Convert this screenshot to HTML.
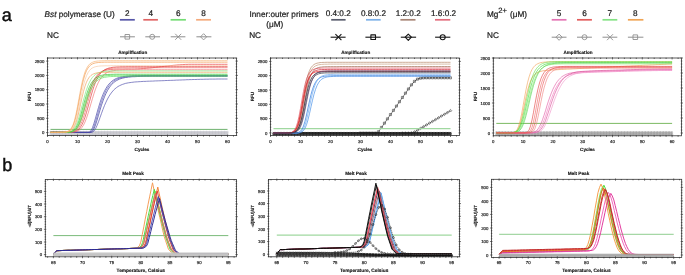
<!DOCTYPE html>
<html><head><meta charset="utf-8"><title>Figure</title>
<style>html,body{margin:0;padding:0;background:#fff;}svg{display:block;font-family:"Liberation Sans",sans-serif;text-rendering:geometricPrecision}polyline,path{fill:none;stroke-linejoin:round}.lg{stroke:#1e1e1e;stroke-width:0.22px}</style>
</head><body>
<svg width="685" height="275" viewBox="0 0 685 275" style="will-change:transform">
<rect width="685" height="275" fill="#fff"/>
<text x="1.8" y="20.6" font-size="18" fill="#111" stroke="#111" stroke-width="0.45">a</text>
<text x="2.2" y="171.0" font-size="18" fill="#111" stroke="#111" stroke-width="0.45">b</text>
<text x="44.6" y="16.6" font-size="8.2" fill="#1e1e1e" class="lg"><tspan font-style="italic">Bst</tspan> polymerase (U)</text>
<text x="127.4" y="16.3" font-size="8.2" text-anchor="middle" fill="#1e1e1e" class="lg">2</text>
<line x1="119.9" y1="19.8" x2="134.8" y2="19.8" stroke="#5656a8" stroke-width="1.7"/>
<text x="150.7" y="16.3" font-size="8.2" text-anchor="middle" fill="#1e1e1e" class="lg">4</text>
<line x1="143.3" y1="19.8" x2="157.9" y2="19.8" stroke="#e06464" stroke-width="1.7"/>
<text x="178.2" y="16.3" font-size="8.2" text-anchor="middle" fill="#1e1e1e" class="lg">6</text>
<line x1="170.6" y1="19.8" x2="185.9" y2="19.8" stroke="#74dc74" stroke-width="1.7"/>
<text x="203.5" y="16.3" font-size="8.2" text-anchor="middle" fill="#1e1e1e" class="lg">8</text>
<line x1="196.1" y1="19.8" x2="211.0" y2="19.8" stroke="#f4aa7c" stroke-width="1.7"/>
<text x="47.0" y="38.4" font-size="8.2" fill="#1e1e1e" class="lg">NC</text>
<line x1="120.0" y1="36.8" x2="134.9" y2="36.8" stroke="#8e8e8e" stroke-width="1.0"/>
<path d="M125,34.5h4.6v4.6h-4.6z" stroke="#8e8e8e" stroke-width="0.9"/>
<line x1="145.3" y1="36.8" x2="160.0" y2="36.8" stroke="#8e8e8e" stroke-width="1.0"/>
<path d="M149.7,36.8a2.5,2.5 0 1 0 5,0a2.5,2.5 0 1 0 -5,0z" stroke="#8e8e8e" stroke-width="0.9"/>
<line x1="170.7" y1="36.8" x2="185.4" y2="36.8" stroke="#8e8e8e" stroke-width="1.0"/>
<path d="M175.2,33.8l6,6M175.2,39.8l6,-6" stroke="#8e8e8e" stroke-width="0.9"/>
<line x1="196.4" y1="36.8" x2="211.4" y2="36.8" stroke="#8e8e8e" stroke-width="1.0"/>
<path d="M203.6,33.7l3.1,3.1l-3.1,3.1l-3.1,-3.1z" stroke="#8e8e8e" stroke-width="0.9"/>
<text x="249.5" y="16.6" font-size="8.2" fill="#1e1e1e" class="lg">Inner:outer primers</text>
<text x="266.3" y="26.9" font-size="8.2" fill="#1e1e1e" class="lg">(μM)</text>
<text x="325.7" y="16.4" font-size="8.2" fill="#1e1e1e" class="lg">0.4:0.2</text>
<line x1="331.2" y1="19.8" x2="345.6" y2="19.8" stroke="#585c6c" stroke-width="1.7"/>
<text x="360.9" y="16.4" font-size="8.2" fill="#1e1e1e" class="lg">0.8:0.2</text>
<line x1="366.0" y1="19.8" x2="380.7" y2="19.8" stroke="#7cb0e8" stroke-width="1.7"/>
<text x="395.7" y="16.4" font-size="8.2" fill="#1e1e1e" class="lg">1.2:0.2</text>
<line x1="400.4" y1="19.8" x2="415.5" y2="19.8" stroke="#a88474" stroke-width="1.7"/>
<text x="431.0" y="16.4" font-size="8.2" fill="#1e1e1e" class="lg">1.6:0.2</text>
<line x1="435.0" y1="19.8" x2="450.3" y2="19.8" stroke="#e26c7c" stroke-width="1.7"/>
<text x="249.2" y="38.3" font-size="8.2" fill="#1e1e1e" class="lg">NC</text>
<line x1="330.6" y1="37.2" x2="345.6" y2="37.2" stroke="#151515" stroke-width="1.1"/>
<path d="M335.4,34.2l6,6M335.4,40.2l6,-6" stroke="#151515" stroke-width="1.1"/>
<line x1="365.4" y1="37.2" x2="380.7" y2="37.2" stroke="#151515" stroke-width="1.1"/>
<path d="M370.9,34.9h4.6v4.6h-4.6z" stroke="#151515" stroke-width="1.1"/>
<line x1="400.8" y1="37.2" x2="416.1" y2="37.2" stroke="#151515" stroke-width="1.1"/>
<path d="M408.3,34.1l3.1,3.1l-3.1,3.1l-3.1,-3.1z" stroke="#151515" stroke-width="1.1"/>
<line x1="435.1" y1="37.2" x2="450.3" y2="37.2" stroke="#151515" stroke-width="1.1"/>
<path d="M440.2,37.2a2.5,2.5 0 1 0 5,0a2.5,2.5 0 1 0 -5,0z" stroke="#151515" stroke-width="1.1"/>
<text x="487.0" y="16.7" font-size="8.2" fill="#1e1e1e" class="lg">Mg</text>
<text x="498.2" y="12.6" font-size="7.6" fill="#1e1e1e" class="lg">2+</text>
<text x="510.0" y="16.7" font-size="8.2" fill="#1e1e1e" class="lg">(μM)</text>
<text x="559.1" y="16.3" font-size="8.2" text-anchor="middle" fill="#1e1e1e" class="lg">5</text>
<line x1="551.7" y1="19.8" x2="566.5" y2="19.8" stroke="#e474b4" stroke-width="1.7"/>
<text x="584.5" y="16.3" font-size="8.2" text-anchor="middle" fill="#1e1e1e" class="lg">6</text>
<line x1="577.0" y1="19.8" x2="591.9" y2="19.8" stroke="#e25c5c" stroke-width="1.7"/>
<text x="609.9" y="16.3" font-size="8.2" text-anchor="middle" fill="#1e1e1e" class="lg">7</text>
<line x1="602.5" y1="19.8" x2="617.3" y2="19.8" stroke="#84e284" stroke-width="1.7"/>
<text x="635.3" y="16.3" font-size="8.2" text-anchor="middle" fill="#1e1e1e" class="lg">8</text>
<line x1="627.9" y1="19.8" x2="643.4" y2="19.8" stroke="#f0a454" stroke-width="1.7"/>
<text x="487.0" y="38.4" font-size="8.2" fill="#1e1e1e" class="lg">NC</text>
<line x1="551.7" y1="37.2" x2="566.5" y2="37.2" stroke="#8e8e8e" stroke-width="1.0"/>
<path d="M559.1,34.1l3.1,3.1l-3.1,3.1l-3.1,-3.1z" stroke="#8e8e8e" stroke-width="0.9"/>
<line x1="577.0" y1="37.2" x2="591.9" y2="37.2" stroke="#8e8e8e" stroke-width="1.0"/>
<path d="M582,37.2a2.5,2.5 0 1 0 5,0a2.5,2.5 0 1 0 -5,0z" stroke="#8e8e8e" stroke-width="0.9"/>
<line x1="602.5" y1="37.2" x2="617.3" y2="37.2" stroke="#8e8e8e" stroke-width="1.0"/>
<path d="M607,34.2l6,6M607,40.2l6,-6" stroke="#8e8e8e" stroke-width="0.9"/>
<line x1="627.9" y1="37.2" x2="643.4" y2="37.2" stroke="#8e8e8e" stroke-width="1.0"/>
<path d="M633,34.9h4.6v4.6h-4.6z" stroke="#8e8e8e" stroke-width="0.9"/>
<line x1="50.5" y1="131.9" x2="227.5" y2="131.9" stroke="#c0c0c8" stroke-width="1.0"/>
<line x1="50.5" y1="132.9" x2="227.5" y2="132.9" stroke="#c0c0c8" stroke-width="1.0"/>
<line x1="50.5" y1="133.9" x2="227.5" y2="133.9" stroke="#c0c0c8" stroke-width="1.0"/>
<line x1="50.5" y1="134.9" x2="227.5" y2="134.9" stroke="#c0c0c8" stroke-width="1.0"/>
<path d="M49.8,131.2h1.4v1.4h-1.4zM52.8,131.2h1.4v1.4h-1.4zM55.8,131.2h1.4v1.4h-1.4zM58.8,131.2h1.4v1.4h-1.4zM61.8,131.2h1.4v1.4h-1.4zM64.8,131.2h1.4v1.4h-1.4zM67.8,131.2h1.4v1.4h-1.4zM70.8,131.2h1.4v1.4h-1.4zM73.8,131.2h1.4v1.4h-1.4zM76.8,131.2h1.4v1.4h-1.4zM79.8,131.2h1.4v1.4h-1.4zM82.8,131.2h1.4v1.4h-1.4zM85.8,131.2h1.4v1.4h-1.4zM88.8,131.2h1.4v1.4h-1.4zM91.8,131.2h1.4v1.4h-1.4zM94.8,131.2h1.4v1.4h-1.4zM97.8,131.2h1.4v1.4h-1.4zM100.8,131.2h1.4v1.4h-1.4zM103.8,131.2h1.4v1.4h-1.4zM106.8,131.2h1.4v1.4h-1.4zM109.8,131.2h1.4v1.4h-1.4zM112.8,131.2h1.4v1.4h-1.4zM115.8,131.2h1.4v1.4h-1.4zM118.8,131.2h1.4v1.4h-1.4zM121.8,131.2h1.4v1.4h-1.4zM124.8,131.2h1.4v1.4h-1.4zM127.8,131.2h1.4v1.4h-1.4zM130.8,131.2h1.4v1.4h-1.4zM133.8,131.2h1.4v1.4h-1.4zM136.8,131.2h1.4v1.4h-1.4zM139.8,131.2h1.4v1.4h-1.4zM142.8,131.2h1.4v1.4h-1.4zM145.8,131.2h1.4v1.4h-1.4zM148.8,131.2h1.4v1.4h-1.4zM151.8,131.2h1.4v1.4h-1.4zM154.8,131.2h1.4v1.4h-1.4zM157.8,131.2h1.4v1.4h-1.4zM160.8,131.2h1.4v1.4h-1.4zM163.8,131.2h1.4v1.4h-1.4zM166.8,131.2h1.4v1.4h-1.4zM169.8,131.2h1.4v1.4h-1.4zM172.8,131.2h1.4v1.4h-1.4zM175.8,131.2h1.4v1.4h-1.4zM178.8,131.2h1.4v1.4h-1.4zM181.8,131.2h1.4v1.4h-1.4zM184.8,131.2h1.4v1.4h-1.4zM187.8,131.2h1.4v1.4h-1.4zM190.8,131.2h1.4v1.4h-1.4zM193.8,131.2h1.4v1.4h-1.4zM196.8,131.2h1.4v1.4h-1.4zM199.8,131.2h1.4v1.4h-1.4zM202.8,131.2h1.4v1.4h-1.4zM205.8,131.2h1.4v1.4h-1.4zM208.8,131.2h1.4v1.4h-1.4zM211.8,131.2h1.4v1.4h-1.4zM214.8,131.2h1.4v1.4h-1.4zM217.8,131.2h1.4v1.4h-1.4zM220.8,131.2h1.4v1.4h-1.4zM223.8,131.2h1.4v1.4h-1.4zM226.8,131.2h1.4v1.4h-1.4zM49.8,132.9a0.7,0.7 0 1 0 1.4,0a0.7,0.7 0 1 0 -1.4,0zM52.8,132.9a0.7,0.7 0 1 0 1.4,0a0.7,0.7 0 1 0 -1.4,0zM55.8,132.9a0.7,0.7 0 1 0 1.4,0a0.7,0.7 0 1 0 -1.4,0zM58.8,132.9a0.7,0.7 0 1 0 1.4,0a0.7,0.7 0 1 0 -1.4,0zM61.8,132.9a0.7,0.7 0 1 0 1.4,0a0.7,0.7 0 1 0 -1.4,0zM64.8,132.9a0.7,0.7 0 1 0 1.4,0a0.7,0.7 0 1 0 -1.4,0zM67.8,132.9a0.7,0.7 0 1 0 1.4,0a0.7,0.7 0 1 0 -1.4,0zM70.8,132.9a0.7,0.7 0 1 0 1.4,0a0.7,0.7 0 1 0 -1.4,0zM73.8,132.9a0.7,0.7 0 1 0 1.4,0a0.7,0.7 0 1 0 -1.4,0zM76.8,132.9a0.7,0.7 0 1 0 1.4,0a0.7,0.7 0 1 0 -1.4,0zM79.8,132.9a0.7,0.7 0 1 0 1.4,0a0.7,0.7 0 1 0 -1.4,0zM82.8,132.9a0.7,0.7 0 1 0 1.4,0a0.7,0.7 0 1 0 -1.4,0zM85.8,132.9a0.7,0.7 0 1 0 1.4,0a0.7,0.7 0 1 0 -1.4,0zM88.8,132.9a0.7,0.7 0 1 0 1.4,0a0.7,0.7 0 1 0 -1.4,0zM91.8,132.9a0.7,0.7 0 1 0 1.4,0a0.7,0.7 0 1 0 -1.4,0zM94.8,132.9a0.7,0.7 0 1 0 1.4,0a0.7,0.7 0 1 0 -1.4,0zM97.8,132.9a0.7,0.7 0 1 0 1.4,0a0.7,0.7 0 1 0 -1.4,0zM100.8,132.9a0.7,0.7 0 1 0 1.4,0a0.7,0.7 0 1 0 -1.4,0zM103.8,132.9a0.7,0.7 0 1 0 1.4,0a0.7,0.7 0 1 0 -1.4,0zM106.8,132.9a0.7,0.7 0 1 0 1.4,0a0.7,0.7 0 1 0 -1.4,0zM109.8,132.9a0.7,0.7 0 1 0 1.4,0a0.7,0.7 0 1 0 -1.4,0zM112.8,132.9a0.7,0.7 0 1 0 1.4,0a0.7,0.7 0 1 0 -1.4,0zM115.8,132.9a0.7,0.7 0 1 0 1.4,0a0.7,0.7 0 1 0 -1.4,0zM118.8,132.9a0.7,0.7 0 1 0 1.4,0a0.7,0.7 0 1 0 -1.4,0zM121.8,132.9a0.7,0.7 0 1 0 1.4,0a0.7,0.7 0 1 0 -1.4,0zM124.8,132.9a0.7,0.7 0 1 0 1.4,0a0.7,0.7 0 1 0 -1.4,0zM127.8,132.9a0.7,0.7 0 1 0 1.4,0a0.7,0.7 0 1 0 -1.4,0zM130.8,132.9a0.7,0.7 0 1 0 1.4,0a0.7,0.7 0 1 0 -1.4,0zM133.8,132.9a0.7,0.7 0 1 0 1.4,0a0.7,0.7 0 1 0 -1.4,0zM136.8,132.9a0.7,0.7 0 1 0 1.4,0a0.7,0.7 0 1 0 -1.4,0zM139.8,132.9a0.7,0.7 0 1 0 1.4,0a0.7,0.7 0 1 0 -1.4,0zM142.8,132.9a0.7,0.7 0 1 0 1.4,0a0.7,0.7 0 1 0 -1.4,0zM145.8,132.9a0.7,0.7 0 1 0 1.4,0a0.7,0.7 0 1 0 -1.4,0zM148.8,132.9a0.7,0.7 0 1 0 1.4,0a0.7,0.7 0 1 0 -1.4,0zM151.8,132.9a0.7,0.7 0 1 0 1.4,0a0.7,0.7 0 1 0 -1.4,0zM154.8,132.9a0.7,0.7 0 1 0 1.4,0a0.7,0.7 0 1 0 -1.4,0zM157.8,132.9a0.7,0.7 0 1 0 1.4,0a0.7,0.7 0 1 0 -1.4,0zM160.8,132.9a0.7,0.7 0 1 0 1.4,0a0.7,0.7 0 1 0 -1.4,0zM163.8,132.9a0.7,0.7 0 1 0 1.4,0a0.7,0.7 0 1 0 -1.4,0zM166.8,132.9a0.7,0.7 0 1 0 1.4,0a0.7,0.7 0 1 0 -1.4,0zM169.8,132.9a0.7,0.7 0 1 0 1.4,0a0.7,0.7 0 1 0 -1.4,0zM172.8,132.9a0.7,0.7 0 1 0 1.4,0a0.7,0.7 0 1 0 -1.4,0zM175.8,132.9a0.7,0.7 0 1 0 1.4,0a0.7,0.7 0 1 0 -1.4,0zM178.8,132.9a0.7,0.7 0 1 0 1.4,0a0.7,0.7 0 1 0 -1.4,0zM181.8,132.9a0.7,0.7 0 1 0 1.4,0a0.7,0.7 0 1 0 -1.4,0zM184.8,132.9a0.7,0.7 0 1 0 1.4,0a0.7,0.7 0 1 0 -1.4,0zM187.8,132.9a0.7,0.7 0 1 0 1.4,0a0.7,0.7 0 1 0 -1.4,0zM190.8,132.9a0.7,0.7 0 1 0 1.4,0a0.7,0.7 0 1 0 -1.4,0zM193.8,132.9a0.7,0.7 0 1 0 1.4,0a0.7,0.7 0 1 0 -1.4,0zM196.8,132.9a0.7,0.7 0 1 0 1.4,0a0.7,0.7 0 1 0 -1.4,0zM199.8,132.9a0.7,0.7 0 1 0 1.4,0a0.7,0.7 0 1 0 -1.4,0zM202.8,132.9a0.7,0.7 0 1 0 1.4,0a0.7,0.7 0 1 0 -1.4,0zM205.8,132.9a0.7,0.7 0 1 0 1.4,0a0.7,0.7 0 1 0 -1.4,0zM208.8,132.9a0.7,0.7 0 1 0 1.4,0a0.7,0.7 0 1 0 -1.4,0zM211.8,132.9a0.7,0.7 0 1 0 1.4,0a0.7,0.7 0 1 0 -1.4,0zM214.8,132.9a0.7,0.7 0 1 0 1.4,0a0.7,0.7 0 1 0 -1.4,0zM217.8,132.9a0.7,0.7 0 1 0 1.4,0a0.7,0.7 0 1 0 -1.4,0zM220.8,132.9a0.7,0.7 0 1 0 1.4,0a0.7,0.7 0 1 0 -1.4,0zM223.8,132.9a0.7,0.7 0 1 0 1.4,0a0.7,0.7 0 1 0 -1.4,0zM226.8,132.9a0.7,0.7 0 1 0 1.4,0a0.7,0.7 0 1 0 -1.4,0zM49.8,133.2l1.4,1.4M49.8,134.6l1.4,-1.4M52.8,133.2l1.4,1.4M52.8,134.6l1.4,-1.4M55.8,133.2l1.4,1.4M55.8,134.6l1.4,-1.4M58.8,133.2l1.4,1.4M58.8,134.6l1.4,-1.4M61.8,133.2l1.4,1.4M61.8,134.6l1.4,-1.4M64.8,133.2l1.4,1.4M64.8,134.6l1.4,-1.4M67.8,133.2l1.4,1.4M67.8,134.6l1.4,-1.4M70.8,133.2l1.4,1.4M70.8,134.6l1.4,-1.4M73.8,133.2l1.4,1.4M73.8,134.6l1.4,-1.4M76.8,133.2l1.4,1.4M76.8,134.6l1.4,-1.4M79.8,133.2l1.4,1.4M79.8,134.6l1.4,-1.4M82.8,133.2l1.4,1.4M82.8,134.6l1.4,-1.4M85.8,133.2l1.4,1.4M85.8,134.6l1.4,-1.4M88.8,133.2l1.4,1.4M88.8,134.6l1.4,-1.4M91.8,133.2l1.4,1.4M91.8,134.6l1.4,-1.4M94.8,133.2l1.4,1.4M94.8,134.6l1.4,-1.4M97.8,133.2l1.4,1.4M97.8,134.6l1.4,-1.4M100.8,133.2l1.4,1.4M100.8,134.6l1.4,-1.4M103.8,133.2l1.4,1.4M103.8,134.6l1.4,-1.4M106.8,133.2l1.4,1.4M106.8,134.6l1.4,-1.4M109.8,133.2l1.4,1.4M109.8,134.6l1.4,-1.4M112.8,133.2l1.4,1.4M112.8,134.6l1.4,-1.4M115.8,133.2l1.4,1.4M115.8,134.6l1.4,-1.4M118.8,133.2l1.4,1.4M118.8,134.6l1.4,-1.4M121.8,133.2l1.4,1.4M121.8,134.6l1.4,-1.4M124.8,133.2l1.4,1.4M124.8,134.6l1.4,-1.4M127.8,133.2l1.4,1.4M127.8,134.6l1.4,-1.4M130.8,133.2l1.4,1.4M130.8,134.6l1.4,-1.4M133.8,133.2l1.4,1.4M133.8,134.6l1.4,-1.4M136.8,133.2l1.4,1.4M136.8,134.6l1.4,-1.4M139.8,133.2l1.4,1.4M139.8,134.6l1.4,-1.4M142.8,133.2l1.4,1.4M142.8,134.6l1.4,-1.4M145.8,133.2l1.4,1.4M145.8,134.6l1.4,-1.4M148.8,133.2l1.4,1.4M148.8,134.6l1.4,-1.4M151.8,133.2l1.4,1.4M151.8,134.6l1.4,-1.4M154.8,133.2l1.4,1.4M154.8,134.6l1.4,-1.4M157.8,133.2l1.4,1.4M157.8,134.6l1.4,-1.4M160.8,133.2l1.4,1.4M160.8,134.6l1.4,-1.4M163.8,133.2l1.4,1.4M163.8,134.6l1.4,-1.4M166.8,133.2l1.4,1.4M166.8,134.6l1.4,-1.4M169.8,133.2l1.4,1.4M169.8,134.6l1.4,-1.4M172.8,133.2l1.4,1.4M172.8,134.6l1.4,-1.4M175.8,133.2l1.4,1.4M175.8,134.6l1.4,-1.4M178.8,133.2l1.4,1.4M178.8,134.6l1.4,-1.4M181.8,133.2l1.4,1.4M181.8,134.6l1.4,-1.4M184.8,133.2l1.4,1.4M184.8,134.6l1.4,-1.4M187.8,133.2l1.4,1.4M187.8,134.6l1.4,-1.4M190.8,133.2l1.4,1.4M190.8,134.6l1.4,-1.4M193.8,133.2l1.4,1.4M193.8,134.6l1.4,-1.4M196.8,133.2l1.4,1.4M196.8,134.6l1.4,-1.4M199.8,133.2l1.4,1.4M199.8,134.6l1.4,-1.4M202.8,133.2l1.4,1.4M202.8,134.6l1.4,-1.4M205.8,133.2l1.4,1.4M205.8,134.6l1.4,-1.4M208.8,133.2l1.4,1.4M208.8,134.6l1.4,-1.4M211.8,133.2l1.4,1.4M211.8,134.6l1.4,-1.4M214.8,133.2l1.4,1.4M214.8,134.6l1.4,-1.4M217.8,133.2l1.4,1.4M217.8,134.6l1.4,-1.4M220.8,133.2l1.4,1.4M220.8,134.6l1.4,-1.4M223.8,133.2l1.4,1.4M223.8,134.6l1.4,-1.4M226.8,133.2l1.4,1.4M226.8,134.6l1.4,-1.4M50.5,133.9l0.9,0.9l-0.9,0.9l-0.9,-0.9zM53.5,133.9l0.9,0.9l-0.9,0.9l-0.9,-0.9zM56.5,133.9l0.9,0.9l-0.9,0.9l-0.9,-0.9zM59.5,133.9l0.9,0.9l-0.9,0.9l-0.9,-0.9zM62.5,133.9l0.9,0.9l-0.9,0.9l-0.9,-0.9zM65.5,133.9l0.9,0.9l-0.9,0.9l-0.9,-0.9zM68.5,133.9l0.9,0.9l-0.9,0.9l-0.9,-0.9zM71.5,133.9l0.9,0.9l-0.9,0.9l-0.9,-0.9zM74.5,133.9l0.9,0.9l-0.9,0.9l-0.9,-0.9zM77.5,133.9l0.9,0.9l-0.9,0.9l-0.9,-0.9zM80.5,133.9l0.9,0.9l-0.9,0.9l-0.9,-0.9zM83.5,133.9l0.9,0.9l-0.9,0.9l-0.9,-0.9zM86.5,133.9l0.9,0.9l-0.9,0.9l-0.9,-0.9zM89.5,133.9l0.9,0.9l-0.9,0.9l-0.9,-0.9zM92.5,133.9l0.9,0.9l-0.9,0.9l-0.9,-0.9zM95.5,133.9l0.9,0.9l-0.9,0.9l-0.9,-0.9zM98.5,133.9l0.9,0.9l-0.9,0.9l-0.9,-0.9zM101.5,133.9l0.9,0.9l-0.9,0.9l-0.9,-0.9zM104.5,133.9l0.9,0.9l-0.9,0.9l-0.9,-0.9zM107.5,133.9l0.9,0.9l-0.9,0.9l-0.9,-0.9zM110.5,133.9l0.9,0.9l-0.9,0.9l-0.9,-0.9zM113.5,133.9l0.9,0.9l-0.9,0.9l-0.9,-0.9zM116.5,133.9l0.9,0.9l-0.9,0.9l-0.9,-0.9zM119.5,133.9l0.9,0.9l-0.9,0.9l-0.9,-0.9zM122.5,133.9l0.9,0.9l-0.9,0.9l-0.9,-0.9zM125.5,133.9l0.9,0.9l-0.9,0.9l-0.9,-0.9zM128.5,133.9l0.9,0.9l-0.9,0.9l-0.9,-0.9zM131.5,133.9l0.9,0.9l-0.9,0.9l-0.9,-0.9zM134.5,133.9l0.9,0.9l-0.9,0.9l-0.9,-0.9zM137.5,133.9l0.9,0.9l-0.9,0.9l-0.9,-0.9zM140.5,133.9l0.9,0.9l-0.9,0.9l-0.9,-0.9zM143.5,133.9l0.9,0.9l-0.9,0.9l-0.9,-0.9zM146.5,133.9l0.9,0.9l-0.9,0.9l-0.9,-0.9zM149.5,133.9l0.9,0.9l-0.9,0.9l-0.9,-0.9zM152.5,133.9l0.9,0.9l-0.9,0.9l-0.9,-0.9zM155.5,133.9l0.9,0.9l-0.9,0.9l-0.9,-0.9zM158.5,133.9l0.9,0.9l-0.9,0.9l-0.9,-0.9zM161.5,133.9l0.9,0.9l-0.9,0.9l-0.9,-0.9zM164.5,133.9l0.9,0.9l-0.9,0.9l-0.9,-0.9zM167.5,133.9l0.9,0.9l-0.9,0.9l-0.9,-0.9zM170.5,133.9l0.9,0.9l-0.9,0.9l-0.9,-0.9zM173.5,133.9l0.9,0.9l-0.9,0.9l-0.9,-0.9zM176.5,133.9l0.9,0.9l-0.9,0.9l-0.9,-0.9zM179.5,133.9l0.9,0.9l-0.9,0.9l-0.9,-0.9zM182.5,133.9l0.9,0.9l-0.9,0.9l-0.9,-0.9zM185.5,133.9l0.9,0.9l-0.9,0.9l-0.9,-0.9zM188.5,133.9l0.9,0.9l-0.9,0.9l-0.9,-0.9zM191.5,133.9l0.9,0.9l-0.9,0.9l-0.9,-0.9zM194.5,133.9l0.9,0.9l-0.9,0.9l-0.9,-0.9zM197.5,133.9l0.9,0.9l-0.9,0.9l-0.9,-0.9zM200.5,133.9l0.9,0.9l-0.9,0.9l-0.9,-0.9zM203.5,133.9l0.9,0.9l-0.9,0.9l-0.9,-0.9zM206.5,133.9l0.9,0.9l-0.9,0.9l-0.9,-0.9zM209.5,133.9l0.9,0.9l-0.9,0.9l-0.9,-0.9zM212.5,133.9l0.9,0.9l-0.9,0.9l-0.9,-0.9zM215.5,133.9l0.9,0.9l-0.9,0.9l-0.9,-0.9zM218.5,133.9l0.9,0.9l-0.9,0.9l-0.9,-0.9zM221.5,133.9l0.9,0.9l-0.9,0.9l-0.9,-0.9zM224.5,133.9l0.9,0.9l-0.9,0.9l-0.9,-0.9zM227.5,133.9l0.9,0.9l-0.9,0.9l-0.9,-0.9z" stroke="#c0c0c8" stroke-width="0.4"/>
<line x1="50.5" y1="129.4" x2="227.5" y2="129.4" stroke="#4a9e4a" stroke-width="0.8"/>
<polyline points="50.5,132.4 52,132.4 53.5,132.4 55,132.4 56.5,132.4 58,132.4 59.5,132.4 61,132.4 62.5,132.4 64,132.4 65.5,132.4 67,132.4 68.5,132.4 70,132.4 71.5,132.4 73,132.4 74.5,132.4 76,132.4 77.5,132.4 79,132.4 80.5,132.4 82,132.4 83.5,132.4 85,132.4 86.5,132.4 88,132.4 89.5,132.1 91,130.7 92.5,127.6 94,123.2 95.5,118.1 97,112.7 98.5,107.5 100,102.6 101.5,98.2 103,94.4 104.5,91.1 106,88.3 107.5,85.9 109,84 110.5,82.4 112,81.1 113.5,80 115,79.1 116.5,78.4 118,77.8 119.5,77.4 121,77 122.5,76.7 124,76.5 125.5,76.3 127,76.1 128.5,76 130,75.9 131.5,75.8 133,75.7 134.5,75.7 136,75.6 137.5,75.6 139,75.6 140.5,75.5 142,75.5 143.5,75.5 145,75.5 146.5,75.5 148,75.5 149.5,75.5 151,75.5 152.5,75.5 154,75.5 155.5,75.5 157,75.5 158.5,75.5 160,75.5 161.5,75.5 163,75.5 164.5,75.5 166,75.5 167.5,75.5 169,75.5 170.5,75.5 172,75.5 173.5,75.5 175,75.5 176.5,75.5 178,75.5 179.5,75.5 181,75.5 182.5,75.5 184,75.5 185.5,75.5 187,75.5 188.5,75.5 190,75.5 191.5,75.5 193,75.5 194.5,75.5 196,75.5 197.5,75.5 199,75.5 200.5,75.5 202,75.5 203.5,75.5 205,75.5 206.5,75.5 208,75.5 209.5,75.5 211,75.5 212.5,75.5 214,75.5 215.5,75.5 217,75.5 218.5,75.5 220,75.5 221.5,75.5 223,75.5 224.5,75.5 226,75.5 227.5,75.5" stroke="#3c3ca4" stroke-width="0.65" />
<polyline points="50.5,132.4 52,132.4 53.5,132.4 55,132.4 56.5,132.4 58,132.4 59.5,132.4 61,132.4 62.5,132.4 64,132.4 65.5,132.4 67,132.4 68.5,132.4 70,132.4 71.5,132.4 73,132.4 74.5,132.4 76,132.4 77.5,132.4 79,132.4 80.5,132.4 82,132.4 83.5,132.4 85,132.4 86.5,132.4 88,132.4 89.5,132.4 91,131.8 92.5,129.9 94,126.4 95.5,121.8 97,116.6 98.5,111.3 100,106.2 101.5,101.6 103,97.4 104.5,93.8 106,90.6 107.5,88 109,85.8 110.5,84 112,82.5 113.5,81.2 115,80.2 116.5,79.4 118,78.7 119.5,78.2 121,77.7 122.5,77.4 124,77.1 125.5,76.8 127,76.7 128.5,76.5 130,76.4 131.5,76.3 133,76.2 134.5,76.1 136,76.1 137.5,76.1 139,76 140.5,76 142,76 143.5,76 145,75.9 146.5,75.9 148,75.9 149.5,75.9 151,75.9 152.5,75.9 154,75.9 155.5,75.9 157,75.9 158.5,75.9 160,75.9 161.5,75.9 163,75.9 164.5,75.9 166,75.9 167.5,75.9 169,75.9 170.5,75.9 172,75.9 173.5,75.9 175,75.9 176.5,75.9 178,75.9 179.5,75.9 181,75.9 182.5,75.9 184,75.9 185.5,75.9 187,75.9 188.5,75.9 190,75.9 191.5,75.9 193,75.9 194.5,75.9 196,75.9 197.5,75.9 199,75.9 200.5,75.9 202,75.9 203.5,75.9 205,75.9 206.5,75.9 208,75.9 209.5,75.9 211,75.9 212.5,75.9 214,75.9 215.5,75.9 217,75.9 218.5,75.9 220,75.9 221.5,75.9 223,75.9 224.5,75.9 226,75.9 227.5,75.9" stroke="#5050b0" stroke-width="0.65" />
<polyline points="50.5,132.4 52,132.4 53.5,132.4 55,132.4 56.5,132.4 58,132.4 59.5,132.4 61,132.4 62.5,132.4 64,132.4 65.5,132.4 67,132.4 68.5,132.4 70,132.4 71.5,132.4 73,132.4 74.5,132.4 76,132.4 77.5,132.4 79,132.4 80.5,132.4 82,132.4 83.5,132.4 85,132.4 86.5,132.4 88,132.4 89.5,132.4 91,132.3 92.5,131.3 94,128.8 95.5,125 97,120.3 98.5,115.2 100,110.1 101.5,105.2 103,100.8 104.5,96.8 106,93.4 107.5,90.5 109,88 110.5,85.9 112,84.2 113.5,82.7 115,81.5 116.5,80.6 118,79.8 119.5,79.1 121,78.6 122.5,78.2 124,77.8 125.5,77.5 127,77.3 128.5,77.1 130,77 131.5,76.8 133,76.7 134.5,76.7 136,76.6 137.5,76.5 139,76.5 140.5,76.5 142,76.4 143.5,76.4 145,76.4 146.5,76.4 148,76.4 149.5,76.4 151,76.3 152.5,76.3 154,76.3 155.5,76.3 157,76.3 158.5,76.3 160,76.3 161.5,76.3 163,76.3 164.5,76.3 166,76.3 167.5,76.3 169,76.3 170.5,76.3 172,76.3 173.5,76.3 175,76.3 176.5,76.3 178,76.3 179.5,76.3 181,76.3 182.5,76.3 184,76.3 185.5,76.3 187,76.3 188.5,76.3 190,76.3 191.5,76.3 193,76.3 194.5,76.3 196,76.3 197.5,76.3 199,76.3 200.5,76.3 202,76.3 203.5,76.3 205,76.3 206.5,76.3 208,76.3 209.5,76.3 211,76.3 212.5,76.3 214,76.3 215.5,76.3 217,76.3 218.5,76.3 220,76.3 221.5,76.3 223,76.3 224.5,76.3 226,76.3 227.5,76.3" stroke="#303098" stroke-width="0.65" />
<polyline points="50.5,132.4 52,132.4 53.5,132.4 55,132.4 56.5,132.4 58,132.4 59.5,132.4 61,132.4 62.5,132.4 64,132.4 65.5,132.4 67,132.4 68.5,132.4 70,132.4 71.5,132.4 73,132.4 74.5,132.4 76,132.4 77.5,132.4 79,132.4 80.5,132.4 82,132.4 83.5,132.4 85,132.4 86.5,132.4 88,132.4 89.5,132.4 91,132.4 92.5,132.1 94,131 95.5,128.8 97,125.6 98.5,121.8 100,117.6 101.5,113.4 103,109.3 104.5,105.5 106,102.1 107.5,99 109,96.3 110.5,94 112,92 113.5,90.2 115,88.8 116.5,87.6 118,86.5 119.5,85.7 121,85 122.5,84.4 124,83.9 125.5,83.4 127,83.1 128.5,82.8 130,82.6 131.5,82.4 133,82.2 134.5,82 136,81.9 137.5,81.8 139,81.7 140.5,81.6 142,81.5 143.5,81.4 145,81.4 146.5,81.3 148,81.2 149.5,81.2 151,81.1 152.5,81.1 154,81 155.5,80.9 157,80.9 158.5,80.8 160,80.8 161.5,80.7 163,80.7 164.5,80.6 166,80.5 167.5,80.5 169,80.4 170.5,80.4 172,80.3 173.5,80.3 175,80.2 176.5,80.1 178,80.1 179.5,80 181,80 182.5,79.9 184,79.9 185.5,79.8 187,79.7 188.5,79.7 190,79.6 191.5,79.6 193,79.5 194.5,79.5 196,79.5 197.5,79.4 199,79.4 200.5,79.3 202,79.3 203.5,79.3 205,79.2 206.5,79.2 208,79.2 209.5,79.1 211,79.1 212.5,79.1 214,79.1 215.5,79.1 217,79 218.5,79 220,79 221.5,79 223,79 224.5,79 226,79 227.5,79" stroke="#4848a8" stroke-width="0.65" />
<polyline points="50.5,132.4 52,132.4 53.5,132.4 55,132.4 56.5,132.4 58,132.4 59.5,132.4 61,132.4 62.5,132.3 64,132.3 65.5,132.3 67,132.2 68.5,132.1 70,131.9 71.5,131.6 73,131.1 74.5,130.3 76,129.1 77.5,127.3 79,124.7 80.5,121.4 82,117.2 83.5,112.3 85,107 86.5,101.5 88,96.1 89.5,91.2 91,86.8 92.5,83 94,79.9 95.5,77.4 97,75.5 98.5,73.9 100,72.7 101.5,71.8 103,71.1 104.5,70.6 106,70.2 107.5,69.9 109,69.7 110.5,69.5 112,69.4 113.5,69.3 115,69.2 116.5,69.2 118,69.1 119.5,69.1 121,69.1 122.5,69.1 124,69.1 125.5,69 127,69 128.5,69 130,69 131.5,69 133,69 134.5,69 136,68.9 137.5,68.9 139,68.8 140.5,68.7 142,68.6 143.5,68.5 145,68.4 146.5,68.3 148,68.1 149.5,68 151,67.9 152.5,67.7 154,67.5 155.5,67.4 157,67.2 158.5,67 160,66.8 161.5,66.7 163,66.5 164.5,66.3 166,66.1 167.5,66 169,65.8 170.5,65.6 172,65.5 173.5,65.3 175,65.2 176.5,65 178,64.9 179.5,64.8 181,64.7 182.5,64.6 184,64.5 185.5,64.4 187,64.4 188.5,64.3 190,64.3 191.5,64.3 193,64.3 194.5,64.3 196,64.3 197.5,64.3 199,64.3 200.5,64.3 202,64.3 203.5,64.3 205,64.3 206.5,64.3 208,64.3 209.5,64.3 211,64.3 212.5,64.3 214,64.3 215.5,64.3 217,64.3 218.5,64.3 220,64.3 221.5,64.3 223,64.3 224.5,64.3 226,64.3 227.5,64.3" stroke="#e83838" stroke-width="0.65" />
<polyline points="50.5,132.4 52,132.4 53.5,132.4 55,132.4 56.5,132.4 58,132.4 59.5,132.4 61,132.4 62.5,132.4 64,132.3 65.5,132.3 67,132.3 68.5,132.2 70,132.1 71.5,131.9 73,131.6 74.5,131.1 76,130.3 77.5,129 79,127.2 80.5,124.7 82,121.4 83.5,117.2 85,112.3 86.5,107 88,101.4 89.5,96 91,90.9 92.5,86.4 94,82.6 95.5,79.3 97,76.7 98.5,74.6 100,73 101.5,71.7 103,70.8 104.5,70 106,69.5 107.5,69 109,68.7 110.5,68.5 112,68.3 113.5,68.1 115,68 116.5,68 118,67.9 119.5,67.9 121,67.8 122.5,67.8 124,67.8 125.5,67.8 127,67.8 128.5,67.8 130,67.8 131.5,67.7 133,67.7 134.5,67.7 136,67.7 137.5,67.7 139,67.7 140.5,67.7 142,67.7 143.5,67.7 145,67.7 146.5,67.7 148,67.7 149.5,67.7 151,67.7 152.5,67.7 154,67.7 155.5,67.7 157,67.7 158.5,67.7 160,67.7 161.5,67.7 163,67.7 164.5,67.7 166,67.7 167.5,67.7 169,67.7 170.5,67.7 172,67.7 173.5,67.7 175,67.7 176.5,67.7 178,67.7 179.5,67.7 181,67.7 182.5,67.7 184,67.7 185.5,67.7 187,67.7 188.5,67.7 190,67.7 191.5,67.7 193,67.7 194.5,67.7 196,67.7 197.5,67.7 199,67.7 200.5,67.7 202,67.7 203.5,67.7 205,67.7 206.5,67.7 208,67.7 209.5,67.7 211,67.7 212.5,67.7 214,67.7 215.5,67.7 217,67.7 218.5,67.7 220,67.7 221.5,67.7 223,67.7 224.5,67.7 226,67.7 227.5,67.7" stroke="#f06060" stroke-width="0.65" />
<polyline points="50.5,132.4 52,132.4 53.5,132.4 55,132.4 56.5,132.4 58,132.4 59.5,132.4 61,132.4 62.5,132.4 64,132.4 65.5,132.3 67,132.3 68.5,132.3 70,132.2 71.5,132.1 73,131.9 74.5,131.6 76,131 77.5,130.2 79,129 80.5,127.1 82,124.6 83.5,121.3 85,117.2 86.5,112.4 88,107 89.5,101.5 91,96 92.5,90.9 94,86.3 95.5,82.3 97,79 98.5,76.3 100,74.1 101.5,72.3 103,71 104.5,69.9 106,69.1 107.5,68.5 109,68 110.5,67.7 112,67.4 113.5,67.2 115,67.1 116.5,66.9 118,66.9 119.5,66.8 121,66.7 122.5,66.7 124,66.7 125.5,66.7 127,66.6 128.5,66.6 130,66.6 131.5,66.6 133,66.6 134.5,66.6 136,66.6 137.5,66.6 139,66.6 140.5,66.6 142,66.6 143.5,66.6 145,66.6 146.5,66.6 148,66.6 149.5,66.6 151,66.6 152.5,66.6 154,66.6 155.5,66.6 157,66.6 158.5,66.6 160,66.6 161.5,66.6 163,66.6 164.5,66.6 166,66.6 167.5,66.6 169,66.6 170.5,66.6 172,66.6 173.5,66.6 175,66.6 176.5,66.6 178,66.6 179.5,66.6 181,66.6 182.5,66.6 184,66.6 185.5,66.6 187,66.6 188.5,66.6 190,66.6 191.5,66.6 193,66.6 194.5,66.6 196,66.6 197.5,66.6 199,66.6 200.5,66.6 202,66.6 203.5,66.6 205,66.6 206.5,66.6 208,66.6 209.5,66.6 211,66.6 212.5,66.6 214,66.6 215.5,66.6 217,66.6 218.5,66.6 220,66.6 221.5,66.6 223,66.6 224.5,66.6 226,66.6 227.5,66.6" stroke="#e03030" stroke-width="0.65" />
<polyline points="50.5,132.4 52,132.4 53.5,132.4 55,132.4 56.5,132.4 58,132.4 59.5,132.4 61,132.4 62.5,132.4 64,132.4 65.5,132.4 67,132.3 68.5,132.3 70,132.3 71.5,132.2 73,132.1 74.5,131.9 76,131.6 77.5,131.1 79,130.3 80.5,129.1 82,127.4 83.5,125.1 85,122 86.5,118.1 88,113.6 89.5,108.7 91,103.5 92.5,98.4 94,93.5 95.5,89.1 97,85.3 98.5,82.1 100,79.4 101.5,77.3 103,75.6 104.5,74.2 106,73.2 107.5,72.3 109,71.7 110.5,71.2 112,70.9 113.5,70.6 115,70.4 116.5,70.2 118,70.1 119.5,70 121,70 122.5,69.9 124,69.9 125.5,69.8 127,69.8 128.5,69.8 130,69.8 131.5,69.8 133,69.8 134.5,69.8 136,69.8 137.5,69.7 139,69.7 140.5,69.7 142,69.7 143.5,69.7 145,69.7 146.5,69.7 148,69.7 149.5,69.7 151,69.7 152.5,69.7 154,69.7 155.5,69.7 157,69.7 158.5,69.7 160,69.7 161.5,69.7 163,69.7 164.5,69.7 166,69.7 167.5,69.7 169,69.7 170.5,69.7 172,69.7 173.5,69.7 175,69.7 176.5,69.7 178,69.7 179.5,69.7 181,69.7 182.5,69.7 184,69.7 185.5,69.7 187,69.7 188.5,69.7 190,69.7 191.5,69.7 193,69.7 194.5,69.7 196,69.7 197.5,69.7 199,69.7 200.5,69.7 202,69.7 203.5,69.7 205,69.7 206.5,69.7 208,69.7 209.5,69.7 211,69.7 212.5,69.7 214,69.7 215.5,69.7 217,69.7 218.5,69.7 220,69.7 221.5,69.7 223,69.7 224.5,69.7 226,69.7 227.5,69.7" stroke="#f07070" stroke-width="0.65" />
<polyline points="50.5,132.4 52,132.4 53.5,132.4 55,132.4 56.5,132.4 58,132.4 59.5,132.4 61,132.4 62.5,132.3 64,132.3 65.5,132.3 67,132.2 68.5,132 70,131.6 71.5,131 73,129.9 74.5,128.1 76,125.5 77.5,121.8 79,117.1 80.5,111.7 82,105.9 83.5,100 85,94.5 86.5,89.6 88,85.5 89.5,82.1 91,79.4 92.5,77.3 94,75.7 95.5,74.4 97,73.5 98.5,72.8 100,72.3 101.5,71.9 103,71.6 104.5,71.4 106,71.3 107.5,71.2 109,71.1 110.5,71 112,71 113.5,71 115,70.9 116.5,70.9 118,70.9 119.5,70.9 121,70.9 122.5,70.9 124,70.9 125.5,70.9 127,70.9 128.5,70.9 130,70.9 131.5,70.9 133,70.9 134.5,70.9 136,70.9 137.5,70.9 139,70.9 140.5,70.9 142,70.9 143.5,70.9 145,70.9 146.5,70.9 148,70.9 149.5,70.9 151,70.9 152.5,70.9 154,70.9 155.5,70.9 157,70.9 158.5,70.9 160,70.9 161.5,70.9 163,70.9 164.5,70.9 166,70.9 167.5,70.9 169,70.9 170.5,70.9 172,70.9 173.5,70.9 175,70.9 176.5,70.9 178,70.9 179.5,70.9 181,70.9 182.5,70.9 184,70.9 185.5,70.9 187,70.9 188.5,70.9 190,70.9 191.5,70.9 193,70.9 194.5,70.9 196,70.9 197.5,70.9 199,70.9 200.5,70.9 202,70.9 203.5,70.9 205,70.9 206.5,70.9 208,70.9 209.5,70.9 211,70.9 212.5,70.9 214,70.9 215.5,70.9 217,70.9 218.5,70.9 220,70.9 221.5,70.9 223,70.9 224.5,70.9 226,70.9 227.5,70.9" stroke="#78e878" stroke-width="0.65" />
<polyline points="50.5,132.4 52,132.4 53.5,132.4 55,132.4 56.5,132.4 58,132.4 59.5,132.4 61,132.4 62.5,132.4 64,132.3 65.5,132.3 67,132.3 68.5,132.1 70,131.9 71.5,131.5 73,130.7 74.5,129.4 76,127.4 77.5,124.6 79,120.7 80.5,116 82,110.6 83.5,105 85,99.6 86.5,94.6 88,90.3 89.5,86.6 91,83.7 92.5,81.4 94,79.6 95.5,78.2 97,77.1 98.5,76.4 100,75.8 101.5,75.4 103,75 104.5,74.8 106,74.6 107.5,74.5 109,74.4 110.5,74.4 112,74.3 113.5,74.3 115,74.2 116.5,74.2 118,74.2 119.5,74.2 121,74.2 122.5,74.2 124,74.2 125.5,74.2 127,74.2 128.5,74.2 130,74.2 131.5,74.2 133,74.2 134.5,74.2 136,74.2 137.5,74.2 139,74.2 140.5,74.2 142,74.2 143.5,74.2 145,74.2 146.5,74.2 148,74.2 149.5,74.2 151,74.2 152.5,74.2 154,74.2 155.5,74.2 157,74.2 158.5,74.2 160,74.2 161.5,74.2 163,74.2 164.5,74.2 166,74.2 167.5,74.2 169,74.2 170.5,74.2 172,74.2 173.5,74.2 175,74.2 176.5,74.2 178,74.2 179.5,74.2 181,74.2 182.5,74.2 184,74.2 185.5,74.2 187,74.2 188.5,74.2 190,74.2 191.5,74.2 193,74.2 194.5,74.2 196,74.2 197.5,74.2 199,74.2 200.5,74.2 202,74.2 203.5,74.2 205,74.2 206.5,74.2 208,74.2 209.5,74.2 211,74.2 212.5,74.2 214,74.2 215.5,74.2 217,74.2 218.5,74.2 220,74.2 221.5,74.2 223,74.2 224.5,74.2 226,74.2 227.5,74.2" stroke="#28c028" stroke-width="0.65" />
<polyline points="50.5,132.4 52,132.4 53.5,132.4 55,132.4 56.5,132.4 58,132.4 59.5,132.4 61,132.4 62.5,132.4 64,132.4 65.5,132.3 67,132.3 68.5,132.2 70,132 71.5,131.7 73,131.2 74.5,130.2 76,128.7 77.5,126.4 79,123.1 80.5,119 82,114.1 83.5,108.8 85,103.4 86.5,98.2 88,93.6 89.5,89.6 91,86.4 92.5,83.7 94,81.6 95.5,80 97,78.8 98.5,77.9 100,77.2 101.5,76.6 103,76.3 104.5,76 106,75.8 107.5,75.6 109,75.5 110.5,75.4 112,75.3 113.5,75.3 115,75.3 116.5,75.2 118,75.2 119.5,75.2 121,75.2 122.5,75.2 124,75.2 125.5,75.2 127,75.2 128.5,75.2 130,75.2 131.5,75.2 133,75.2 134.5,75.2 136,75.2 137.5,75.2 139,75.2 140.5,75.2 142,75.2 143.5,75.2 145,75.2 146.5,75.2 148,75.2 149.5,75.2 151,75.2 152.5,75.2 154,75.2 155.5,75.2 157,75.2 158.5,75.2 160,75.2 161.5,75.2 163,75.2 164.5,75.2 166,75.2 167.5,75.2 169,75.2 170.5,75.2 172,75.2 173.5,75.2 175,75.2 176.5,75.2 178,75.2 179.5,75.2 181,75.2 182.5,75.2 184,75.2 185.5,75.2 187,75.2 188.5,75.2 190,75.2 191.5,75.2 193,75.2 194.5,75.2 196,75.2 197.5,75.2 199,75.2 200.5,75.2 202,75.2 203.5,75.2 205,75.2 206.5,75.2 208,75.2 209.5,75.2 211,75.2 212.5,75.2 214,75.2 215.5,75.2 217,75.2 218.5,75.2 220,75.2 221.5,75.2 223,75.2 224.5,75.2 226,75.2 227.5,75.2" stroke="#40e040" stroke-width="0.65" />
<polyline points="50.5,132.4 52,132.4 53.5,132.4 55,132.4 56.5,132.4 58,132.4 59.5,132.4 61,132.4 62.5,132.4 64,132.4 65.5,132.3 67,132.3 68.5,132.2 70,132.1 71.5,131.9 73,131.5 74.5,130.8 76,129.6 77.5,127.7 79,125.1 80.5,121.6 82,117.3 83.5,112.4 85,107.2 86.5,102 88,97.2 89.5,93 91,89.4 92.5,86.4 94,84 95.5,82.2 97,80.7 98.5,79.6 100,78.8 101.5,78.2 103,77.7 104.5,77.3 106,77.1 107.5,76.9 109,76.7 110.5,76.6 112,76.5 113.5,76.5 115,76.4 116.5,76.4 118,76.4 119.5,76.4 121,76.4 122.5,76.3 124,76.3 125.5,76.3 127,76.3 128.5,76.3 130,76.3 131.5,76.3 133,76.3 134.5,76.3 136,76.3 137.5,76.3 139,76.3 140.5,76.3 142,76.3 143.5,76.3 145,76.3 146.5,76.3 148,76.3 149.5,76.3 151,76.3 152.5,76.3 154,76.3 155.5,76.3 157,76.3 158.5,76.3 160,76.3 161.5,76.3 163,76.3 164.5,76.3 166,76.3 167.5,76.3 169,76.3 170.5,76.3 172,76.3 173.5,76.3 175,76.3 176.5,76.3 178,76.3 179.5,76.3 181,76.3 182.5,76.3 184,76.3 185.5,76.3 187,76.3 188.5,76.3 190,76.3 191.5,76.3 193,76.3 194.5,76.3 196,76.3 197.5,76.3 199,76.3 200.5,76.3 202,76.3 203.5,76.3 205,76.3 206.5,76.3 208,76.3 209.5,76.3 211,76.3 212.5,76.3 214,76.3 215.5,76.3 217,76.3 218.5,76.3 220,76.3 221.5,76.3 223,76.3 224.5,76.3 226,76.3 227.5,76.3" stroke="#58e058" stroke-width="0.65" />
<polyline points="50.5,132.4 52,132.4 53.5,132.4 55,132.4 56.5,132.4 58,132.4 59.5,132.3 61,132.3 62.5,132.2 64,132.1 65.5,131.9 67,131.6 68.5,130.9 70,129.8 71.5,127.8 73,124.8 74.5,120.3 76,114.1 77.5,106.6 79,98.3 80.5,90.2 82,82.8 83.5,76.7 85,72 86.5,68.5 88,66 89.5,64.2 91,63.1 92.5,62.3 94,61.7 95.5,61.4 97,61.1 98.5,61 100,60.9 101.5,60.8 103,60.8 104.5,60.7 106,60.7 107.5,60.7 109,60.7 110.5,60.7 112,60.7 113.5,60.7 115,60.7 116.5,60.7 118,60.7 119.5,60.7 121,60.7 122.5,60.7 124,60.7 125.5,60.7 127,60.7 128.5,60.7 130,60.7 131.5,60.7 133,60.7 134.5,60.7 136,60.7 137.5,60.7 139,60.7 140.5,60.7 142,60.7 143.5,60.7 145,60.7 146.5,60.7 148,60.7 149.5,60.7 151,60.7 152.5,60.7 154,60.7 155.5,60.7 157,60.7 158.5,60.7 160,60.7 161.5,60.7 163,60.7 164.5,60.7 166,60.7 167.5,60.7 169,60.7 170.5,60.7 172,60.7 173.5,60.7 175,60.7 176.5,60.7 178,60.7 179.5,60.7 181,60.7 182.5,60.7 184,60.7 185.5,60.7 187,60.7 188.5,60.7 190,60.7 191.5,60.7 193,60.7 194.5,60.7 196,60.7 197.5,60.7 199,60.7 200.5,60.7 202,60.7 203.5,60.7 205,60.7 206.5,60.7 208,60.7 209.5,60.7 211,60.7 212.5,60.7 214,60.7 215.5,60.7 217,60.7 218.5,60.7 220,60.7 221.5,60.7 223,60.7 224.5,60.7 226,60.7 227.5,60.7" stroke="#f6b070" stroke-width="0.65" />
<polyline points="50.5,132.4 52,132.4 53.5,132.4 55,132.4 56.5,132.4 58,132.4 59.5,132.3 61,132.3 62.5,132.3 64,132.2 65.5,132 67,131.7 68.5,131.2 70,130.2 71.5,128.6 73,126 74.5,122 76,116.5 77.5,109.5 79,101.5 80.5,93.4 82,85.9 83.5,79.5 85,74.5 86.5,70.7 88,68 89.5,66.1 91,64.8 92.5,63.9 94,63.3 95.5,62.9 97,62.7 98.5,62.5 100,62.4 101.5,62.3 103,62.3 104.5,62.2 106,62.2 107.5,62.2 109,62.2 110.5,62.2 112,62.2 113.5,62.2 115,62.2 116.5,62.2 118,62.2 119.5,62.2 121,62.2 122.5,62.2 124,62.2 125.5,62.2 127,62.2 128.5,62.2 130,62.2 131.5,62.2 133,62.2 134.5,62.2 136,62.2 137.5,62.2 139,62.2 140.5,62.2 142,62.2 143.5,62.2 145,62.2 146.5,62.2 148,62.2 149.5,62.2 151,62.2 152.5,62.2 154,62.2 155.5,62.2 157,62.2 158.5,62.2 160,62.2 161.5,62.2 163,62.2 164.5,62.2 166,62.2 167.5,62.2 169,62.2 170.5,62.2 172,62.2 173.5,62.2 175,62.2 176.5,62.2 178,62.2 179.5,62.2 181,62.2 182.5,62.2 184,62.2 185.5,62.2 187,62.2 188.5,62.2 190,62.2 191.5,62.2 193,62.2 194.5,62.2 196,62.2 197.5,62.2 199,62.2 200.5,62.2 202,62.2 203.5,62.2 205,62.2 206.5,62.2 208,62.2 209.5,62.2 211,62.2 212.5,62.2 214,62.2 215.5,62.2 217,62.2 218.5,62.2 220,62.2 221.5,62.2 223,62.2 224.5,62.2 226,62.2 227.5,62.2" stroke="#f29848" stroke-width="0.65" />
<polyline points="50.5,132.4 52,132.4 53.5,132.4 55,132.4 56.5,132.4 58,132.4 59.5,132.3 61,132.3 62.5,132.3 64,132.2 65.5,132.1 67,131.9 68.5,131.5 70,130.7 71.5,129.5 73,127.5 74.5,124.4 76,119.9 77.5,113.9 79,106.8 80.5,99.2 82,91.8 83.5,85.3 85,79.9 86.5,75.7 88,72.7 89.5,70.5 91,68.9 92.5,67.9 94,67.2 95.5,66.7 97,66.4 98.5,66.2 100,66 101.5,65.9 103,65.9 104.5,65.8 106,65.8 107.5,65.8 109,65.8 110.5,65.7 112,65.7 113.5,65.7 115,65.7 116.5,65.7 118,65.7 119.5,65.7 121,65.7 122.5,65.7 124,65.7 125.5,65.7 127,65.7 128.5,65.7 130,65.7 131.5,65.7 133,65.7 134.5,65.7 136,65.7 137.5,65.7 139,65.7 140.5,65.7 142,65.7 143.5,65.7 145,65.7 146.5,65.7 148,65.7 149.5,65.7 151,65.7 152.5,65.7 154,65.7 155.5,65.7 157,65.7 158.5,65.7 160,65.7 161.5,65.7 163,65.7 164.5,65.7 166,65.7 167.5,65.7 169,65.7 170.5,65.7 172,65.7 173.5,65.7 175,65.7 176.5,65.7 178,65.7 179.5,65.7 181,65.7 182.5,65.7 184,65.7 185.5,65.7 187,65.7 188.5,65.7 190,65.7 191.5,65.7 193,65.7 194.5,65.7 196,65.7 197.5,65.7 199,65.7 200.5,65.7 202,65.7 203.5,65.7 205,65.7 206.5,65.7 208,65.7 209.5,65.7 211,65.7 212.5,65.7 214,65.7 215.5,65.7 217,65.7 218.5,65.7 220,65.7 221.5,65.7 223,65.7 224.5,65.7 226,65.7 227.5,65.7" stroke="#f8c8a0" stroke-width="0.65" />
<polyline points="50.5,132.4 52,132.4 53.5,132.4 55,132.4 56.5,132.4 58,132.4 59.5,132.4 61,132.3 62.5,132.3 64,132.3 65.5,132.2 67,132 68.5,131.7 70,131.2 71.5,130.3 73,128.8 74.5,126.3 76,122.7 77.5,117.7 79,111.5 80.5,104.6 82,97.7 83.5,91.4 85,86.2 86.5,82.1 88,79.1 89.5,76.9 91,75.4 92.5,74.4 94,73.7 95.5,73.2 97,72.9 98.5,72.7 100,72.6 101.5,72.5 103,72.4 104.5,72.4 106,72.4 107.5,72.3 109,72.3 110.5,72.3 112,72.3 113.5,72.3 115,72.3 116.5,72.3 118,72.3 119.5,72.3 121,72.3 122.5,72.3 124,72.3 125.5,72.3 127,72.3 128.5,72.3 130,72.3 131.5,72.3 133,72.3 134.5,72.3 136,72.3 137.5,72.3 139,72.3 140.5,72.3 142,72.3 143.5,72.3 145,72.3 146.5,72.3 148,72.3 149.5,72.3 151,72.3 152.5,72.3 154,72.3 155.5,72.3 157,72.3 158.5,72.3 160,72.3 161.5,72.3 163,72.3 164.5,72.3 166,72.3 167.5,72.3 169,72.3 170.5,72.3 172,72.3 173.5,72.3 175,72.3 176.5,72.3 178,72.3 179.5,72.3 181,72.3 182.5,72.3 184,72.3 185.5,72.3 187,72.3 188.5,72.3 190,72.3 191.5,72.3 193,72.3 194.5,72.3 196,72.3 197.5,72.3 199,72.3 200.5,72.3 202,72.3 203.5,72.3 205,72.3 206.5,72.3 208,72.3 209.5,72.3 211,72.3 212.5,72.3 214,72.3 215.5,72.3 217,72.3 218.5,72.3 220,72.3 221.5,72.3 223,72.3 224.5,72.3 226,72.3 227.5,72.3" stroke="#f0a058" stroke-width="0.65" />
<rect x="47.5" y="58.0" width="189.0" height="77.6" fill="none" stroke="#333" stroke-width="0.8"/>
<path d="M53.5,135.1v1.5M53.5,57.7v1.3M59.5,135.1v1.5M59.5,57.7v1.3M65.5,135.1v1.5M65.5,57.7v1.3M71.5,135.1v1.5M71.5,57.7v1.3M83.5,135.1v1.5M83.5,57.7v1.3M89.5,135.1v1.5M89.5,57.7v1.3M95.5,135.1v1.5M95.5,57.7v1.3M101.5,135.1v1.5M101.5,57.7v1.3M113.5,135.1v1.5M113.5,57.7v1.3M119.5,135.1v1.5M119.5,57.7v1.3M125.5,135.1v1.5M125.5,57.7v1.3M131.5,135.1v1.5M131.5,57.7v1.3M143.5,135.1v1.5M143.5,57.7v1.3M149.5,135.1v1.5M149.5,57.7v1.3M155.5,135.1v1.5M155.5,57.7v1.3M161.5,135.1v1.5M161.5,57.7v1.3M173.5,135.1v1.5M173.5,57.7v1.3M179.5,135.1v1.5M179.5,57.7v1.3M185.5,135.1v1.5M185.5,57.7v1.3M191.5,135.1v1.5M191.5,57.7v1.3M203.5,135.1v1.5M203.5,57.7v1.3M209.5,135.1v1.5M209.5,57.7v1.3M215.5,135.1v1.5M215.5,57.7v1.3M221.5,135.1v1.5M221.5,57.7v1.3M233.5,135.1v1.5M233.5,57.7v1.3M47.5,134.6v2.4M47.5,57.2v2.2M77.5,134.6v2.4M77.5,57.2v2.2M107.5,134.6v2.4M107.5,57.2v2.2M137.5,134.6v2.4M137.5,57.2v2.2M167.5,134.6v2.4M167.5,57.2v2.2M197.5,134.6v2.4M197.5,57.2v2.2M227.5,134.6v2.4M227.5,57.2v2.2M46.9,135.5h1.4M235.7,135.5h1.5M46.9,129.7h1.4M235.7,129.7h1.5M46.9,126.9h1.4M235.7,126.9h1.5M46.9,124h1.4M235.7,124h1.5M46.9,121.2h1.4M235.7,121.2h1.5M46.9,115.4h1.4M235.7,115.4h1.5M46.9,112.6h1.4M235.7,112.6h1.5M46.9,109.7h1.4M235.7,109.7h1.5M46.9,106.9h1.4M235.7,106.9h1.5M46.9,101.1h1.4M235.7,101.1h1.5M46.9,98.3h1.4M235.7,98.3h1.5M46.9,95.4h1.4M235.7,95.4h1.5M46.9,92.6h1.4M235.7,92.6h1.5M46.9,86.8h1.4M235.7,86.8h1.5M46.9,84h1.4M235.7,84h1.5M46.9,81.1h1.4M235.7,81.1h1.5M46.9,78.3h1.4M235.7,78.3h1.5M46.9,72.5h1.4M235.7,72.5h1.5M46.9,69.7h1.4M235.7,69.7h1.5M46.9,66.8h1.4M235.7,66.8h1.5M46.9,64h1.4M235.7,64h1.5M46.9,58.2h1.4M235.7,58.2h1.5M46.1,132.6h2.4M235.5,132.6h2.4M46.1,118.3h2.4M235.5,118.3h2.4M46.1,104h2.4M235.5,104h2.4M46.1,89.7h2.4M235.5,89.7h2.4M46.1,75.4h2.4M235.5,75.4h2.4M46.1,61.1h2.4M235.5,61.1h2.4" stroke="#333" stroke-width="0.7"/>
<text x="47.5" y="142.6" font-size="4.3" text-anchor="middle" fill="#222" stroke="#222" stroke-width="0.18">0</text>
<text x="77.5" y="142.6" font-size="4.3" text-anchor="middle" fill="#222" stroke="#222" stroke-width="0.18">10</text>
<text x="107.5" y="142.6" font-size="4.3" text-anchor="middle" fill="#222" stroke="#222" stroke-width="0.18">20</text>
<text x="137.5" y="142.6" font-size="4.3" text-anchor="middle" fill="#222" stroke="#222" stroke-width="0.18">30</text>
<text x="167.5" y="142.6" font-size="4.3" text-anchor="middle" fill="#222" stroke="#222" stroke-width="0.18">40</text>
<text x="197.5" y="142.6" font-size="4.3" text-anchor="middle" fill="#222" stroke="#222" stroke-width="0.18">50</text>
<text x="227.5" y="142.6" font-size="4.3" text-anchor="middle" fill="#222" stroke="#222" stroke-width="0.18">60</text>
<text x="44.3" y="134.2" font-size="4.3" text-anchor="end" fill="#222" stroke="#222" stroke-width="0.18">0</text>
<text x="44.3" y="119.9" font-size="4.3" text-anchor="end" fill="#222" stroke="#222" stroke-width="0.18">500</text>
<text x="44.3" y="105.6" font-size="4.3" text-anchor="end" fill="#222" stroke="#222" stroke-width="0.18">1000</text>
<text x="44.3" y="91.3" font-size="4.3" text-anchor="end" fill="#222" stroke="#222" stroke-width="0.18">1500</text>
<text x="44.3" y="77" font-size="4.3" text-anchor="end" fill="#222" stroke="#222" stroke-width="0.18">2000</text>
<text x="44.3" y="62.7" font-size="4.3" text-anchor="end" fill="#222" stroke="#222" stroke-width="0.18">2500</text>
<text x="132.7" y="54.0" font-size="4.6" text-anchor="middle" font-weight="bold" fill="#111" stroke="#111" stroke-width="0.12">Amplification</text>
<text x="142" y="150.5" font-size="4.6" text-anchor="middle" font-weight="bold" fill="#111" stroke="#111" stroke-width="0.12">Cycles</text>
<text transform="translate(30.9,96.6) rotate(-90)" font-size="4.6" font-weight="bold" text-anchor="middle" fill="#111" stroke="#111" stroke-width="0.12">RFU</text>
<line x1="273.5" y1="132.6" x2="450.5" y2="132.6" stroke="#1a1a1a" stroke-width="0.8"/>
<line x1="273.5" y1="133.3" x2="450.5" y2="133.3" stroke="#1a1a1a" stroke-width="0.8"/>
<line x1="273.5" y1="134" x2="450.5" y2="134" stroke="#1a1a1a" stroke-width="0.8"/>
<line x1="273.5" y1="134.8" x2="450.5" y2="134.8" stroke="#1a1a1a" stroke-width="0.8"/>
<path d="M272.8,131.9l1.5,1.5M272.8,133.4l1.5,-1.5M275.8,131.9l1.5,1.5M275.8,133.4l1.5,-1.5M278.8,131.9l1.5,1.5M278.8,133.4l1.5,-1.5M281.8,131.9l1.5,1.5M281.8,133.4l1.5,-1.5M284.8,131.9l1.5,1.5M284.8,133.4l1.5,-1.5M287.8,131.9l1.5,1.5M287.8,133.4l1.5,-1.5M290.8,131.9l1.5,1.5M290.8,133.4l1.5,-1.5M293.8,131.9l1.5,1.5M293.8,133.4l1.5,-1.5M296.8,131.9l1.5,1.5M296.8,133.4l1.5,-1.5M299.8,131.9l1.5,1.5M299.8,133.4l1.5,-1.5M302.8,131.9l1.5,1.5M302.8,133.4l1.5,-1.5M305.8,131.9l1.5,1.5M305.8,133.4l1.5,-1.5M308.8,131.9l1.5,1.5M308.8,133.4l1.5,-1.5M311.8,131.9l1.5,1.5M311.8,133.4l1.5,-1.5M314.8,131.9l1.5,1.5M314.8,133.4l1.5,-1.5M317.8,131.9l1.5,1.5M317.8,133.4l1.5,-1.5M320.8,131.9l1.5,1.5M320.8,133.4l1.5,-1.5M323.8,131.9l1.5,1.5M323.8,133.4l1.5,-1.5M326.8,131.9l1.5,1.5M326.8,133.4l1.5,-1.5M329.8,131.9l1.5,1.5M329.8,133.4l1.5,-1.5M332.8,131.9l1.5,1.5M332.8,133.4l1.5,-1.5M335.8,131.9l1.5,1.5M335.8,133.4l1.5,-1.5M338.8,131.9l1.5,1.5M338.8,133.4l1.5,-1.5M341.8,131.9l1.5,1.5M341.8,133.4l1.5,-1.5M344.8,131.9l1.5,1.5M344.8,133.4l1.5,-1.5M347.8,131.9l1.5,1.5M347.8,133.4l1.5,-1.5M350.8,131.9l1.5,1.5M350.8,133.4l1.5,-1.5M353.8,131.9l1.5,1.5M353.8,133.4l1.5,-1.5M356.8,131.9l1.5,1.5M356.8,133.4l1.5,-1.5M359.8,131.9l1.5,1.5M359.8,133.4l1.5,-1.5M362.8,131.9l1.5,1.5M362.8,133.4l1.5,-1.5M365.8,131.9l1.5,1.5M365.8,133.4l1.5,-1.5M368.8,131.9l1.5,1.5M368.8,133.4l1.5,-1.5M371.8,131.9l1.5,1.5M371.8,133.4l1.5,-1.5M374.8,131.9l1.5,1.5M374.8,133.4l1.5,-1.5M377.8,131.9l1.5,1.5M377.8,133.4l1.5,-1.5M380.8,131.9l1.5,1.5M380.8,133.4l1.5,-1.5M383.8,131.9l1.5,1.5M383.8,133.4l1.5,-1.5M386.8,131.9l1.5,1.5M386.8,133.4l1.5,-1.5M389.8,131.9l1.5,1.5M389.8,133.4l1.5,-1.5M392.8,131.9l1.5,1.5M392.8,133.4l1.5,-1.5M395.8,131.9l1.5,1.5M395.8,133.4l1.5,-1.5M398.8,131.9l1.5,1.5M398.8,133.4l1.5,-1.5M401.8,131.9l1.5,1.5M401.8,133.4l1.5,-1.5M404.8,131.9l1.5,1.5M404.8,133.4l1.5,-1.5M407.8,131.9l1.5,1.5M407.8,133.4l1.5,-1.5M410.8,131.9l1.5,1.5M410.8,133.4l1.5,-1.5M413.8,131.9l1.5,1.5M413.8,133.4l1.5,-1.5M416.8,131.9l1.5,1.5M416.8,133.4l1.5,-1.5M419.8,131.9l1.5,1.5M419.8,133.4l1.5,-1.5M422.8,131.9l1.5,1.5M422.8,133.4l1.5,-1.5M425.8,131.9l1.5,1.5M425.8,133.4l1.5,-1.5M428.8,131.9l1.5,1.5M428.8,133.4l1.5,-1.5M431.8,131.9l1.5,1.5M431.8,133.4l1.5,-1.5M434.8,131.9l1.5,1.5M434.8,133.4l1.5,-1.5M437.8,131.9l1.5,1.5M437.8,133.4l1.5,-1.5M440.8,131.9l1.5,1.5M440.8,133.4l1.5,-1.5M443.8,131.9l1.5,1.5M443.8,133.4l1.5,-1.5M446.8,131.9l1.5,1.5M446.8,133.4l1.5,-1.5M449.8,131.9l1.5,1.5M449.8,133.4l1.5,-1.5M272.8,132.6h1.5v1.5h-1.5zM275.8,132.6h1.5v1.5h-1.5zM278.8,132.6h1.5v1.5h-1.5zM281.8,132.6h1.5v1.5h-1.5zM284.8,132.6h1.5v1.5h-1.5zM287.8,132.6h1.5v1.5h-1.5zM290.8,132.6h1.5v1.5h-1.5zM293.8,132.6h1.5v1.5h-1.5zM296.8,132.6h1.5v1.5h-1.5zM299.8,132.6h1.5v1.5h-1.5zM302.8,132.6h1.5v1.5h-1.5zM305.8,132.6h1.5v1.5h-1.5zM308.8,132.6h1.5v1.5h-1.5zM311.8,132.6h1.5v1.5h-1.5zM314.8,132.6h1.5v1.5h-1.5zM317.8,132.6h1.5v1.5h-1.5zM320.8,132.6h1.5v1.5h-1.5zM323.8,132.6h1.5v1.5h-1.5zM326.8,132.6h1.5v1.5h-1.5zM329.8,132.6h1.5v1.5h-1.5zM332.8,132.6h1.5v1.5h-1.5zM335.8,132.6h1.5v1.5h-1.5zM338.8,132.6h1.5v1.5h-1.5zM341.8,132.6h1.5v1.5h-1.5zM344.8,132.6h1.5v1.5h-1.5zM347.8,132.6h1.5v1.5h-1.5zM350.8,132.6h1.5v1.5h-1.5zM353.8,132.6h1.5v1.5h-1.5zM356.8,132.6h1.5v1.5h-1.5zM359.8,132.6h1.5v1.5h-1.5zM362.8,132.6h1.5v1.5h-1.5zM365.8,132.6h1.5v1.5h-1.5zM368.8,132.6h1.5v1.5h-1.5zM371.8,132.6h1.5v1.5h-1.5zM374.8,132.6h1.5v1.5h-1.5zM377.8,132.6h1.5v1.5h-1.5zM380.8,132.6h1.5v1.5h-1.5zM383.8,132.6h1.5v1.5h-1.5zM386.8,132.6h1.5v1.5h-1.5zM389.8,132.6h1.5v1.5h-1.5zM392.8,132.6h1.5v1.5h-1.5zM395.8,132.6h1.5v1.5h-1.5zM398.8,132.6h1.5v1.5h-1.5zM401.8,132.6h1.5v1.5h-1.5zM404.8,132.6h1.5v1.5h-1.5zM407.8,132.6h1.5v1.5h-1.5zM410.8,132.6h1.5v1.5h-1.5zM413.8,132.6h1.5v1.5h-1.5zM416.8,132.6h1.5v1.5h-1.5zM419.8,132.6h1.5v1.5h-1.5zM422.8,132.6h1.5v1.5h-1.5zM425.8,132.6h1.5v1.5h-1.5zM428.8,132.6h1.5v1.5h-1.5zM431.8,132.6h1.5v1.5h-1.5zM434.8,132.6h1.5v1.5h-1.5zM437.8,132.6h1.5v1.5h-1.5zM440.8,132.6h1.5v1.5h-1.5zM443.8,132.6h1.5v1.5h-1.5zM446.8,132.6h1.5v1.5h-1.5zM449.8,132.6h1.5v1.5h-1.5zM273.5,133l1,1l-1,1l-1,-1zM276.5,133l1,1l-1,1l-1,-1zM279.5,133l1,1l-1,1l-1,-1zM282.5,133l1,1l-1,1l-1,-1zM285.5,133l1,1l-1,1l-1,-1zM288.5,133l1,1l-1,1l-1,-1zM291.5,133l1,1l-1,1l-1,-1zM294.5,133l1,1l-1,1l-1,-1zM297.5,133l1,1l-1,1l-1,-1zM300.5,133l1,1l-1,1l-1,-1zM303.5,133l1,1l-1,1l-1,-1zM306.5,133l1,1l-1,1l-1,-1zM309.5,133l1,1l-1,1l-1,-1zM312.5,133l1,1l-1,1l-1,-1zM315.5,133l1,1l-1,1l-1,-1zM318.5,133l1,1l-1,1l-1,-1zM321.5,133l1,1l-1,1l-1,-1zM324.5,133l1,1l-1,1l-1,-1zM327.5,133l1,1l-1,1l-1,-1zM330.5,133l1,1l-1,1l-1,-1zM333.5,133l1,1l-1,1l-1,-1zM336.5,133l1,1l-1,1l-1,-1zM339.5,133l1,1l-1,1l-1,-1zM342.5,133l1,1l-1,1l-1,-1zM345.5,133l1,1l-1,1l-1,-1zM348.5,133l1,1l-1,1l-1,-1zM351.5,133l1,1l-1,1l-1,-1zM354.5,133l1,1l-1,1l-1,-1zM357.5,133l1,1l-1,1l-1,-1zM360.5,133l1,1l-1,1l-1,-1zM363.5,133l1,1l-1,1l-1,-1zM366.5,133l1,1l-1,1l-1,-1zM369.5,133l1,1l-1,1l-1,-1zM372.5,133l1,1l-1,1l-1,-1zM375.5,133l1,1l-1,1l-1,-1zM378.5,133l1,1l-1,1l-1,-1zM381.5,133l1,1l-1,1l-1,-1zM384.5,133l1,1l-1,1l-1,-1zM387.5,133l1,1l-1,1l-1,-1zM390.5,133l1,1l-1,1l-1,-1zM393.5,133l1,1l-1,1l-1,-1zM396.5,133l1,1l-1,1l-1,-1zM399.5,133l1,1l-1,1l-1,-1zM402.5,133l1,1l-1,1l-1,-1zM405.5,133l1,1l-1,1l-1,-1zM408.5,133l1,1l-1,1l-1,-1zM411.5,133l1,1l-1,1l-1,-1zM414.5,133l1,1l-1,1l-1,-1zM417.5,133l1,1l-1,1l-1,-1zM420.5,133l1,1l-1,1l-1,-1zM423.5,133l1,1l-1,1l-1,-1zM426.5,133l1,1l-1,1l-1,-1zM429.5,133l1,1l-1,1l-1,-1zM432.5,133l1,1l-1,1l-1,-1zM435.5,133l1,1l-1,1l-1,-1zM438.5,133l1,1l-1,1l-1,-1zM441.5,133l1,1l-1,1l-1,-1zM444.5,133l1,1l-1,1l-1,-1zM447.5,133l1,1l-1,1l-1,-1zM450.5,133l1,1l-1,1l-1,-1zM272.8,134.8a0.75,0.75 0 1 0 1.5,0a0.75,0.75 0 1 0 -1.5,0zM275.8,134.8a0.75,0.75 0 1 0 1.5,0a0.75,0.75 0 1 0 -1.5,0zM278.8,134.8a0.75,0.75 0 1 0 1.5,0a0.75,0.75 0 1 0 -1.5,0zM281.8,134.8a0.75,0.75 0 1 0 1.5,0a0.75,0.75 0 1 0 -1.5,0zM284.8,134.8a0.75,0.75 0 1 0 1.5,0a0.75,0.75 0 1 0 -1.5,0zM287.8,134.8a0.75,0.75 0 1 0 1.5,0a0.75,0.75 0 1 0 -1.5,0zM290.8,134.8a0.75,0.75 0 1 0 1.5,0a0.75,0.75 0 1 0 -1.5,0zM293.8,134.8a0.75,0.75 0 1 0 1.5,0a0.75,0.75 0 1 0 -1.5,0zM296.8,134.8a0.75,0.75 0 1 0 1.5,0a0.75,0.75 0 1 0 -1.5,0zM299.8,134.8a0.75,0.75 0 1 0 1.5,0a0.75,0.75 0 1 0 -1.5,0zM302.8,134.8a0.75,0.75 0 1 0 1.5,0a0.75,0.75 0 1 0 -1.5,0zM305.8,134.8a0.75,0.75 0 1 0 1.5,0a0.75,0.75 0 1 0 -1.5,0zM308.8,134.8a0.75,0.75 0 1 0 1.5,0a0.75,0.75 0 1 0 -1.5,0zM311.8,134.8a0.75,0.75 0 1 0 1.5,0a0.75,0.75 0 1 0 -1.5,0zM314.8,134.8a0.75,0.75 0 1 0 1.5,0a0.75,0.75 0 1 0 -1.5,0zM317.8,134.8a0.75,0.75 0 1 0 1.5,0a0.75,0.75 0 1 0 -1.5,0zM320.8,134.8a0.75,0.75 0 1 0 1.5,0a0.75,0.75 0 1 0 -1.5,0zM323.8,134.8a0.75,0.75 0 1 0 1.5,0a0.75,0.75 0 1 0 -1.5,0zM326.8,134.8a0.75,0.75 0 1 0 1.5,0a0.75,0.75 0 1 0 -1.5,0zM329.8,134.8a0.75,0.75 0 1 0 1.5,0a0.75,0.75 0 1 0 -1.5,0zM332.8,134.8a0.75,0.75 0 1 0 1.5,0a0.75,0.75 0 1 0 -1.5,0zM335.8,134.8a0.75,0.75 0 1 0 1.5,0a0.75,0.75 0 1 0 -1.5,0zM338.8,134.8a0.75,0.75 0 1 0 1.5,0a0.75,0.75 0 1 0 -1.5,0zM341.8,134.8a0.75,0.75 0 1 0 1.5,0a0.75,0.75 0 1 0 -1.5,0zM344.8,134.8a0.75,0.75 0 1 0 1.5,0a0.75,0.75 0 1 0 -1.5,0zM347.8,134.8a0.75,0.75 0 1 0 1.5,0a0.75,0.75 0 1 0 -1.5,0zM350.8,134.8a0.75,0.75 0 1 0 1.5,0a0.75,0.75 0 1 0 -1.5,0zM353.8,134.8a0.75,0.75 0 1 0 1.5,0a0.75,0.75 0 1 0 -1.5,0zM356.8,134.8a0.75,0.75 0 1 0 1.5,0a0.75,0.75 0 1 0 -1.5,0zM359.8,134.8a0.75,0.75 0 1 0 1.5,0a0.75,0.75 0 1 0 -1.5,0zM362.8,134.8a0.75,0.75 0 1 0 1.5,0a0.75,0.75 0 1 0 -1.5,0zM365.8,134.8a0.75,0.75 0 1 0 1.5,0a0.75,0.75 0 1 0 -1.5,0zM368.8,134.8a0.75,0.75 0 1 0 1.5,0a0.75,0.75 0 1 0 -1.5,0zM371.8,134.8a0.75,0.75 0 1 0 1.5,0a0.75,0.75 0 1 0 -1.5,0zM374.8,134.8a0.75,0.75 0 1 0 1.5,0a0.75,0.75 0 1 0 -1.5,0zM377.8,134.8a0.75,0.75 0 1 0 1.5,0a0.75,0.75 0 1 0 -1.5,0zM380.8,134.8a0.75,0.75 0 1 0 1.5,0a0.75,0.75 0 1 0 -1.5,0zM383.8,134.8a0.75,0.75 0 1 0 1.5,0a0.75,0.75 0 1 0 -1.5,0zM386.8,134.8a0.75,0.75 0 1 0 1.5,0a0.75,0.75 0 1 0 -1.5,0zM389.8,134.8a0.75,0.75 0 1 0 1.5,0a0.75,0.75 0 1 0 -1.5,0zM392.8,134.8a0.75,0.75 0 1 0 1.5,0a0.75,0.75 0 1 0 -1.5,0zM395.8,134.8a0.75,0.75 0 1 0 1.5,0a0.75,0.75 0 1 0 -1.5,0zM398.8,134.8a0.75,0.75 0 1 0 1.5,0a0.75,0.75 0 1 0 -1.5,0zM401.8,134.8a0.75,0.75 0 1 0 1.5,0a0.75,0.75 0 1 0 -1.5,0zM404.8,134.8a0.75,0.75 0 1 0 1.5,0a0.75,0.75 0 1 0 -1.5,0zM407.8,134.8a0.75,0.75 0 1 0 1.5,0a0.75,0.75 0 1 0 -1.5,0zM410.8,134.8a0.75,0.75 0 1 0 1.5,0a0.75,0.75 0 1 0 -1.5,0zM413.8,134.8a0.75,0.75 0 1 0 1.5,0a0.75,0.75 0 1 0 -1.5,0zM416.8,134.8a0.75,0.75 0 1 0 1.5,0a0.75,0.75 0 1 0 -1.5,0zM419.8,134.8a0.75,0.75 0 1 0 1.5,0a0.75,0.75 0 1 0 -1.5,0zM422.8,134.8a0.75,0.75 0 1 0 1.5,0a0.75,0.75 0 1 0 -1.5,0zM425.8,134.8a0.75,0.75 0 1 0 1.5,0a0.75,0.75 0 1 0 -1.5,0zM428.8,134.8a0.75,0.75 0 1 0 1.5,0a0.75,0.75 0 1 0 -1.5,0zM431.8,134.8a0.75,0.75 0 1 0 1.5,0a0.75,0.75 0 1 0 -1.5,0zM434.8,134.8a0.75,0.75 0 1 0 1.5,0a0.75,0.75 0 1 0 -1.5,0zM437.8,134.8a0.75,0.75 0 1 0 1.5,0a0.75,0.75 0 1 0 -1.5,0zM440.8,134.8a0.75,0.75 0 1 0 1.5,0a0.75,0.75 0 1 0 -1.5,0zM443.8,134.8a0.75,0.75 0 1 0 1.5,0a0.75,0.75 0 1 0 -1.5,0zM446.8,134.8a0.75,0.75 0 1 0 1.5,0a0.75,0.75 0 1 0 -1.5,0zM449.8,134.8a0.75,0.75 0 1 0 1.5,0a0.75,0.75 0 1 0 -1.5,0z" stroke="#1a1a1a" stroke-width="0.4"/>
<polyline points="273.5,133 275,133 276.5,133 278,133 279.5,133 281,133 282.5,133 284,133 285.5,133 287,133 288.5,133 290,133 291.5,133 293,133 294.5,133 296,133 297.5,133 299,133 300.5,133 302,133 303.5,133 305,133 306.5,133 308,133 309.5,133 311,133 312.5,133 314,133 315.5,133 317,133 318.5,133 320,133 321.5,133 323,133 324.5,133 326,133 327.5,133 329,133 330.5,133 332,133 333.5,133 335,133 336.5,133 338,133 339.5,133 341,133 342.5,133 344,133 345.5,133 347,133 348.5,133 350,133 351.5,133 353,133 354.5,133 356,133 357.5,133 359,133 360.5,133 362,133 363.5,133 365,133 366.5,133 368,133 369.5,133 371,133 372.5,133 374,133 375.5,133 377,133 378.5,131.7 380,129.6 381.5,127.5 383,125.3 384.5,123.2 386,121 387.5,118.9 389,116.7 390.5,114.6 392,112.5 393.5,110.3 395,108.2 396.5,106 398,103.9 399.5,101.7 401,99.6 402.5,97.4 404,95.3 405.5,93.2 407,91 408.5,88.9 410,86.9 411.5,84.9 413,83 414.5,81.4 416,80.1 417.5,79.1 419,78.5 420.5,78.2 422,78 423.5,77.9 425,77.9 426.5,77.9 428,77.9 429.5,77.9 431,77.8 432.5,77.8 434,77.8 435.5,77.8 437,77.8 438.5,77.8 440,77.8 441.5,77.8 443,77.8 444.5,77.8 446,77.8 447.5,77.8 449,77.8 450.5,77.8" stroke="#2a2a2a" stroke-width="0.6" />
<polyline points="273.5,133 275,133 276.5,133 278,133 279.5,133 281,133 282.5,133 284,133 285.5,133 287,133 288.5,133 290,133 291.5,133 293,133 294.5,133 296,133 297.5,133 299,133 300.5,133 302,133 303.5,133 305,133 306.5,133 308,133 309.5,133 311,133 312.5,133 314,133 315.5,133 317,133 318.5,133 320,133 321.5,133 323,133 324.5,133 326,133 327.5,133 329,133 330.5,133 332,133 333.5,133 335,133 336.5,133 338,133 339.5,133 341,133 342.5,133 344,133 345.5,133 347,133 348.5,133 350,133 351.5,133 353,133 354.5,133 356,133 357.5,133 359,133 360.5,133 362,133 363.5,133 365,133 366.5,133 368,133 369.5,133 371,133 372.5,133 374,133 375.5,133 377,133 378.5,133 380,133 381.5,133 383,133 384.5,133 386,133 387.5,133 389,133 390.5,133 392,133 393.5,133 395,133 396.5,133 398,133 399.5,133 401,133 402.5,133 404,133 405.5,133 407,133 408.5,133 410,133 411.5,132.9 413,132.6 414.5,131.9 416,131.1 417.5,130.2 419,129.3 420.5,128.4 422,127.5 423.5,126.7 425,125.8 426.5,124.9 428,124 429.5,123.1 431,122.2 432.5,121.3 434,120.5 435.5,119.6 437,118.7 438.5,117.8 440,116.9 441.5,116 443,115.1 444.5,114.2 446,113.4 447.5,112.5 449,111.6 450.5,110.7" stroke="#2a2a2a" stroke-width="0.6" />
<path d="M359.4,132h2.1v2.1h-2.1zM362.4,132h2.1v2.1h-2.1zM365.4,132h2.1v2.1h-2.1zM368.4,132h2.1v2.1h-2.1zM371.4,132h2.1v2.1h-2.1zM374.4,132h2.1v2.1h-2.1zM377.4,130.7h2.1v2.1h-2.1zM380.4,126.4h2.1v2.1h-2.1zM383.4,122.1h2.1v2.1h-2.1zM386.4,117.8h2.1v2.1h-2.1zM389.4,113.5h2.1v2.1h-2.1zM392.4,109.3h2.1v2.1h-2.1zM395.4,105h2.1v2.1h-2.1zM398.4,100.7h2.1v2.1h-2.1zM401.4,96.4h2.1v2.1h-2.1zM404.4,92.1h2.1v2.1h-2.1zM407.4,87.9h2.1v2.1h-2.1zM410.4,83.8h2.1v2.1h-2.1zM413.4,80.3h2.1v2.1h-2.1zM416.4,78.1h2.1v2.1h-2.1zM419.4,77.2h2.1v2.1h-2.1zM422.4,76.9h2.1v2.1h-2.1zM425.4,76.8h2.1v2.1h-2.1zM428.4,76.8h2.1v2.1h-2.1zM431.4,76.8h2.1v2.1h-2.1zM434.4,76.8h2.1v2.1h-2.1zM437.4,76.8h2.1v2.1h-2.1zM440.4,76.8h2.1v2.1h-2.1zM443.4,76.8h2.1v2.1h-2.1zM446.4,76.8h2.1v2.1h-2.1zM449.4,76.8h2.1v2.1h-2.1z" stroke="#222" stroke-width="0.5"/>
<path d="M402.5,131.8l1.3,1.3l-1.3,1.3l-1.3,-1.3zM405.5,131.8l1.3,1.3l-1.3,1.3l-1.3,-1.3zM408.5,131.8l1.3,1.3l-1.3,1.3l-1.3,-1.3zM411.5,131.6l1.3,1.3l-1.3,1.3l-1.3,-1.3zM414.5,130.6l1.3,1.3l-1.3,1.3l-1.3,-1.3zM417.5,128.9l1.3,1.3l-1.3,1.3l-1.3,-1.3zM420.5,127.1l1.3,1.3l-1.3,1.3l-1.3,-1.3zM423.5,125.4l1.3,1.3l-1.3,1.3l-1.3,-1.3zM426.5,123.6l1.3,1.3l-1.3,1.3l-1.3,-1.3zM429.5,121.8l1.3,1.3l-1.3,1.3l-1.3,-1.3zM432.5,120.1l1.3,1.3l-1.3,1.3l-1.3,-1.3zM435.5,118.3l1.3,1.3l-1.3,1.3l-1.3,-1.3zM438.5,116.5l1.3,1.3l-1.3,1.3l-1.3,-1.3zM441.5,114.7l1.3,1.3l-1.3,1.3l-1.3,-1.3zM444.5,113l1.3,1.3l-1.3,1.3l-1.3,-1.3zM447.5,111.2l1.3,1.3l-1.3,1.3l-1.3,-1.3zM450.5,109.4l1.3,1.3l-1.3,1.3l-1.3,-1.3z" stroke="#222" stroke-width="0.5"/>
<line x1="273.5" y1="128.6" x2="450.5" y2="128.6" stroke="#a0d8a0" stroke-width="1.3"/>
<polyline points="273.5,133.2 275,133.2 276.5,133.2 278,133.2 279.5,133.2 281,133.2 282.5,133.2 284,133.2 285.5,133.2 287,133.1 288.5,133.1 290,132.9 291.5,132.7 293,132.1 294.5,131.1 296,129.2 297.5,126 299,120.9 300.5,113.9 302,105.4 303.5,96.2 305,87.6 306.5,80.3 308,74.7 309.5,70.6 311,67.7 312.5,65.8 314,64.5 315.5,63.7 317,63.2 318.5,62.9 320,62.6 321.5,62.5 323,62.4 324.5,62.4 326,62.3 327.5,62.3 329,62.3 330.5,62.3 332,62.3 333.5,62.3 335,62.3 336.5,62.3 338,62.3 339.5,62.3 341,62.3 342.5,62.3 344,62.3 345.5,62.3 347,62.3 348.5,62.3 350,62.3 351.5,62.3 353,62.3 354.5,62.3 356,62.3 357.5,62.3 359,62.3 360.5,62.3 362,62.3 363.5,62.3 365,62.3 366.5,62.3 368,62.3 369.5,62.3 371,62.3 372.5,62.3 374,62.3 375.5,62.3 377,62.3 378.5,62.3 380,62.3 381.5,62.3 383,62.3 384.5,62.3 386,62.3 387.5,62.3 389,62.3 390.5,62.3 392,62.3 393.5,62.3 395,62.3 396.5,62.3 398,62.3 399.5,62.3 401,62.3 402.5,62.3 404,62.3 405.5,62.3 407,62.3 408.5,62.3 410,62.3 411.5,62.3 413,62.3 414.5,62.3 416,62.3 417.5,62.3 419,62.3 420.5,62.3 422,62.3 423.5,62.3 425,62.3 426.5,62.3 428,62.3 429.5,62.3 431,62.3 432.5,62.3 434,62.3 435.5,62.3 437,62.3 438.5,62.3 440,62.3 441.5,62.3 443,62.3 444.5,62.3 446,62.3 447.5,62.3 449,62.3 450.5,62.3" stroke="#b88a6a" stroke-width="0.7" />
<polyline points="273.5,133.2 275,133.2 276.5,133.2 278,133.2 279.5,133.2 281,133.2 282.5,133.2 284,133.2 285.5,133.2 287,133.1 288.5,133.1 290,133 291.5,132.8 293,132.5 294.5,131.7 296,130.4 297.5,127.9 299,124 300.5,118.1 302,110.4 303.5,101.6 305,92.8 306.5,85 308,78.7 309.5,74 311,70.7 312.5,68.4 314,66.9 315.5,65.9 317,65.3 318.5,64.8 320,64.6 321.5,64.4 323,64.3 324.5,64.2 326,64.2 327.5,64.2 329,64.1 330.5,64.1 332,64.1 333.5,64.1 335,64.1 336.5,64.1 338,64.1 339.5,64.1 341,64.1 342.5,64.1 344,64.1 345.5,64.1 347,64.1 348.5,64.1 350,64.1 351.5,64.1 353,64.1 354.5,64.1 356,64.1 357.5,64.1 359,64.1 360.5,64.1 362,64.1 363.5,64.1 365,64.1 366.5,64.1 368,64.1 369.5,64.1 371,64.1 372.5,64.1 374,64.1 375.5,64.1 377,64.1 378.5,64.1 380,64.1 381.5,64.1 383,64.1 384.5,64.1 386,64.1 387.5,64.1 389,64.1 390.5,64.1 392,64.1 393.5,64.1 395,64.1 396.5,64.1 398,64.1 399.5,64.1 401,64.1 402.5,64.1 404,64.1 405.5,64.1 407,64.1 408.5,64.1 410,64.1 411.5,64.1 413,64.1 414.5,64.1 416,64.1 417.5,64.1 419,64.1 420.5,64.1 422,64.1 423.5,64.1 425,64.1 426.5,64.1 428,64.1 429.5,64.1 431,64.1 432.5,64.1 434,64.1 435.5,64.1 437,64.1 438.5,64.1 440,64.1 441.5,64.1 443,64.1 444.5,64.1 446,64.1 447.5,64.1 449,64.1 450.5,64.1" stroke="#c8a080" stroke-width="0.7" />
<polyline points="273.5,133.2 275,133.2 276.5,133.2 278,133.2 279.5,133.2 281,133.2 282.5,133.2 284,133.2 285.5,133.2 287,133.2 288.5,133.1 290,133.1 291.5,132.9 293,132.7 294.5,132.2 296,131.2 297.5,129.5 299,126.6 300.5,122 302,115.6 303.5,107.8 305,99.4 306.5,91.3 308,84.4 309.5,78.9 311,74.9 312.5,72.1 314,70.2 315.5,68.9 317,68.1 318.5,67.5 320,67.2 321.5,67 323,66.8 324.5,66.7 326,66.7 327.5,66.6 329,66.6 330.5,66.6 332,66.6 333.5,66.6 335,66.6 336.5,66.6 338,66.6 339.5,66.5 341,66.5 342.5,66.5 344,66.5 345.5,66.5 347,66.5 348.5,66.5 350,66.5 351.5,66.5 353,66.5 354.5,66.5 356,66.5 357.5,66.5 359,66.5 360.5,66.5 362,66.5 363.5,66.5 365,66.5 366.5,66.5 368,66.5 369.5,66.5 371,66.5 372.5,66.5 374,66.5 375.5,66.5 377,66.5 378.5,66.5 380,66.5 381.5,66.5 383,66.5 384.5,66.5 386,66.5 387.5,66.5 389,66.5 390.5,66.5 392,66.5 393.5,66.5 395,66.5 396.5,66.5 398,66.5 399.5,66.5 401,66.5 402.5,66.5 404,66.5 405.5,66.5 407,66.5 408.5,66.5 410,66.5 411.5,66.5 413,66.5 414.5,66.5 416,66.5 417.5,66.5 419,66.5 420.5,66.5 422,66.5 423.5,66.5 425,66.5 426.5,66.5 428,66.5 429.5,66.5 431,66.5 432.5,66.5 434,66.5 435.5,66.5 437,66.5 438.5,66.5 440,66.5 441.5,66.5 443,66.5 444.5,66.5 446,66.5 447.5,66.5 449,66.5 450.5,66.5" stroke="#a07058" stroke-width="0.7" />
<polyline points="273.5,133.2 275,133.2 276.5,133.2 278,133.2 279.5,133.2 281,133.2 282.5,133.2 284,133.2 285.5,133.2 287,133.2 288.5,133.2 290,133.2 291.5,133.2 293,133.2 294.5,133.1 296,133 297.5,132.8 299,132.2 300.5,131.2 302,129.3 303.5,126 305,121.2 306.5,115 308,107.9 309.5,100.9 311,94.5 312.5,89.3 314,85.2 315.5,82.3 317,80.2 318.5,78.7 320,77.7 321.5,77 323,76.6 324.5,76.3 326,76.1 327.5,76 329,75.9 330.5,75.8 332,75.8 333.5,75.7 335,75.7 336.5,75.7 338,75.7 339.5,75.7 341,75.7 342.5,75.7 344,75.7 345.5,75.7 347,75.7 348.5,75.7 350,75.7 351.5,75.7 353,75.7 354.5,75.7 356,75.7 357.5,75.7 359,75.7 360.5,75.7 362,75.7 363.5,75.7 365,75.7 366.5,75.7 368,75.7 369.5,75.7 371,75.7 372.5,75.7 374,75.7 375.5,75.7 377,75.7 378.5,75.7 380,75.7 381.5,75.7 383,75.7 384.5,75.7 386,75.7 387.5,75.7 389,75.7 390.5,75.7 392,75.7 393.5,75.7 395,75.7 396.5,75.7 398,75.7 399.5,75.7 401,75.7 402.5,75.7 404,75.7 405.5,75.7 407,75.7 408.5,75.7 410,75.7 411.5,75.7 413,75.7 414.5,75.7 416,75.7 417.5,75.7 419,75.7 420.5,75.7 422,75.7 423.5,75.7 425,75.7 426.5,75.7 428,75.7 429.5,75.7 431,75.7 432.5,75.7 434,75.7 435.5,75.7 437,75.7 438.5,75.7 440,75.7 441.5,75.7 443,75.7 444.5,75.7 446,75.7 447.5,75.7 449,75.7 450.5,75.7" stroke="#2c78e0" stroke-width="0.7" />
<polyline points="273.5,133.2 275,133.2 276.5,133.2 278,133.2 279.5,133.2 281,133.2 282.5,133.2 284,133.2 285.5,133.2 287,133.2 288.5,133.2 290,133.2 291.5,133.2 293,133.2 294.5,133.1 296,133.1 297.5,133 299,132.7 300.5,132.1 302,130.9 303.5,128.7 305,125.2 306.5,120.2 308,113.7 309.5,106.6 311,99.5 312.5,93.2 314,87.9 315.5,83.9 317,80.9 318.5,78.8 320,77.4 321.5,76.3 323,75.7 324.5,75.2 326,74.9 327.5,74.7 329,74.5 330.5,74.5 332,74.4 333.5,74.4 335,74.3 336.5,74.3 338,74.3 339.5,74.3 341,74.3 342.5,74.3 344,74.3 345.5,74.3 347,74.3 348.5,74.3 350,74.3 351.5,74.3 353,74.3 354.5,74.3 356,74.3 357.5,74.3 359,74.3 360.5,74.3 362,74.3 363.5,74.3 365,74.3 366.5,74.3 368,74.3 369.5,74.3 371,74.3 372.5,74.3 374,74.3 375.5,74.3 377,74.3 378.5,74.3 380,74.3 381.5,74.3 383,74.3 384.5,74.3 386,74.3 387.5,74.3 389,74.3 390.5,74.3 392,74.3 393.5,74.3 395,74.3 396.5,74.3 398,74.3 399.5,74.3 401,74.3 402.5,74.3 404,74.3 405.5,74.3 407,74.3 408.5,74.3 410,74.3 411.5,74.3 413,74.3 414.5,74.3 416,74.3 417.5,74.3 419,74.3 420.5,74.3 422,74.3 423.5,74.3 425,74.3 426.5,74.3 428,74.3 429.5,74.3 431,74.3 432.5,74.3 434,74.3 435.5,74.3 437,74.3 438.5,74.3 440,74.3 441.5,74.3 443,74.3 444.5,74.3 446,74.3 447.5,74.3 449,74.3 450.5,74.3" stroke="#70acf0" stroke-width="0.7" />
<polyline points="273.5,133.2 275,133.2 276.5,133.2 278,133.2 279.5,133.2 281,133.2 282.5,133.2 284,133.2 285.5,133.2 287,133.2 288.5,133.2 290,133.2 291.5,133.2 293,133.2 294.5,133.2 296,133.1 297.5,133.1 299,132.9 300.5,132.6 302,131.9 303.5,130.6 305,128.3 306.5,124.8 308,119.8 309.5,113.6 311,106.8 312.5,100.2 314,94.2 315.5,89.4 317,85.6 318.5,82.8 320,80.8 321.5,79.3 323,78.4 324.5,77.7 326,77.2 327.5,76.9 329,76.7 330.5,76.6 332,76.5 333.5,76.4 335,76.4 336.5,76.3 338,76.3 339.5,76.3 341,76.3 342.5,76.3 344,76.3 345.5,76.3 347,76.3 348.5,76.3 350,76.3 351.5,76.3 353,76.3 354.5,76.3 356,76.3 357.5,76.3 359,76.3 360.5,76.3 362,76.3 363.5,76.3 365,76.3 366.5,76.3 368,76.3 369.5,76.3 371,76.3 372.5,76.3 374,76.3 375.5,76.3 377,76.3 378.5,76.3 380,76.3 381.5,76.3 383,76.3 384.5,76.3 386,76.3 387.5,76.3 389,76.3 390.5,76.3 392,76.3 393.5,76.3 395,76.3 396.5,76.3 398,76.3 399.5,76.3 401,76.3 402.5,76.3 404,76.3 405.5,76.3 407,76.3 408.5,76.3 410,76.3 411.5,76.3 413,76.3 414.5,76.3 416,76.3 417.5,76.3 419,76.3 420.5,76.3 422,76.3 423.5,76.3 425,76.3 426.5,76.3 428,76.3 429.5,76.3 431,76.3 432.5,76.3 434,76.3 435.5,76.3 437,76.3 438.5,76.3 440,76.3 441.5,76.3 443,76.3 444.5,76.3 446,76.3 447.5,76.3 449,76.3 450.5,76.3" stroke="#4890e8" stroke-width="0.7" />
<polyline points="273.5,133.2 275,133.2 276.5,133.2 278,133.2 279.5,133.2 281,133.2 282.5,133.2 284,133.2 285.5,133.1 287,133.1 288.5,133 290,132.8 291.5,132.4 293,131.5 294.5,129.9 296,127.2 297.5,122.8 299,116.4 300.5,108.4 302,99.7 303.5,91.4 305,84.4 306.5,79.1 308,75.3 309.5,72.7 311,71 312.5,69.9 314,69.2 315.5,68.7 317,68.4 318.5,68.3 320,68.2 321.5,68.1 323,68 324.5,68 326,68 327.5,68 329,68 330.5,68 332,68 333.5,68 335,68 336.5,68 338,68 339.5,68 341,68 342.5,68 344,68 345.5,68 347,68 348.5,68 350,68 351.5,68 353,68 354.5,68 356,68 357.5,68 359,68 360.5,68 362,68 363.5,68 365,68 366.5,68 368,68 369.5,68 371,68 372.5,68 374,68 375.5,68 377,68 378.5,68 380,68 381.5,68 383,68 384.5,68 386,68 387.5,68 389,68 390.5,68 392,68 393.5,68 395,68 396.5,68 398,68 399.5,68 401,68 402.5,68 404,68 405.5,68 407,68 408.5,68 410,68 411.5,68 413,68 414.5,68 416,68 417.5,68 419,68 420.5,68 422,68 423.5,68 425,68 426.5,68 428,68 429.5,68 431,68 432.5,68 434,68 435.5,68 437,68 438.5,68 440,68 441.5,68 443,68 444.5,68 446,68 447.5,68 449,68 450.5,68" stroke="#e05060" stroke-width="0.7" />
<polyline points="273.5,133.2 275,133.2 276.5,133.2 278,133.2 279.5,133.2 281,133.2 282.5,133.2 284,133.2 285.5,133.2 287,133.1 288.5,133.1 290,132.9 291.5,132.6 293,132.1 294.5,131 296,129 297.5,125.6 299,120.5 300.5,113.5 302,105.4 303.5,97.2 305,89.9 306.5,84 308,79.7 309.5,76.7 311,74.7 312.5,73.4 314,72.5 315.5,72 317,71.7 318.5,71.5 320,71.3 321.5,71.3 323,71.2 324.5,71.2 326,71.2 327.5,71.1 329,71.1 330.5,71.1 332,71.1 333.5,71.1 335,71.1 336.5,71.1 338,71.1 339.5,71.1 341,71.1 342.5,71.1 344,71.1 345.5,71.1 347,71.1 348.5,71.1 350,71.1 351.5,71.1 353,71.1 354.5,71.1 356,71.1 357.5,71.1 359,71.1 360.5,71.1 362,71.1 363.5,71.1 365,71.1 366.5,71.1 368,71.1 369.5,71.1 371,71.1 372.5,71.1 374,71.1 375.5,71.1 377,71.1 378.5,71.1 380,71.1 381.5,71.1 383,71.1 384.5,71.1 386,71.1 387.5,71.1 389,71.1 390.5,71.1 392,71.1 393.5,71.1 395,71.1 396.5,71.1 398,71.1 399.5,71.1 401,71.1 402.5,71.1 404,71.1 405.5,71.1 407,71.1 408.5,71.1 410,71.1 411.5,71.1 413,71.1 414.5,71.1 416,71.1 417.5,71.1 419,71.1 420.5,71.1 422,71.1 423.5,71.1 425,71.1 426.5,71.1 428,71.1 429.5,71.1 431,71.1 432.5,71.1 434,71.1 435.5,71.1 437,71.1 438.5,71.1 440,71.1 441.5,71.1 443,71.1 444.5,71.1 446,71.1 447.5,71.1 449,71.1 450.5,71.1" stroke="#e81818" stroke-width="0.7" />
<polyline points="273.5,133.2 275,133.2 276.5,133.2 278,133.2 279.5,133.2 281,133.2 282.5,133.2 284,133.2 285.5,133.2 287,133.1 288.5,133.1 290,133 291.5,132.8 293,132.4 294.5,131.5 296,130 297.5,127.4 299,123.2 300.5,117.2 302,109.6 303.5,101.3 305,93.3 306.5,86.4 308,81 309.5,77.1 311,74.4 312.5,72.6 314,71.5 315.5,70.7 317,70.2 318.5,69.9 320,69.7 321.5,69.6 323,69.5 324.5,69.5 326,69.5 327.5,69.4 329,69.4 330.5,69.4 332,69.4 333.5,69.4 335,69.4 336.5,69.4 338,69.4 339.5,69.4 341,69.4 342.5,69.4 344,69.4 345.5,69.4 347,69.4 348.5,69.4 350,69.4 351.5,69.4 353,69.4 354.5,69.4 356,69.4 357.5,69.4 359,69.4 360.5,69.4 362,69.4 363.5,69.4 365,69.4 366.5,69.4 368,69.4 369.5,69.4 371,69.4 372.5,69.4 374,69.4 375.5,69.4 377,69.4 378.5,69.4 380,69.4 381.5,69.4 383,69.4 384.5,69.4 386,69.4 387.5,69.4 389,69.4 390.5,69.4 392,69.4 393.5,69.4 395,69.4 396.5,69.4 398,69.4 399.5,69.4 401,69.4 402.5,69.4 404,69.4 405.5,69.4 407,69.4 408.5,69.4 410,69.4 411.5,69.4 413,69.4 414.5,69.4 416,69.4 417.5,69.4 419,69.4 420.5,69.4 422,69.4 423.5,69.4 425,69.4 426.5,69.4 428,69.4 429.5,69.4 431,69.4 432.5,69.4 434,69.4 435.5,69.4 437,69.4 438.5,69.4 440,69.4 441.5,69.4 443,69.4 444.5,69.4 446,69.4 447.5,69.4 449,69.4 450.5,69.4" stroke="#d02030" stroke-width="0.7" />
<polyline points="273.5,133.2 275,133.2 276.5,133.2 278,133.2 279.5,133.2 281,133.2 282.5,133.2 284,133.2 285.5,133.2 287,133.1 288.5,133.1 290,133 291.5,132.9 293,132.6 294.5,132.1 296,131.2 297.5,129.6 299,126.9 300.5,122.8 302,117 303.5,109.9 305,102 306.5,94.4 308,87.9 309.5,82.8 311,79.1 312.5,76.5 314,74.8 315.5,73.7 317,72.9 318.5,72.5 320,72.2 321.5,72 323,71.9 324.5,71.8 326,71.8 327.5,71.7 329,71.7 330.5,71.7 332,71.7 333.5,71.7 335,71.7 336.5,71.7 338,71.7 339.5,71.7 341,71.7 342.5,71.7 344,71.7 345.5,71.7 347,71.7 348.5,71.7 350,71.7 351.5,71.7 353,71.7 354.5,71.7 356,71.7 357.5,71.7 359,71.7 360.5,71.7 362,71.7 363.5,71.7 365,71.7 366.5,71.7 368,71.7 369.5,71.7 371,71.7 372.5,71.7 374,71.7 375.5,71.7 377,71.7 378.5,71.7 380,71.7 381.5,71.7 383,71.7 384.5,71.7 386,71.7 387.5,71.7 389,71.7 390.5,71.7 392,71.7 393.5,71.7 395,71.7 396.5,71.7 398,71.7 399.5,71.7 401,71.7 402.5,71.7 404,71.7 405.5,71.7 407,71.7 408.5,71.7 410,71.7 411.5,71.7 413,71.7 414.5,71.7 416,71.7 417.5,71.7 419,71.7 420.5,71.7 422,71.7 423.5,71.7 425,71.7 426.5,71.7 428,71.7 429.5,71.7 431,71.7 432.5,71.7 434,71.7 435.5,71.7 437,71.7 438.5,71.7 440,71.7 441.5,71.7 443,71.7 444.5,71.7 446,71.7 447.5,71.7 449,71.7 450.5,71.7" stroke="#181828" stroke-width="0.7" />
<polyline points="273.5,133.2 275,133.2 276.5,133.2 278,133.2 279.5,133.2 281,133.2 282.5,133.2 284,133.2 285.5,133.2 287,133.2 288.5,133.1 290,133.1 291.5,133 293,132.8 294.5,132.4 296,131.8 297.5,130.6 299,128.7 300.5,125.5 302,120.8 303.5,114.6 305,107.2 306.5,99.6 308,92.5 309.5,86.7 311,82.3 312.5,79.1 314,76.9 315.5,75.5 317,74.5 318.5,73.9 320,73.5 321.5,73.3 323,73.1 324.5,73 326,72.9 327.5,72.9 329,72.9 330.5,72.9 332,72.9 333.5,72.9 335,72.8 336.5,72.8 338,72.8 339.5,72.8 341,72.8 342.5,72.8 344,72.8 345.5,72.8 347,72.8 348.5,72.8 350,72.8 351.5,72.8 353,72.8 354.5,72.8 356,72.8 357.5,72.8 359,72.8 360.5,72.8 362,72.8 363.5,72.8 365,72.8 366.5,72.8 368,72.8 369.5,72.8 371,72.8 372.5,72.8 374,72.8 375.5,72.8 377,72.8 378.5,72.8 380,72.8 381.5,72.8 383,72.8 384.5,72.8 386,72.8 387.5,72.8 389,72.8 390.5,72.8 392,72.8 393.5,72.8 395,72.8 396.5,72.8 398,72.8 399.5,72.8 401,72.8 402.5,72.8 404,72.8 405.5,72.8 407,72.8 408.5,72.8 410,72.8 411.5,72.8 413,72.8 414.5,72.8 416,72.8 417.5,72.8 419,72.8 420.5,72.8 422,72.8 423.5,72.8 425,72.8 426.5,72.8 428,72.8 429.5,72.8 431,72.8 432.5,72.8 434,72.8 435.5,72.8 437,72.8 438.5,72.8 440,72.8 441.5,72.8 443,72.8 444.5,72.8 446,72.8 447.5,72.8 449,72.8 450.5,72.8" stroke="#383848" stroke-width="0.7" />
<polyline points="273.5,133.2 275,133.2 276.5,133.2 278,133.2 279.5,133.2 281,133.2 282.5,133.2 284,133.2 285.5,133.2 287,133.2 288.5,133.1 290,133.1 291.5,133 293,132.9 294.5,132.6 296,132 297.5,131.1 299,129.5 300.5,126.8 302,122.8 303.5,117.1 305,110.1 306.5,102.4 308,94.9 309.5,88.2 311,83 312.5,79 314,76.3 315.5,74.4 317,73.1 318.5,72.3 320,71.8 321.5,71.4 323,71.2 324.5,71.1 326,71 327.5,70.9 329,70.9 330.5,70.9 332,70.9 333.5,70.9 335,70.8 336.5,70.8 338,70.8 339.5,70.8 341,70.8 342.5,70.8 344,70.8 345.5,70.8 347,70.8 348.5,70.8 350,70.8 351.5,70.8 353,70.8 354.5,70.8 356,70.8 357.5,70.8 359,70.8 360.5,70.8 362,70.8 363.5,70.8 365,70.8 366.5,70.8 368,70.8 369.5,70.8 371,70.8 372.5,70.8 374,70.8 375.5,70.8 377,70.8 378.5,70.8 380,70.8 381.5,70.8 383,70.8 384.5,70.8 386,70.8 387.5,70.8 389,70.8 390.5,70.8 392,70.8 393.5,70.8 395,70.8 396.5,70.8 398,70.8 399.5,70.8 401,70.8 402.5,70.8 404,70.8 405.5,70.8 407,70.8 408.5,70.8 410,70.8 411.5,70.8 413,70.8 414.5,70.8 416,70.8 417.5,70.8 419,70.8 420.5,70.8 422,70.8 423.5,70.8 425,70.8 426.5,70.8 428,70.8 429.5,70.8 431,70.8 432.5,70.8 434,70.8 435.5,70.8 437,70.8 438.5,70.8 440,70.8 441.5,70.8 443,70.8 444.5,70.8 446,70.8 447.5,70.8 449,70.8 450.5,70.8" stroke="#604870" stroke-width="0.7" />
<rect x="270.5" y="58.0" width="189.0" height="77.6" fill="none" stroke="#333" stroke-width="0.8"/>
<path d="M276.5,135.1v1.5M276.5,57.7v1.3M282.5,135.1v1.5M282.5,57.7v1.3M288.5,135.1v1.5M288.5,57.7v1.3M294.5,135.1v1.5M294.5,57.7v1.3M306.5,135.1v1.5M306.5,57.7v1.3M312.5,135.1v1.5M312.5,57.7v1.3M318.5,135.1v1.5M318.5,57.7v1.3M324.5,135.1v1.5M324.5,57.7v1.3M336.5,135.1v1.5M336.5,57.7v1.3M342.5,135.1v1.5M342.5,57.7v1.3M348.5,135.1v1.5M348.5,57.7v1.3M354.5,135.1v1.5M354.5,57.7v1.3M366.5,135.1v1.5M366.5,57.7v1.3M372.5,135.1v1.5M372.5,57.7v1.3M378.5,135.1v1.5M378.5,57.7v1.3M384.5,135.1v1.5M384.5,57.7v1.3M396.5,135.1v1.5M396.5,57.7v1.3M402.5,135.1v1.5M402.5,57.7v1.3M408.5,135.1v1.5M408.5,57.7v1.3M414.5,135.1v1.5M414.5,57.7v1.3M426.5,135.1v1.5M426.5,57.7v1.3M432.5,135.1v1.5M432.5,57.7v1.3M438.5,135.1v1.5M438.5,57.7v1.3M444.5,135.1v1.5M444.5,57.7v1.3M456.5,135.1v1.5M456.5,57.7v1.3M270.5,134.6v2.4M270.5,57.2v2.2M300.5,134.6v2.4M300.5,57.2v2.2M330.5,134.6v2.4M330.5,57.2v2.2M360.5,134.6v2.4M360.5,57.2v2.2M390.5,134.6v2.4M390.5,57.2v2.2M420.5,134.6v2.4M420.5,57.2v2.2M450.5,134.6v2.4M450.5,57.2v2.2M269.9,130h1.4M458.7,130h1.5M269.9,127.2h1.4M458.7,127.2h1.5M269.9,124.3h1.4M458.7,124.3h1.5M269.9,121.5h1.4M458.7,121.5h1.5M269.9,115.7h1.4M458.7,115.7h1.5M269.9,112.9h1.4M458.7,112.9h1.5M269.9,110h1.4M458.7,110h1.5M269.9,107.2h1.4M458.7,107.2h1.5M269.9,101.4h1.4M458.7,101.4h1.5M269.9,98.6h1.4M458.7,98.6h1.5M269.9,95.7h1.4M458.7,95.7h1.5M269.9,92.9h1.4M458.7,92.9h1.5M269.9,87.1h1.4M458.7,87.1h1.5M269.9,84.3h1.4M458.7,84.3h1.5M269.9,81.4h1.4M458.7,81.4h1.5M269.9,78.6h1.4M458.7,78.6h1.5M269.9,72.8h1.4M458.7,72.8h1.5M269.9,70h1.4M458.7,70h1.5M269.9,67.1h1.4M458.7,67.1h1.5M269.9,64.3h1.4M458.7,64.3h1.5M269.9,58.5h1.4M458.7,58.5h1.5M269.1,132.9h2.4M458.5,132.9h2.4M269.1,118.6h2.4M458.5,118.6h2.4M269.1,104.3h2.4M458.5,104.3h2.4M269.1,90h2.4M458.5,90h2.4M269.1,75.7h2.4M458.5,75.7h2.4M269.1,61.4h2.4M458.5,61.4h2.4" stroke="#333" stroke-width="0.7"/>
<text x="270.5" y="142.6" font-size="4.3" text-anchor="middle" fill="#222" stroke="#222" stroke-width="0.18">0</text>
<text x="300.5" y="142.6" font-size="4.3" text-anchor="middle" fill="#222" stroke="#222" stroke-width="0.18">10</text>
<text x="330.5" y="142.6" font-size="4.3" text-anchor="middle" fill="#222" stroke="#222" stroke-width="0.18">20</text>
<text x="360.5" y="142.6" font-size="4.3" text-anchor="middle" fill="#222" stroke="#222" stroke-width="0.18">30</text>
<text x="390.5" y="142.6" font-size="4.3" text-anchor="middle" fill="#222" stroke="#222" stroke-width="0.18">40</text>
<text x="420.5" y="142.6" font-size="4.3" text-anchor="middle" fill="#222" stroke="#222" stroke-width="0.18">50</text>
<text x="450.5" y="142.6" font-size="4.3" text-anchor="middle" fill="#222" stroke="#222" stroke-width="0.18">60</text>
<text x="267.3" y="134.5" font-size="4.3" text-anchor="end" fill="#222" stroke="#222" stroke-width="0.18">0</text>
<text x="267.3" y="120.2" font-size="4.3" text-anchor="end" fill="#222" stroke="#222" stroke-width="0.18">500</text>
<text x="267.3" y="105.9" font-size="4.3" text-anchor="end" fill="#222" stroke="#222" stroke-width="0.18">1000</text>
<text x="267.3" y="91.6" font-size="4.3" text-anchor="end" fill="#222" stroke="#222" stroke-width="0.18">1500</text>
<text x="267.3" y="77.3" font-size="4.3" text-anchor="end" fill="#222" stroke="#222" stroke-width="0.18">2000</text>
<text x="267.3" y="63" font-size="4.3" text-anchor="end" fill="#222" stroke="#222" stroke-width="0.18">2500</text>
<text x="355.7" y="54.0" font-size="4.6" text-anchor="middle" font-weight="bold" fill="#111" stroke="#111" stroke-width="0.12">Amplification</text>
<text x="365" y="150.5" font-size="4.6" text-anchor="middle" font-weight="bold" fill="#111" stroke="#111" stroke-width="0.12">Cycles</text>
<text transform="translate(253.9,96.6) rotate(-90)" font-size="4.6" font-weight="bold" text-anchor="middle" fill="#111" stroke="#111" stroke-width="0.12">RFU</text>
<line x1="496.3" y1="132.1" x2="672.1" y2="132.1" stroke="#a0a0a0" stroke-width="1.0"/>
<line x1="496.3" y1="133" x2="672.1" y2="133" stroke="#a0a0a0" stroke-width="1.0"/>
<line x1="496.3" y1="133.9" x2="672.1" y2="133.9" stroke="#a0a0a0" stroke-width="1.0"/>
<line x1="496.3" y1="134.8" x2="672.1" y2="134.8" stroke="#a0a0a0" stroke-width="1.0"/>
<path d="M496.3,131.2l0.9,0.9l-0.9,0.9l-0.9,-0.9zM499.3,131.2l0.9,0.9l-0.9,0.9l-0.9,-0.9zM502.2,131.2l0.9,0.9l-0.9,0.9l-0.9,-0.9zM505.2,131.2l0.9,0.9l-0.9,0.9l-0.9,-0.9zM508.2,131.2l0.9,0.9l-0.9,0.9l-0.9,-0.9zM511.2,131.2l0.9,0.9l-0.9,0.9l-0.9,-0.9zM514.2,131.2l0.9,0.9l-0.9,0.9l-0.9,-0.9zM517.1,131.2l0.9,0.9l-0.9,0.9l-0.9,-0.9zM520.1,131.2l0.9,0.9l-0.9,0.9l-0.9,-0.9zM523.1,131.2l0.9,0.9l-0.9,0.9l-0.9,-0.9zM526.1,131.2l0.9,0.9l-0.9,0.9l-0.9,-0.9zM529.1,131.2l0.9,0.9l-0.9,0.9l-0.9,-0.9zM532,131.2l0.9,0.9l-0.9,0.9l-0.9,-0.9zM535,131.2l0.9,0.9l-0.9,0.9l-0.9,-0.9zM538,131.2l0.9,0.9l-0.9,0.9l-0.9,-0.9zM541,131.2l0.9,0.9l-0.9,0.9l-0.9,-0.9zM544,131.2l0.9,0.9l-0.9,0.9l-0.9,-0.9zM546.9,131.2l0.9,0.9l-0.9,0.9l-0.9,-0.9zM549.9,131.2l0.9,0.9l-0.9,0.9l-0.9,-0.9zM552.9,131.2l0.9,0.9l-0.9,0.9l-0.9,-0.9zM555.9,131.2l0.9,0.9l-0.9,0.9l-0.9,-0.9zM558.9,131.2l0.9,0.9l-0.9,0.9l-0.9,-0.9zM561.8,131.2l0.9,0.9l-0.9,0.9l-0.9,-0.9zM564.8,131.2l0.9,0.9l-0.9,0.9l-0.9,-0.9zM567.8,131.2l0.9,0.9l-0.9,0.9l-0.9,-0.9zM570.8,131.2l0.9,0.9l-0.9,0.9l-0.9,-0.9zM573.8,131.2l0.9,0.9l-0.9,0.9l-0.9,-0.9zM576.7,131.2l0.9,0.9l-0.9,0.9l-0.9,-0.9zM579.7,131.2l0.9,0.9l-0.9,0.9l-0.9,-0.9zM582.7,131.2l0.9,0.9l-0.9,0.9l-0.9,-0.9zM585.7,131.2l0.9,0.9l-0.9,0.9l-0.9,-0.9zM588.7,131.2l0.9,0.9l-0.9,0.9l-0.9,-0.9zM591.6,131.2l0.9,0.9l-0.9,0.9l-0.9,-0.9zM594.6,131.2l0.9,0.9l-0.9,0.9l-0.9,-0.9zM597.6,131.2l0.9,0.9l-0.9,0.9l-0.9,-0.9zM600.6,131.2l0.9,0.9l-0.9,0.9l-0.9,-0.9zM603.6,131.2l0.9,0.9l-0.9,0.9l-0.9,-0.9zM606.5,131.2l0.9,0.9l-0.9,0.9l-0.9,-0.9zM609.5,131.2l0.9,0.9l-0.9,0.9l-0.9,-0.9zM612.5,131.2l0.9,0.9l-0.9,0.9l-0.9,-0.9zM615.5,131.2l0.9,0.9l-0.9,0.9l-0.9,-0.9zM618.5,131.2l0.9,0.9l-0.9,0.9l-0.9,-0.9zM621.4,131.2l0.9,0.9l-0.9,0.9l-0.9,-0.9zM624.4,131.2l0.9,0.9l-0.9,0.9l-0.9,-0.9zM627.4,131.2l0.9,0.9l-0.9,0.9l-0.9,-0.9zM630.4,131.2l0.9,0.9l-0.9,0.9l-0.9,-0.9zM633.4,131.2l0.9,0.9l-0.9,0.9l-0.9,-0.9zM636.3,131.2l0.9,0.9l-0.9,0.9l-0.9,-0.9zM639.3,131.2l0.9,0.9l-0.9,0.9l-0.9,-0.9zM642.3,131.2l0.9,0.9l-0.9,0.9l-0.9,-0.9zM645.3,131.2l0.9,0.9l-0.9,0.9l-0.9,-0.9zM648.3,131.2l0.9,0.9l-0.9,0.9l-0.9,-0.9zM651.2,131.2l0.9,0.9l-0.9,0.9l-0.9,-0.9zM654.2,131.2l0.9,0.9l-0.9,0.9l-0.9,-0.9zM657.2,131.2l0.9,0.9l-0.9,0.9l-0.9,-0.9zM660.2,131.2l0.9,0.9l-0.9,0.9l-0.9,-0.9zM663.2,131.2l0.9,0.9l-0.9,0.9l-0.9,-0.9zM666.1,131.2l0.9,0.9l-0.9,0.9l-0.9,-0.9zM669.1,131.2l0.9,0.9l-0.9,0.9l-0.9,-0.9zM672.1,131.2l0.9,0.9l-0.9,0.9l-0.9,-0.9zM495.6,133a0.7,0.7 0 1 0 1.4,0a0.7,0.7 0 1 0 -1.4,0zM498.6,133a0.7,0.7 0 1 0 1.4,0a0.7,0.7 0 1 0 -1.4,0zM501.5,133a0.7,0.7 0 1 0 1.4,0a0.7,0.7 0 1 0 -1.4,0zM504.5,133a0.7,0.7 0 1 0 1.4,0a0.7,0.7 0 1 0 -1.4,0zM507.5,133a0.7,0.7 0 1 0 1.4,0a0.7,0.7 0 1 0 -1.4,0zM510.5,133a0.7,0.7 0 1 0 1.4,0a0.7,0.7 0 1 0 -1.4,0zM513.5,133a0.7,0.7 0 1 0 1.4,0a0.7,0.7 0 1 0 -1.4,0zM516.4,133a0.7,0.7 0 1 0 1.4,0a0.7,0.7 0 1 0 -1.4,0zM519.4,133a0.7,0.7 0 1 0 1.4,0a0.7,0.7 0 1 0 -1.4,0zM522.4,133a0.7,0.7 0 1 0 1.4,0a0.7,0.7 0 1 0 -1.4,0zM525.4,133a0.7,0.7 0 1 0 1.4,0a0.7,0.7 0 1 0 -1.4,0zM528.4,133a0.7,0.7 0 1 0 1.4,0a0.7,0.7 0 1 0 -1.4,0zM531.3,133a0.7,0.7 0 1 0 1.4,0a0.7,0.7 0 1 0 -1.4,0zM534.3,133a0.7,0.7 0 1 0 1.4,0a0.7,0.7 0 1 0 -1.4,0zM537.3,133a0.7,0.7 0 1 0 1.4,0a0.7,0.7 0 1 0 -1.4,0zM540.3,133a0.7,0.7 0 1 0 1.4,0a0.7,0.7 0 1 0 -1.4,0zM543.3,133a0.7,0.7 0 1 0 1.4,0a0.7,0.7 0 1 0 -1.4,0zM546.2,133a0.7,0.7 0 1 0 1.4,0a0.7,0.7 0 1 0 -1.4,0zM549.2,133a0.7,0.7 0 1 0 1.4,0a0.7,0.7 0 1 0 -1.4,0zM552.2,133a0.7,0.7 0 1 0 1.4,0a0.7,0.7 0 1 0 -1.4,0zM555.2,133a0.7,0.7 0 1 0 1.4,0a0.7,0.7 0 1 0 -1.4,0zM558.2,133a0.7,0.7 0 1 0 1.4,0a0.7,0.7 0 1 0 -1.4,0zM561.1,133a0.7,0.7 0 1 0 1.4,0a0.7,0.7 0 1 0 -1.4,0zM564.1,133a0.7,0.7 0 1 0 1.4,0a0.7,0.7 0 1 0 -1.4,0zM567.1,133a0.7,0.7 0 1 0 1.4,0a0.7,0.7 0 1 0 -1.4,0zM570.1,133a0.7,0.7 0 1 0 1.4,0a0.7,0.7 0 1 0 -1.4,0zM573.1,133a0.7,0.7 0 1 0 1.4,0a0.7,0.7 0 1 0 -1.4,0zM576,133a0.7,0.7 0 1 0 1.4,0a0.7,0.7 0 1 0 -1.4,0zM579,133a0.7,0.7 0 1 0 1.4,0a0.7,0.7 0 1 0 -1.4,0zM582,133a0.7,0.7 0 1 0 1.4,0a0.7,0.7 0 1 0 -1.4,0zM585,133a0.7,0.7 0 1 0 1.4,0a0.7,0.7 0 1 0 -1.4,0zM588,133a0.7,0.7 0 1 0 1.4,0a0.7,0.7 0 1 0 -1.4,0zM590.9,133a0.7,0.7 0 1 0 1.4,0a0.7,0.7 0 1 0 -1.4,0zM593.9,133a0.7,0.7 0 1 0 1.4,0a0.7,0.7 0 1 0 -1.4,0zM596.9,133a0.7,0.7 0 1 0 1.4,0a0.7,0.7 0 1 0 -1.4,0zM599.9,133a0.7,0.7 0 1 0 1.4,0a0.7,0.7 0 1 0 -1.4,0zM602.9,133a0.7,0.7 0 1 0 1.4,0a0.7,0.7 0 1 0 -1.4,0zM605.8,133a0.7,0.7 0 1 0 1.4,0a0.7,0.7 0 1 0 -1.4,0zM608.8,133a0.7,0.7 0 1 0 1.4,0a0.7,0.7 0 1 0 -1.4,0zM611.8,133a0.7,0.7 0 1 0 1.4,0a0.7,0.7 0 1 0 -1.4,0zM614.8,133a0.7,0.7 0 1 0 1.4,0a0.7,0.7 0 1 0 -1.4,0zM617.8,133a0.7,0.7 0 1 0 1.4,0a0.7,0.7 0 1 0 -1.4,0zM620.7,133a0.7,0.7 0 1 0 1.4,0a0.7,0.7 0 1 0 -1.4,0zM623.7,133a0.7,0.7 0 1 0 1.4,0a0.7,0.7 0 1 0 -1.4,0zM626.7,133a0.7,0.7 0 1 0 1.4,0a0.7,0.7 0 1 0 -1.4,0zM629.7,133a0.7,0.7 0 1 0 1.4,0a0.7,0.7 0 1 0 -1.4,0zM632.7,133a0.7,0.7 0 1 0 1.4,0a0.7,0.7 0 1 0 -1.4,0zM635.6,133a0.7,0.7 0 1 0 1.4,0a0.7,0.7 0 1 0 -1.4,0zM638.6,133a0.7,0.7 0 1 0 1.4,0a0.7,0.7 0 1 0 -1.4,0zM641.6,133a0.7,0.7 0 1 0 1.4,0a0.7,0.7 0 1 0 -1.4,0zM644.6,133a0.7,0.7 0 1 0 1.4,0a0.7,0.7 0 1 0 -1.4,0zM647.6,133a0.7,0.7 0 1 0 1.4,0a0.7,0.7 0 1 0 -1.4,0zM650.5,133a0.7,0.7 0 1 0 1.4,0a0.7,0.7 0 1 0 -1.4,0zM653.5,133a0.7,0.7 0 1 0 1.4,0a0.7,0.7 0 1 0 -1.4,0zM656.5,133a0.7,0.7 0 1 0 1.4,0a0.7,0.7 0 1 0 -1.4,0zM659.5,133a0.7,0.7 0 1 0 1.4,0a0.7,0.7 0 1 0 -1.4,0zM662.5,133a0.7,0.7 0 1 0 1.4,0a0.7,0.7 0 1 0 -1.4,0zM665.4,133a0.7,0.7 0 1 0 1.4,0a0.7,0.7 0 1 0 -1.4,0zM668.4,133a0.7,0.7 0 1 0 1.4,0a0.7,0.7 0 1 0 -1.4,0zM671.4,133a0.7,0.7 0 1 0 1.4,0a0.7,0.7 0 1 0 -1.4,0zM495.6,133.2l1.4,1.4M495.6,134.6l1.4,-1.4M498.6,133.2l1.4,1.4M498.6,134.6l1.4,-1.4M501.5,133.2l1.4,1.4M501.5,134.6l1.4,-1.4M504.5,133.2l1.4,1.4M504.5,134.6l1.4,-1.4M507.5,133.2l1.4,1.4M507.5,134.6l1.4,-1.4M510.5,133.2l1.4,1.4M510.5,134.6l1.4,-1.4M513.5,133.2l1.4,1.4M513.5,134.6l1.4,-1.4M516.4,133.2l1.4,1.4M516.4,134.6l1.4,-1.4M519.4,133.2l1.4,1.4M519.4,134.6l1.4,-1.4M522.4,133.2l1.4,1.4M522.4,134.6l1.4,-1.4M525.4,133.2l1.4,1.4M525.4,134.6l1.4,-1.4M528.4,133.2l1.4,1.4M528.4,134.6l1.4,-1.4M531.3,133.2l1.4,1.4M531.3,134.6l1.4,-1.4M534.3,133.2l1.4,1.4M534.3,134.6l1.4,-1.4M537.3,133.2l1.4,1.4M537.3,134.6l1.4,-1.4M540.3,133.2l1.4,1.4M540.3,134.6l1.4,-1.4M543.3,133.2l1.4,1.4M543.3,134.6l1.4,-1.4M546.2,133.2l1.4,1.4M546.2,134.6l1.4,-1.4M549.2,133.2l1.4,1.4M549.2,134.6l1.4,-1.4M552.2,133.2l1.4,1.4M552.2,134.6l1.4,-1.4M555.2,133.2l1.4,1.4M555.2,134.6l1.4,-1.4M558.2,133.2l1.4,1.4M558.2,134.6l1.4,-1.4M561.1,133.2l1.4,1.4M561.1,134.6l1.4,-1.4M564.1,133.2l1.4,1.4M564.1,134.6l1.4,-1.4M567.1,133.2l1.4,1.4M567.1,134.6l1.4,-1.4M570.1,133.2l1.4,1.4M570.1,134.6l1.4,-1.4M573.1,133.2l1.4,1.4M573.1,134.6l1.4,-1.4M576,133.2l1.4,1.4M576,134.6l1.4,-1.4M579,133.2l1.4,1.4M579,134.6l1.4,-1.4M582,133.2l1.4,1.4M582,134.6l1.4,-1.4M585,133.2l1.4,1.4M585,134.6l1.4,-1.4M588,133.2l1.4,1.4M588,134.6l1.4,-1.4M590.9,133.2l1.4,1.4M590.9,134.6l1.4,-1.4M593.9,133.2l1.4,1.4M593.9,134.6l1.4,-1.4M596.9,133.2l1.4,1.4M596.9,134.6l1.4,-1.4M599.9,133.2l1.4,1.4M599.9,134.6l1.4,-1.4M602.9,133.2l1.4,1.4M602.9,134.6l1.4,-1.4M605.8,133.2l1.4,1.4M605.8,134.6l1.4,-1.4M608.8,133.2l1.4,1.4M608.8,134.6l1.4,-1.4M611.8,133.2l1.4,1.4M611.8,134.6l1.4,-1.4M614.8,133.2l1.4,1.4M614.8,134.6l1.4,-1.4M617.8,133.2l1.4,1.4M617.8,134.6l1.4,-1.4M620.7,133.2l1.4,1.4M620.7,134.6l1.4,-1.4M623.7,133.2l1.4,1.4M623.7,134.6l1.4,-1.4M626.7,133.2l1.4,1.4M626.7,134.6l1.4,-1.4M629.7,133.2l1.4,1.4M629.7,134.6l1.4,-1.4M632.7,133.2l1.4,1.4M632.7,134.6l1.4,-1.4M635.6,133.2l1.4,1.4M635.6,134.6l1.4,-1.4M638.6,133.2l1.4,1.4M638.6,134.6l1.4,-1.4M641.6,133.2l1.4,1.4M641.6,134.6l1.4,-1.4M644.6,133.2l1.4,1.4M644.6,134.6l1.4,-1.4M647.6,133.2l1.4,1.4M647.6,134.6l1.4,-1.4M650.5,133.2l1.4,1.4M650.5,134.6l1.4,-1.4M653.5,133.2l1.4,1.4M653.5,134.6l1.4,-1.4M656.5,133.2l1.4,1.4M656.5,134.6l1.4,-1.4M659.5,133.2l1.4,1.4M659.5,134.6l1.4,-1.4M662.5,133.2l1.4,1.4M662.5,134.6l1.4,-1.4M665.4,133.2l1.4,1.4M665.4,134.6l1.4,-1.4M668.4,133.2l1.4,1.4M668.4,134.6l1.4,-1.4M671.4,133.2l1.4,1.4M671.4,134.6l1.4,-1.4M495.6,134.1h1.4v1.4h-1.4zM498.6,134.1h1.4v1.4h-1.4zM501.5,134.1h1.4v1.4h-1.4zM504.5,134.1h1.4v1.4h-1.4zM507.5,134.1h1.4v1.4h-1.4zM510.5,134.1h1.4v1.4h-1.4zM513.5,134.1h1.4v1.4h-1.4zM516.4,134.1h1.4v1.4h-1.4zM519.4,134.1h1.4v1.4h-1.4zM522.4,134.1h1.4v1.4h-1.4zM525.4,134.1h1.4v1.4h-1.4zM528.4,134.1h1.4v1.4h-1.4zM531.3,134.1h1.4v1.4h-1.4zM534.3,134.1h1.4v1.4h-1.4zM537.3,134.1h1.4v1.4h-1.4zM540.3,134.1h1.4v1.4h-1.4zM543.3,134.1h1.4v1.4h-1.4zM546.2,134.1h1.4v1.4h-1.4zM549.2,134.1h1.4v1.4h-1.4zM552.2,134.1h1.4v1.4h-1.4zM555.2,134.1h1.4v1.4h-1.4zM558.2,134.1h1.4v1.4h-1.4zM561.1,134.1h1.4v1.4h-1.4zM564.1,134.1h1.4v1.4h-1.4zM567.1,134.1h1.4v1.4h-1.4zM570.1,134.1h1.4v1.4h-1.4zM573.1,134.1h1.4v1.4h-1.4zM576,134.1h1.4v1.4h-1.4zM579,134.1h1.4v1.4h-1.4zM582,134.1h1.4v1.4h-1.4zM585,134.1h1.4v1.4h-1.4zM588,134.1h1.4v1.4h-1.4zM590.9,134.1h1.4v1.4h-1.4zM593.9,134.1h1.4v1.4h-1.4zM596.9,134.1h1.4v1.4h-1.4zM599.9,134.1h1.4v1.4h-1.4zM602.9,134.1h1.4v1.4h-1.4zM605.8,134.1h1.4v1.4h-1.4zM608.8,134.1h1.4v1.4h-1.4zM611.8,134.1h1.4v1.4h-1.4zM614.8,134.1h1.4v1.4h-1.4zM617.8,134.1h1.4v1.4h-1.4zM620.7,134.1h1.4v1.4h-1.4zM623.7,134.1h1.4v1.4h-1.4zM626.7,134.1h1.4v1.4h-1.4zM629.7,134.1h1.4v1.4h-1.4zM632.7,134.1h1.4v1.4h-1.4zM635.6,134.1h1.4v1.4h-1.4zM638.6,134.1h1.4v1.4h-1.4zM641.6,134.1h1.4v1.4h-1.4zM644.6,134.1h1.4v1.4h-1.4zM647.6,134.1h1.4v1.4h-1.4zM650.5,134.1h1.4v1.4h-1.4zM653.5,134.1h1.4v1.4h-1.4zM656.5,134.1h1.4v1.4h-1.4zM659.5,134.1h1.4v1.4h-1.4zM662.5,134.1h1.4v1.4h-1.4zM665.4,134.1h1.4v1.4h-1.4zM668.4,134.1h1.4v1.4h-1.4zM671.4,134.1h1.4v1.4h-1.4z" stroke="#a0a0a0" stroke-width="0.4"/>
<line x1="496.3" y1="123.4" x2="672.1" y2="123.4" stroke="#5aa83a" stroke-width="0.8"/>
<polyline points="496.3,132.8 497.8,132.8 499.3,132.8 500.8,132.8 502.2,132.8 503.7,132.8 505.2,132.8 506.7,132.8 508.2,132.8 509.7,132.8 511.2,132.8 512.7,132.8 514.2,132.8 515.6,132.8 517.1,132.8 518.6,132.8 520.1,132.8 521.6,132.8 523.1,132.8 524.6,132.8 526.1,132.8 527.6,132.8 529.1,132.8 530.5,132.7 532,132.6 533.5,132.3 535,131.7 536.5,130.6 538,129 539.5,126.6 541,123.5 542.5,119.7 544,115.3 545.5,110.7 546.9,105.9 548.4,101.2 549.9,96.9 551.4,92.9 552.9,89.3 554.4,86.3 555.9,83.6 557.4,81.4 558.9,79.6 560.4,78.1 561.8,76.8 563.3,75.8 564.8,75 566.3,74.3 567.8,73.8 569.3,73.3 570.8,73 572.3,72.7 573.8,72.5 575.2,72.3 576.7,72.1 578.2,72 579.7,71.9 581.2,71.8 582.7,71.7 584.2,71.6 585.7,71.6 587.2,71.5 588.7,71.5 590.1,71.4 591.6,71.4 593.1,71.3 594.6,71.3 596.1,71.2 597.6,71.2 599.1,71.2 600.6,71.1 602.1,71.1 603.6,71 605,71 606.5,71 608,70.9 609.5,70.9 611,70.8 612.5,70.8 614,70.7 615.5,70.7 617,70.6 618.5,70.6 620,70.6 621.4,70.5 622.9,70.5 624.4,70.4 625.9,70.4 627.4,70.3 628.9,70.3 630.4,70.3 631.9,70.2 633.4,70.2 634.9,70.1 636.3,70.1 637.8,70.1 639.3,70 640.8,70 642.3,69.9 643.8,69.9 645.3,69.9 646.8,69.8 648.3,69.8 649.8,69.8 651.2,69.8 652.7,69.7 654.2,69.7 655.7,69.7 657.2,69.7 658.7,69.6 660.2,69.6 661.7,69.6 663.2,69.6 664.6,69.6 666.1,69.6 667.6,69.6 669.1,69.6 670.6,69.6 672.1,69.6" stroke="#e050a0" stroke-width="0.6" />
<polyline points="496.3,132.8 497.8,132.8 499.3,132.8 500.8,132.8 502.2,132.8 503.7,132.8 505.2,132.8 506.7,132.8 508.2,132.8 509.7,132.8 511.2,132.8 512.7,132.8 514.2,132.8 515.6,132.8 517.1,132.8 518.6,132.8 520.1,132.8 521.6,132.8 523.1,132.8 524.6,132.8 526.1,132.8 527.6,132.8 529.1,132.8 530.5,132.8 532,132.7 533.5,132.6 535,132.3 536.5,131.7 538,130.7 539.5,129.2 541,126.9 542.5,124 544,120.4 545.5,116.3 546.9,111.8 548.4,107.3 549.9,102.8 551.4,98.5 552.9,94.6 554.4,91 555.9,87.9 557.4,85.3 558.9,83 560.4,81.1 561.8,79.5 563.3,78.2 564.8,77.1 566.3,76.2 567.8,75.5 569.3,74.9 570.8,74.5 572.3,74.1 573.8,73.8 575.2,73.5 576.7,73.3 578.2,73.1 579.7,73 581.2,72.8 582.7,72.7 584.2,72.6 585.7,72.6 587.2,72.5 588.7,72.4 590.1,72.4 591.6,72.3 593.1,72.3 594.6,72.2 596.1,72.2 597.6,72.1 599.1,72.1 600.6,72 602.1,72 603.6,71.9 605,71.9 606.5,71.9 608,71.8 609.5,71.8 611,71.7 612.5,71.7 614,71.6 615.5,71.6 617,71.5 618.5,71.5 620,71.5 621.4,71.4 622.9,71.4 624.4,71.3 625.9,71.3 627.4,71.2 628.9,71.2 630.4,71.2 631.9,71.1 633.4,71.1 634.9,71 636.3,71 637.8,71 639.3,70.9 640.8,70.9 642.3,70.8 643.8,70.8 645.3,70.8 646.8,70.7 648.3,70.7 649.8,70.7 651.2,70.7 652.7,70.6 654.2,70.6 655.7,70.6 657.2,70.6 658.7,70.5 660.2,70.5 661.7,70.5 663.2,70.5 664.6,70.5 666.1,70.5 667.6,70.5 669.1,70.5 670.6,70.5 672.1,70.5" stroke="#f070b8" stroke-width="0.6" />
<polyline points="496.3,132.8 497.8,132.8 499.3,132.8 500.8,132.8 502.2,132.8 503.7,132.8 505.2,132.8 506.7,132.8 508.2,132.8 509.7,132.8 511.2,132.8 512.7,132.8 514.2,132.8 515.6,132.8 517.1,132.8 518.6,132.8 520.1,132.8 521.6,132.8 523.1,132.8 524.6,132.8 526.1,132.8 527.6,132.8 529.1,132.8 530.5,132.8 532,132.8 533.5,132.7 535,132.6 536.5,132.3 538,131.7 539.5,130.7 541,129.2 542.5,127 544,124.2 545.5,120.7 546.9,116.6 548.4,112.2 549.9,107.6 551.4,103 552.9,98.7 554.4,94.6 555.9,91 557.4,87.8 558.9,85 560.4,82.5 561.8,80.5 563.3,78.8 564.8,77.4 566.3,76.2 567.8,75.2 569.3,74.4 570.8,73.8 572.3,73.2 573.8,72.8 575.2,72.4 576.7,72.1 578.2,71.9 579.7,71.7 581.2,71.5 582.7,71.4 584.2,71.3 585.7,71.2 587.2,71.1 588.7,71 590.1,70.9 591.6,70.9 593.1,70.8 594.6,70.7 596.1,70.7 597.6,70.6 599.1,70.6 600.6,70.5 602.1,70.5 603.6,70.4 605,70.4 606.5,70.4 608,70.3 609.5,70.3 611,70.2 612.5,70.2 614,70.1 615.5,70.1 617,70 618.5,70 620,70 621.4,69.9 622.9,69.9 624.4,69.8 625.9,69.8 627.4,69.7 628.9,69.7 630.4,69.7 631.9,69.6 633.4,69.6 634.9,69.5 636.3,69.5 637.8,69.5 639.3,69.4 640.8,69.4 642.3,69.3 643.8,69.3 645.3,69.3 646.8,69.2 648.3,69.2 649.8,69.2 651.2,69.2 652.7,69.1 654.2,69.1 655.7,69.1 657.2,69.1 658.7,69 660.2,69 661.7,69 663.2,69 664.6,69 666.1,69 667.6,69 669.1,69 670.6,69 672.1,69" stroke="#d84090" stroke-width="0.6" />
<polyline points="496.3,132.8 497.8,132.8 499.3,132.8 500.8,132.8 502.2,132.8 503.7,132.8 505.2,132.8 506.7,132.8 508.2,132.8 509.7,132.8 511.2,132.8 512.7,132.8 514.2,132.8 515.6,132.8 517.1,132.8 518.6,132.8 520.1,132.8 521.6,132.8 523.1,132.8 524.6,132.8 526.1,132.8 527.6,132.8 529.1,132.8 530.5,132.8 532,132.8 533.5,132.8 535,132.7 536.5,132.6 538,132.3 539.5,131.7 541,130.8 542.5,129.3 544,127.3 545.5,124.6 546.9,121.3 548.4,117.5 549.9,113.3 551.4,108.9 552.9,104.5 554.4,100.2 555.9,96.3 557.4,92.6 558.9,89.4 560.4,86.6 561.8,84.1 563.3,82 564.8,80.3 566.3,78.8 567.8,77.5 569.3,76.5 570.8,75.7 572.3,75 573.8,74.4 575.2,73.9 576.7,73.5 578.2,73.2 579.7,72.9 581.2,72.7 582.7,72.5 584.2,72.3 585.7,72.2 587.2,72.1 588.7,72 590.1,71.9 591.6,71.8 593.1,71.7 594.6,71.7 596.1,71.6 597.6,71.6 599.1,71.5 600.6,71.5 602.1,71.4 603.6,71.4 605,71.3 606.5,71.3 608,71.2 609.5,71.2 611,71.1 612.5,71.1 614,71 615.5,71 617,70.9 618.5,70.9 620,70.9 621.4,70.8 622.9,70.8 624.4,70.7 625.9,70.7 627.4,70.6 628.9,70.6 630.4,70.6 631.9,70.5 633.4,70.5 634.9,70.4 636.3,70.4 637.8,70.4 639.3,70.3 640.8,70.3 642.3,70.2 643.8,70.2 645.3,70.2 646.8,70.1 648.3,70.1 649.8,70.1 651.2,70.1 652.7,70 654.2,70 655.7,70 657.2,70 658.7,69.9 660.2,69.9 661.7,69.9 663.2,69.9 664.6,69.9 666.1,69.9 667.6,69.9 669.1,69.9 670.6,69.9 672.1,69.9" stroke="#f090c8" stroke-width="0.6" />
<polyline points="496.3,132.8 497.8,132.8 499.3,132.8 500.8,132.8 502.2,132.8 503.7,132.8 505.2,132.8 506.7,132.8 508.2,132.8 509.7,132.8 511.2,132.8 512.7,132.6 514.2,132.3 515.6,131.4 517.1,129.5 518.6,126.2 520.1,121 521.6,114 523.1,105.8 524.6,97.2 526.1,89.3 527.6,82.4 529.1,76.9 530.5,72.7 532,69.5 533.5,67.2 535,65.5 536.5,64.4 538,63.6 539.5,63 541,62.6 542.5,62.3 544,62.2 545.5,62 546.9,61.9 548.4,61.9 549.9,61.8 551.4,61.8 552.9,61.8 554.4,61.8 555.9,61.8 557.4,61.8 558.9,61.8 560.4,61.8 561.8,61.8 563.3,61.8 564.8,61.8 566.3,61.8 567.8,61.8 569.3,61.8 570.8,61.8 572.3,61.8 573.8,61.8 575.2,61.8 576.7,61.8 578.2,61.8 579.7,61.8 581.2,61.8 582.7,61.8 584.2,61.8 585.7,61.8 587.2,61.8 588.7,61.8 590.1,61.8 591.6,61.8 593.1,61.8 594.6,61.8 596.1,61.8 597.6,61.8 599.1,61.8 600.6,61.8 602.1,61.8 603.6,61.8 605,61.8 606.5,61.8 608,61.8 609.5,61.8 611,61.8 612.5,61.8 614,61.8 615.5,61.8 617,61.8 618.5,61.8 620,61.8 621.4,61.8 622.9,61.8 624.4,61.8 625.9,61.8 627.4,61.8 628.9,61.8 630.4,61.8 631.9,61.8 633.4,61.8 634.9,61.8 636.3,61.8 637.8,61.8 639.3,61.8 640.8,61.8 642.3,61.8 643.8,61.8 645.3,61.8 646.8,61.8 648.3,61.8 649.8,61.8 651.2,61.8 652.7,61.8 654.2,61.8 655.7,61.8 657.2,61.8 658.7,61.8 660.2,61.8 661.7,61.8 663.2,61.8 664.6,61.8 666.1,61.8 667.6,61.8 669.1,61.8 670.6,61.8 672.1,61.8" stroke="#f0a050" stroke-width="0.6" />
<polyline points="496.3,132.8 497.8,132.8 499.3,132.8 500.8,132.8 502.2,132.8 503.7,132.8 505.2,132.8 506.7,132.8 508.2,132.8 509.7,132.8 511.2,132.8 512.7,132.7 514.2,132.5 515.6,132 517.1,130.8 518.6,128.4 520.1,124.4 521.6,118.7 523.1,111.7 524.6,104.1 526.1,96.8 527.6,90.4 529.1,85.2 530.5,81.1 532,78.1 533.5,75.8 535,74.2 536.5,73.1 538,72.3 539.5,71.7 541,71.3 542.5,70.9 544,70.7 545.5,70.5 546.9,70.4 548.4,70.2 549.9,70.1 551.4,70 552.9,69.9 554.4,69.8 555.9,69.8 557.4,69.7 558.9,69.6 560.4,69.5 561.8,69.4 563.3,69.4 564.8,69.3 566.3,69.2 567.8,69.1 569.3,69.1 570.8,69 572.3,68.9 573.8,68.8 575.2,68.8 576.7,68.7 578.2,68.6 579.7,68.5 581.2,68.5 582.7,68.4 584.2,68.3 585.7,68.2 587.2,68.2 588.7,68.1 590.1,68 591.6,67.9 593.1,67.9 594.6,67.8 596.1,67.7 597.6,67.6 599.1,67.6 600.6,67.5 602.1,67.4 603.6,67.3 605,67.3 606.5,67.2 608,67.1 609.5,67 611,67 612.5,66.9 614,66.8 615.5,66.7 617,66.7 618.5,66.6 620,66.5 621.4,66.4 622.9,66.4 624.4,66.3 625.9,66.2 627.4,66.1 628.9,66.1 630.4,66 631.9,65.9 633.4,65.8 634.9,65.8 636.3,65.7 637.8,65.6 639.3,65.5 640.8,65.5 642.3,65.4 643.8,65.3 645.3,65.2 646.8,65.2 648.3,65.1 649.8,65 651.2,64.9 652.7,64.9 654.2,64.8 655.7,64.7 657.2,64.6 658.7,64.6 660.2,64.5 661.7,64.4 663.2,64.3 664.6,64.3 666.1,64.2 667.6,64.1 669.1,64 670.6,64 672.1,63.9" stroke="#f09040" stroke-width="0.6" />
<polyline points="496.3,132.8 497.8,132.8 499.3,132.8 500.8,132.8 502.2,132.8 503.7,132.8 505.2,132.8 506.7,132.8 508.2,132.8 509.7,132.8 511.2,132.8 512.7,132.6 514.2,132.4 515.6,131.8 517.1,130.6 518.6,128.7 520.1,125.6 521.6,121.1 523.1,115.4 524.6,108.8 526.1,101.6 527.6,94.6 529.1,88.2 530.5,82.5 532,77.7 533.5,73.9 535,70.8 536.5,68.5 538,66.7 539.5,65.3 541,64.3 542.5,63.6 544,63 545.5,62.6 546.9,62.3 548.4,62.1 549.9,61.9 551.4,61.8 552.9,61.7 554.4,61.6 555.9,61.6 557.4,61.5 558.9,61.5 560.4,61.5 561.8,61.5 563.3,61.5 564.8,61.5 566.3,61.5 567.8,61.5 569.3,61.5 570.8,61.5 572.3,61.5 573.8,61.5 575.2,61.5 576.7,61.5 578.2,61.5 579.7,61.5 581.2,61.5 582.7,61.5 584.2,61.5 585.7,61.5 587.2,61.5 588.7,61.5 590.1,61.5 591.6,61.5 593.1,61.5 594.6,61.5 596.1,61.5 597.6,61.5 599.1,61.5 600.6,61.5 602.1,61.5 603.6,61.5 605,61.5 606.5,61.5 608,61.5 609.5,61.5 611,61.5 612.5,61.5 614,61.5 615.5,61.5 617,61.5 618.5,61.5 620,61.5 621.4,61.5 622.9,61.5 624.4,61.5 625.9,61.5 627.4,61.5 628.9,61.5 630.4,61.5 631.9,61.5 633.4,61.5 634.9,61.5 636.3,61.5 637.8,61.5 639.3,61.5 640.8,61.5 642.3,61.5 643.8,61.5 645.3,61.5 646.8,61.5 648.3,61.5 649.8,61.5 651.2,61.5 652.7,61.5 654.2,61.5 655.7,61.5 657.2,61.5 658.7,61.5 660.2,61.5 661.7,61.5 663.2,61.5 664.6,61.5 666.1,61.5 667.6,61.5 669.1,61.5 670.6,61.5 672.1,61.5" stroke="#60e040" stroke-width="0.6" />
<polyline points="496.3,132.8 497.8,132.8 499.3,132.8 500.8,132.8 502.2,132.8 503.7,132.8 505.2,132.8 506.7,132.8 508.2,132.8 509.7,132.8 511.2,132.8 512.7,132.7 514.2,132.4 515.6,132 517.1,131.1 518.6,129.6 520.1,127.2 521.6,123.7 523.1,119 524.6,113.3 526.1,106.8 527.6,100.2 529.1,93.7 530.5,87.8 532,82.6 533.5,78.3 535,74.7 536.5,71.9 538,69.6 539.5,67.9 541,66.6 542.5,65.6 544,64.8 545.5,64.2 546.9,63.8 548.4,63.5 549.9,63.2 551.4,63 552.9,62.9 554.4,62.8 555.9,62.7 557.4,62.7 558.9,62.6 560.4,62.6 561.8,62.6 563.3,62.6 564.8,62.5 566.3,62.5 567.8,62.5 569.3,62.5 570.8,62.5 572.3,62.5 573.8,62.5 575.2,62.5 576.7,62.5 578.2,62.5 579.7,62.5 581.2,62.5 582.7,62.5 584.2,62.5 585.7,62.5 587.2,62.5 588.7,62.5 590.1,62.5 591.6,62.5 593.1,62.5 594.6,62.5 596.1,62.5 597.6,62.5 599.1,62.5 600.6,62.5 602.1,62.5 603.6,62.5 605,62.5 606.5,62.5 608,62.5 609.5,62.5 611,62.5 612.5,62.5 614,62.5 615.5,62.5 617,62.5 618.5,62.5 620,62.5 621.4,62.5 622.9,62.5 624.4,62.5 625.9,62.5 627.4,62.5 628.9,62.5 630.4,62.5 631.9,62.5 633.4,62.5 634.9,62.5 636.3,62.5 637.8,62.5 639.3,62.5 640.8,62.5 642.3,62.5 643.8,62.5 645.3,62.5 646.8,62.5 648.3,62.5 649.8,62.5 651.2,62.5 652.7,62.5 654.2,62.5 655.7,62.5 657.2,62.5 658.7,62.5 660.2,62.5 661.7,62.5 663.2,62.5 664.6,62.5 666.1,62.5 667.6,62.5 669.1,62.5 670.6,62.5 672.1,62.5" stroke="#30d830" stroke-width="0.6" />
<polyline points="496.3,132.8 497.8,132.8 499.3,132.8 500.8,132.8 502.2,132.8 503.7,132.8 505.2,132.8 506.7,132.8 508.2,132.8 509.7,132.8 511.2,132.8 512.7,132.7 514.2,132.6 515.6,132.3 517.1,131.7 518.6,130.7 520.1,128.9 521.6,126.2 523.1,122.4 524.6,117.5 526.1,111.7 527.6,105.4 529.1,99 530.5,92.9 532,87.3 533.5,82.5 535,78.5 536.5,75.2 538,72.6 539.5,70.5 541,68.9 542.5,67.7 544,66.8 545.5,66 546.9,65.5 548.4,65.1 549.9,64.8 551.4,64.5 552.9,64.4 554.4,64.2 555.9,64.1 557.4,64.1 558.9,64 560.4,64 561.8,63.9 563.3,63.9 564.8,63.9 566.3,63.9 567.8,63.9 569.3,63.9 570.8,63.9 572.3,63.9 573.8,63.9 575.2,63.9 576.7,63.9 578.2,63.9 579.7,63.9 581.2,63.9 582.7,63.9 584.2,63.9 585.7,63.9 587.2,63.9 588.7,63.9 590.1,63.9 591.6,63.9 593.1,63.9 594.6,63.9 596.1,63.9 597.6,63.9 599.1,63.9 600.6,63.9 602.1,63.9 603.6,63.9 605,63.9 606.5,63.9 608,63.9 609.5,63.9 611,63.9 612.5,63.9 614,63.9 615.5,63.9 617,63.9 618.5,63.9 620,63.9 621.4,63.9 622.9,63.9 624.4,63.9 625.9,63.9 627.4,63.9 628.9,63.9 630.4,63.9 631.9,63.9 633.4,63.9 634.9,63.9 636.3,63.9 637.8,63.9 639.3,63.9 640.8,63.9 642.3,63.9 643.8,63.9 645.3,63.9 646.8,63.9 648.3,63.9 649.8,63.9 651.2,63.9 652.7,63.9 654.2,63.9 655.7,63.9 657.2,63.9 658.7,63.9 660.2,63.9 661.7,63.9 663.2,63.9 664.6,63.9 666.1,63.9 667.6,63.9 669.1,63.9 670.6,63.9 672.1,63.9" stroke="#80e860" stroke-width="0.6" />
<polyline points="496.3,132.8 497.8,132.8 499.3,132.8 500.8,132.8 502.2,132.8 503.7,132.8 505.2,132.8 506.7,132.8 508.2,132.8 509.7,132.8 511.2,132.8 512.7,132.8 514.2,132.7 515.6,132.5 517.1,132.1 518.6,131.3 520.1,130 521.6,127.9 523.1,124.8 524.6,120.6 526.1,115.4 527.6,109.4 529.1,103.1 530.5,96.7 532,90.8 533.5,85.5 535,80.9 536.5,77 538,73.9 539.5,71.4 541,69.4 542.5,67.9 544,66.7 545.5,65.8 546.9,65.1 548.4,64.6 549.9,64.2 551.4,63.9 552.9,63.6 554.4,63.5 555.9,63.3 557.4,63.2 558.9,63.2 560.4,63.1 561.8,63.1 563.3,63 564.8,63 566.3,63 567.8,63 569.3,63 570.8,63 572.3,63 573.8,63 575.2,63 576.7,63 578.2,63 579.7,63 581.2,63 582.7,63 584.2,63 585.7,63 587.2,63 588.7,63 590.1,63 591.6,63 593.1,63 594.6,63 596.1,63 597.6,63 599.1,63 600.6,63 602.1,63 603.6,63 605,63 606.5,63 608,63 609.5,63 611,63 612.5,63 614,63 615.5,63 617,63 618.5,63 620,63 621.4,63 622.9,63 624.4,63 625.9,63 627.4,63 628.9,63 630.4,63 631.9,63 633.4,63 634.9,63 636.3,63 637.8,63 639.3,63 640.8,63 642.3,63 643.8,63 645.3,63 646.8,63 648.3,63 649.8,63 651.2,63 652.7,63 654.2,63 655.7,63 657.2,63 658.7,63 660.2,63 661.7,63 663.2,63 664.6,63 666.1,63 667.6,63 669.1,63 670.6,63 672.1,63" stroke="#48d048" stroke-width="0.6" />
<polyline points="496.3,132.8 497.8,132.8 499.3,132.8 500.8,132.8 502.2,132.8 503.7,132.8 505.2,132.8 506.7,132.8 508.2,132.8 509.7,132.8 511.2,132.8 512.7,132.8 514.2,132.8 515.6,132.8 517.1,132.8 518.6,132.8 520.1,132.8 521.6,132.8 523.1,132.8 524.6,132.8 526.1,132.6 527.6,131.9 529.1,130 530.5,126.1 532,120 533.5,112.3 535,103.9 536.5,95.8 538,88.8 539.5,83 541,78.5 542.5,75.1 544,72.6 545.5,70.8 546.9,69.5 548.4,68.6 549.9,67.9 551.4,67.5 552.9,67.1 554.4,66.9 555.9,66.8 557.4,66.7 558.9,66.6 560.4,66.5 561.8,66.5 563.3,66.5 564.8,66.4 566.3,66.4 567.8,66.4 569.3,66.4 570.8,66.4 572.3,66.4 573.8,66.4 575.2,66.4 576.7,66.4 578.2,66.4 579.7,66.4 581.2,66.4 582.7,66.4 584.2,66.4 585.7,66.4 587.2,66.4 588.7,66.4 590.1,66.4 591.6,66.4 593.1,66.4 594.6,66.4 596.1,66.4 597.6,66.4 599.1,66.4 600.6,66.4 602.1,66.4 603.6,66.4 605,66.4 606.5,66.4 608,66.4 609.5,66.4 611,66.4 612.5,66.4 614,66.4 615.5,66.4 617,66.4 618.5,66.4 620,66.4 621.4,66.4 622.9,66.4 624.4,66.4 625.9,66.4 627.4,66.4 628.9,66.4 630.4,66.4 631.9,66.4 633.4,66.4 634.9,66.4 636.3,66.4 637.8,66.4 639.3,66.4 640.8,66.4 642.3,66.4 643.8,66.4 645.3,66.4 646.8,66.4 648.3,66.4 649.8,66.4 651.2,66.4 652.7,66.4 654.2,66.4 655.7,66.4 657.2,66.4 658.7,66.4 660.2,66.4 661.7,66.4 663.2,66.4 664.6,66.4 666.1,66.4 667.6,66.4 669.1,66.4 670.6,66.4 672.1,66.4" stroke="#e03838" stroke-width="0.6" />
<polyline points="496.3,132.8 497.8,132.8 499.3,132.8 500.8,132.8 502.2,132.8 503.7,132.8 505.2,132.8 506.7,132.8 508.2,132.8 509.7,132.8 511.2,132.8 512.7,132.8 514.2,132.8 515.6,132.8 517.1,132.8 518.6,132.8 520.1,132.8 521.6,132.8 523.1,132.8 524.6,132.8 526.1,132.8 527.6,132.7 529.1,132.2 530.5,130.7 532,127.3 533.5,121.8 535,114.3 536.5,106 538,97.9 539.5,90.6 541,84.7 542.5,80 544,76.5 545.5,73.9 546.9,72 548.4,70.7 549.9,69.8 551.4,69.1 552.9,68.7 554.4,68.3 555.9,68.1 557.4,68 558.9,67.8 560.4,67.8 561.8,67.7 563.3,67.7 564.8,67.7 566.3,67.6 567.8,67.6 569.3,67.6 570.8,67.6 572.3,67.6 573.8,67.6 575.2,67.6 576.7,67.6 578.2,67.6 579.7,67.6 581.2,67.6 582.7,67.6 584.2,67.6 585.7,67.6 587.2,67.6 588.7,67.6 590.1,67.6 591.6,67.6 593.1,67.6 594.6,67.6 596.1,67.6 597.6,67.6 599.1,67.6 600.6,67.6 602.1,67.6 603.6,67.6 605,67.6 606.5,67.6 608,67.6 609.5,67.6 611,67.6 612.5,67.6 614,67.6 615.5,67.6 617,67.6 618.5,67.6 620,67.6 621.4,67.6 622.9,67.6 624.4,67.6 625.9,67.6 627.4,67.6 628.9,67.6 630.4,67.6 631.9,67.6 633.4,67.6 634.9,67.6 636.3,67.6 637.8,67.6 639.3,67.6 640.8,67.6 642.3,67.6 643.8,67.6 645.3,67.6 646.8,67.6 648.3,67.6 649.8,67.6 651.2,67.6 652.7,67.6 654.2,67.6 655.7,67.6 657.2,67.6 658.7,67.6 660.2,67.6 661.7,67.6 663.2,67.6 664.6,67.6 666.1,67.6 667.6,67.6 669.1,67.6 670.6,67.6 672.1,67.6" stroke="#f06060" stroke-width="0.6" />
<polyline points="496.3,132.8 497.8,132.8 499.3,132.8 500.8,132.8 502.2,132.8 503.7,132.8 505.2,132.8 506.7,132.8 508.2,132.8 509.7,132.8 511.2,132.8 512.7,132.8 514.2,132.8 515.6,132.8 517.1,132.8 518.6,132.8 520.1,132.8 521.6,132.8 523.1,132.8 524.6,132.8 526.1,132.8 527.6,132.8 529.1,132.7 530.5,132.2 532,130.8 533.5,127.8 535,122.6 536.5,115.5 538,107.4 539.5,99.3 541,91.9 542.5,85.7 544,80.8 545.5,77 546.9,74.1 548.4,72 549.9,70.5 551.4,69.4 552.9,68.7 554.4,68.1 555.9,67.8 557.4,67.5 558.9,67.3 560.4,67.2 561.8,67.1 563.3,67 564.8,67 566.3,66.9 567.8,66.9 569.3,66.9 570.8,66.9 572.3,66.9 573.8,66.9 575.2,66.9 576.7,66.9 578.2,66.9 579.7,66.9 581.2,66.9 582.7,66.9 584.2,66.9 585.7,66.9 587.2,66.9 588.7,66.9 590.1,66.9 591.6,66.9 593.1,66.9 594.6,66.9 596.1,66.9 597.6,66.9 599.1,66.9 600.6,66.9 602.1,66.9 603.6,66.9 605,66.9 606.5,66.9 608,66.9 609.5,66.9 611,66.9 612.5,66.9 614,66.9 615.5,66.9 617,66.9 618.5,66.9 620,66.9 621.4,66.9 622.9,66.9 624.4,66.9 625.9,66.9 627.4,66.9 628.9,66.9 630.4,66.9 631.9,66.9 633.4,66.9 634.9,66.9 636.3,66.9 637.8,66.9 639.3,66.9 640.8,66.9 642.3,66.9 643.8,66.9 645.3,66.9 646.8,66.9 648.3,66.9 649.8,66.9 651.2,66.9 652.7,66.9 654.2,66.9 655.7,66.9 657.2,66.9 658.7,66.9 660.2,66.9 661.7,66.9 663.2,66.9 664.6,66.9 666.1,66.9 667.6,66.9 669.1,66.9 670.6,66.9 672.1,66.9" stroke="#e84848" stroke-width="0.6" />
<polyline points="496.3,132.8 497.8,132.8 499.3,132.8 500.8,132.8 502.2,132.8 503.7,132.8 505.2,132.8 506.7,132.8 508.2,132.8 509.7,132.8 511.2,132.8 512.7,132.8 514.2,132.8 515.6,132.8 517.1,132.8 518.6,132.8 520.1,132.8 521.6,132.8 523.1,132.8 524.6,132.8 526.1,132.8 527.6,132.8 529.1,132.8 530.5,132.7 532,132.3 533.5,131.1 535,128.4 536.5,123.7 538,117.1 539.5,109.5 541,101.6 542.5,94.3 544,88 545.5,83 546.9,79 548.4,76 549.9,73.8 551.4,72.1 552.9,71 554.4,70.1 555.9,69.5 557.4,69.1 558.9,68.8 560.4,68.6 561.8,68.4 563.3,68.3 564.8,68.2 566.3,68.2 567.8,68.1 569.3,68.1 570.8,68.1 572.3,68.1 573.8,68.1 575.2,68.1 576.7,68.1 578.2,68.1 579.7,68.1 581.2,68.1 582.7,68.1 584.2,68.1 585.7,68.1 587.2,68.1 588.7,68.1 590.1,68.1 591.6,68.1 593.1,68.1 594.6,68.1 596.1,68.1 597.6,68.1 599.1,68.1 600.6,68.1 602.1,68.1 603.6,68.1 605,68.1 606.5,68.1 608,68.1 609.5,68.1 611,68.1 612.5,68.1 614,68.1 615.5,68.1 617,68.1 618.5,68.1 620,68.1 621.4,68.1 622.9,68.1 624.4,68.1 625.9,68.1 627.4,68.1 628.9,68.1 630.4,68.1 631.9,68.1 633.4,68.1 634.9,68.1 636.3,68.1 637.8,68.1 639.3,68.1 640.8,68.1 642.3,68.1 643.8,68.1 645.3,68.1 646.8,68.1 648.3,68.1 649.8,68.1 651.2,68.1 652.7,68.1 654.2,68.1 655.7,68.1 657.2,68.1 658.7,68.1 660.2,68.1 661.7,68.1 663.2,68.1 664.6,68.1 666.1,68.1 667.6,68.1 669.1,68.1 670.6,68.1 672.1,68.1" stroke="#f07878" stroke-width="0.6" />
<rect x="493.3" y="58.0" width="188.3" height="77.8" fill="none" stroke="#333" stroke-width="0.8"/>
<path d="M499.3,135.3v1.5M499.3,57.7v1.3M505.2,135.3v1.5M505.2,57.7v1.3M511.2,135.3v1.5M511.2,57.7v1.3M517.1,135.3v1.5M517.1,57.7v1.3M529.1,135.3v1.5M529.1,57.7v1.3M535,135.3v1.5M535,57.7v1.3M541,135.3v1.5M541,57.7v1.3M546.9,135.3v1.5M546.9,57.7v1.3M558.9,135.3v1.5M558.9,57.7v1.3M564.8,135.3v1.5M564.8,57.7v1.3M570.8,135.3v1.5M570.8,57.7v1.3M576.7,135.3v1.5M576.7,57.7v1.3M588.7,135.3v1.5M588.7,57.7v1.3M594.6,135.3v1.5M594.6,57.7v1.3M600.6,135.3v1.5M600.6,57.7v1.3M606.5,135.3v1.5M606.5,57.7v1.3M618.5,135.3v1.5M618.5,57.7v1.3M624.4,135.3v1.5M624.4,57.7v1.3M630.4,135.3v1.5M630.4,57.7v1.3M636.3,135.3v1.5M636.3,57.7v1.3M648.3,135.3v1.5M648.3,57.7v1.3M654.2,135.3v1.5M654.2,57.7v1.3M660.2,135.3v1.5M660.2,57.7v1.3M666.1,135.3v1.5M666.1,57.7v1.3M678.1,135.3v1.5M678.1,57.7v1.3M493.3,134.8v2.4M493.3,57.2v2.2M523.1,134.8v2.4M523.1,57.2v2.2M552.9,134.8v2.4M552.9,57.2v2.2M582.7,134.8v2.4M582.7,57.2v2.2M612.5,134.8v2.4M612.5,57.2v2.2M642.3,134.8v2.4M642.3,57.2v2.2M672.1,134.8v2.4M672.1,57.2v2.2M492.7,130h1.4M680.8000000000001,130h1.5M492.7,127h1.4M680.8000000000001,127h1.5M492.7,124h1.4M680.8000000000001,124h1.5M492.7,121h1.4M680.8000000000001,121h1.5M492.7,115h1.4M680.8000000000001,115h1.5M492.7,112h1.4M680.8000000000001,112h1.5M492.7,109h1.4M680.8000000000001,109h1.5M492.7,106h1.4M680.8000000000001,106h1.5M492.7,100h1.4M680.8000000000001,100h1.5M492.7,97h1.4M680.8000000000001,97h1.5M492.7,94h1.4M680.8000000000001,94h1.5M492.7,91h1.4M680.8000000000001,91h1.5M492.7,85h1.4M680.8000000000001,85h1.5M492.7,82h1.4M680.8000000000001,82h1.5M492.7,79h1.4M680.8000000000001,79h1.5M492.7,76h1.4M680.8000000000001,76h1.5M492.7,70h1.4M680.8000000000001,70h1.5M492.7,67h1.4M680.8000000000001,67h1.5M492.7,64h1.4M680.8000000000001,64h1.5M492.7,61h1.4M680.8000000000001,61h1.5M491.90000000000003,133h2.4M680.6,133h2.4M491.90000000000003,118h2.4M680.6,118h2.4M491.90000000000003,103h2.4M680.6,103h2.4M491.90000000000003,88h2.4M680.6,88h2.4M491.90000000000003,73h2.4M680.6,73h2.4M491.90000000000003,58h2.4M680.6,58h2.4" stroke="#333" stroke-width="0.7"/>
<text x="493.3" y="142.6" font-size="4.3" text-anchor="middle" fill="#222" stroke="#222" stroke-width="0.18">0</text>
<text x="523.1" y="142.6" font-size="4.3" text-anchor="middle" fill="#222" stroke="#222" stroke-width="0.18">10</text>
<text x="552.9" y="142.6" font-size="4.3" text-anchor="middle" fill="#222" stroke="#222" stroke-width="0.18">20</text>
<text x="582.7" y="142.6" font-size="4.3" text-anchor="middle" fill="#222" stroke="#222" stroke-width="0.18">30</text>
<text x="612.5" y="142.6" font-size="4.3" text-anchor="middle" fill="#222" stroke="#222" stroke-width="0.18">40</text>
<text x="642.3" y="142.6" font-size="4.3" text-anchor="middle" fill="#222" stroke="#222" stroke-width="0.18">50</text>
<text x="672.1" y="142.6" font-size="4.3" text-anchor="middle" fill="#222" stroke="#222" stroke-width="0.18">60</text>
<text x="490.1" y="134.6" font-size="4.3" text-anchor="end" fill="#222" stroke="#222" stroke-width="0.18">0</text>
<text x="490.1" y="119.6" font-size="4.3" text-anchor="end" fill="#222" stroke="#222" stroke-width="0.18">500</text>
<text x="490.1" y="104.6" font-size="4.3" text-anchor="end" fill="#222" stroke="#222" stroke-width="0.18">1000</text>
<text x="490.1" y="89.6" font-size="4.3" text-anchor="end" fill="#222" stroke="#222" stroke-width="0.18">1500</text>
<text x="490.1" y="74.6" font-size="4.3" text-anchor="end" fill="#222" stroke="#222" stroke-width="0.18">2000</text>
<text x="490.1" y="59.6" font-size="4.3" text-anchor="end" fill="#222" stroke="#222" stroke-width="0.18">2500</text>
<text x="578" y="54.0" font-size="4.6" text-anchor="middle" font-weight="bold" fill="#111" stroke="#111" stroke-width="0.12">Amplification</text>
<text x="587.5" y="150.5" font-size="4.6" text-anchor="middle" font-weight="bold" fill="#111" stroke="#111" stroke-width="0.12">Cycles</text>
<text transform="translate(476.9,96.6) rotate(-90)" font-size="4.6" font-weight="bold" text-anchor="middle" fill="#111" stroke="#111" stroke-width="0.12">RFU</text>
<line x1="53.4" y1="235.6" x2="228.3" y2="235.6" stroke="#58a858" stroke-width="0.8"/>
<polyline points="53.4,254 56.3,251.2 56.9,250.7 59.2,250.6 62.1,250.5 65.1,250.4 68,250.3 70.9,250.3 73.8,250.2 76.7,250.1 79.6,250 82.5,249.9 85.5,249.8 88.4,249.7 91.3,249.6 94.2,249.5 97.1,249.5 100,249.4 103,249.3 105.9,249.2 108.8,249.1 111.7,249 114.6,248.9 117.5,248.8 120.4,248.8 123.4,248.7 126.3,248.6 129.2,248.5 132.1,248.4 135,248.3 136.5,248.3 137.9,247.1 139.4,245.9 140.8,242.1 142.3,234.4 143.8,226.8 145.2,219.2 146.7,211.7 148.1,204.2 149.6,196.9 151.1,189.7 152.5,182.8 154,189.9 155.4,197 156.9,204 158.3,210.8 159.8,217.4 161.3,223.8 162.7,230.2 164.2,236.3 165.6,240.7 167.1,245 168.5,249.4 170,250.9 171.5,252.4 172.9,254 174.4,254.1 175.8,254.1 178.7,254.1 181.7,254.1 184.6,254.1 187.5,254.1 190.4,254.1 193.3,254.1 196.2,254.1 199.2,254.1 202.1,254.1 205,254.1 207.9,254.1 210.8,254.1 213.7,254.1 216.6,254.1 219.6,254.1 222.5,254.1 225.4,254.1 228.3,254.1" stroke="#f49850" stroke-width="0.95" />
<polyline points="53.4,254 56.3,251.2 56.9,250.7 59.2,250.6 62.1,250.5 65.1,250.4 68,250.3 70.9,250.3 73.8,250.2 76.7,250.1 79.6,250 82.5,249.9 85.5,249.8 88.4,249.7 91.3,249.6 94.2,249.5 97.1,249.5 100,249.4 103,249.3 105.9,249.2 108.8,249.1 111.7,249 114.6,248.9 117.5,248.8 120.4,248.8 123.4,248.7 126.3,248.6 129.2,248.5 132.1,248.4 135,248.3 137.9,248.2 140.3,248.2 141.7,248.1 143.2,247 144.6,245.9 146.1,242.3 147.6,235.2 149,228.1 150.5,221 151.9,213.9 153.4,207 154.8,200.1 156.3,193.5 157.8,187.1 159.2,193.8 160.7,200.6 162.1,207.2 163.6,213.6 165,219.8 166.5,225.8 168,231.7 169.4,237.4 170.9,241.5 172.3,245.6 173.8,249.7 175.2,251.1 176.7,252.6 178.2,254 179.6,254.1 181.1,254.1 181.7,254.1 184.6,254.1 187.5,254.1 190.4,254.1 193.3,254.1 196.2,254.1 199.2,254.1 202.1,254.1 205,254.1 207.9,254.1 210.8,254.1 213.7,254.1 216.6,254.1 219.6,254.1 222.5,254.1 225.4,254.1 228.3,254.1" stroke="#f08030" stroke-width="0.95" />
<polyline points="53.4,254 56.3,251.2 56.9,250.7 59.2,250.6 62.1,250.5 65.1,250.4 68,250.3 70.9,250.3 73.8,250.2 76.7,250.1 79.6,250 82.5,249.9 85.5,249.8 88.4,249.7 91.3,249.6 94.2,249.5 97.1,249.5 100,249.4 103,249.3 105.9,249.2 108.8,249.1 111.7,249 114.6,248.9 117.5,248.8 120.4,248.8 123.4,248.7 126.3,248.6 129.2,248.5 132.1,248.4 135,248.3 137.9,248.2 139.4,248.2 140.8,247.2 142.3,246.1 143.8,242.8 145.2,236.2 146.7,229.5 148.1,222.9 149.6,216.4 151.1,209.9 152.5,203.6 154,197.5 155.4,191.6 156.9,197.9 158.3,204.2 159.8,210.4 161.3,216.4 162.7,222.2 164.2,227.8 165.6,233.3 167.1,238.6 168.5,242.4 170,246.2 171.5,250 172.9,251.3 174.4,252.7 175.8,254 177.3,254.1 178.7,254.1 181.7,254.1 184.6,254.1 187.5,254.1 190.4,254.1 193.3,254.1 196.2,254.1 199.2,254.1 202.1,254.1 205,254.1 207.9,254.1 210.8,254.1 213.7,254.1 216.6,254.1 219.6,254.1 222.5,254.1 225.4,254.1 228.3,254.1" stroke="#c8d040" stroke-width="0.95" />
<polyline points="53.4,254 56.3,251.2 56.9,250.7 59.2,250.6 62.1,250.5 65.1,250.4 68,250.3 70.9,250.3 73.8,250.2 76.7,250.1 79.6,250 82.5,249.9 85.5,249.8 88.4,249.7 91.3,249.6 94.2,249.5 97.1,249.5 100,249.4 103,249.3 105.9,249.2 108.8,249.1 111.7,249 114.6,248.9 117.5,248.8 120.4,248.8 123.4,248.7 126.3,248.6 129.2,248.5 132.1,248.4 135,248.3 136.8,248.3 138.2,248.2 139.7,247.2 141.1,246.1 142.6,242.6 144.1,235.7 145.5,228.9 147,222 148.4,215.2 149.9,208.5 151.3,201.9 152.8,195.5 154.3,189.4 155.7,195.8 157.2,202.4 158.6,208.8 160.1,215 161.5,221 163,226.8 164.5,232.5 165.9,238 167.4,242 168.8,245.9 170.3,249.9 171.7,251.2 173.2,252.6 174.7,254 176.1,254.1 177.6,254.1 178.7,254.1 181.7,254.1 184.6,254.1 187.5,254.1 190.4,254.1 193.3,254.1 196.2,254.1 199.2,254.1 202.1,254.1 205,254.1 207.9,254.1 210.8,254.1 213.7,254.1 216.6,254.1 219.6,254.1 222.5,254.1 225.4,254.1 228.3,254.1" stroke="#40d840" stroke-width="0.95" />
<polyline points="53.4,254 56.3,251.2 56.9,250.7 59.2,250.6 62.1,250.5 65.1,250.4 68,250.3 70.9,250.3 73.8,250.2 76.7,250.1 79.6,250 82.5,249.9 85.5,249.8 88.4,249.7 91.3,249.6 94.2,249.5 97.1,249.5 100,249.4 103,249.3 105.9,249.2 108.8,249.1 111.7,249 114.6,248.9 117.5,248.8 120.4,248.8 123.4,248.7 126.3,248.6 129.2,248.5 132.1,248.4 135,248.3 137.9,248.2 139.4,248.2 140.8,247.2 142.3,246.1 143.8,242.8 145.2,236.2 146.7,229.5 148.1,222.9 149.6,216.4 151.1,209.9 152.5,203.6 154,197.5 155.4,191.6 156.9,197.9 158.3,204.2 159.8,210.4 161.3,216.4 162.7,222.2 164.2,227.8 165.6,233.3 167.1,238.6 168.5,242.4 170,246.2 171.5,250 172.9,251.3 174.4,252.7 175.8,254 177.3,254.1 178.7,254.1 181.7,254.1 184.6,254.1 187.5,254.1 190.4,254.1 193.3,254.1 196.2,254.1 199.2,254.1 202.1,254.1 205,254.1 207.9,254.1 210.8,254.1 213.7,254.1 216.6,254.1 219.6,254.1 222.5,254.1 225.4,254.1 228.3,254.1" stroke="#60e060" stroke-width="0.95" />
<polyline points="53.4,254 56.3,251.2 56.9,250.7 59.2,250.6 62.1,250.5 65.1,250.4 68,250.3 70.9,250.3 73.8,250.2 76.7,250.1 79.6,250 82.5,249.9 85.5,249.8 88.4,249.7 91.3,249.6 94.2,249.5 97.1,249.5 100,249.4 103,249.3 105.9,249.2 108.8,249.1 111.7,249 114.6,248.9 117.5,248.8 120.4,248.8 123.4,248.7 126.3,248.6 129.2,248.5 132.1,248.4 135,248.3 137.9,248.2 139.7,248.2 141.1,248.1 142.6,247.1 144.1,246 145.5,242.7 147,236 148.4,229.3 149.9,222.6 151.3,216 152.8,209.5 154.3,203.1 155.7,196.9 157.2,190.9 158.6,197.3 160.1,203.7 161.5,210 163,216 164.5,221.8 165.9,227.5 167.4,233.1 168.8,238.4 170.3,242.3 171.7,246.1 173.2,250 174.7,251.3 176.1,252.6 177.6,254 179,254.1 180.5,254.1 181.7,254.1 184.6,254.1 187.5,254.1 190.4,254.1 193.3,254.1 196.2,254.1 199.2,254.1 202.1,254.1 205,254.1 207.9,254.1 210.8,254.1 213.7,254.1 216.6,254.1 219.6,254.1 222.5,254.1 225.4,254.1 228.3,254.1" stroke="#e03c3c" stroke-width="0.95" />
<polyline points="53.4,254 56.3,251.2 56.9,250.7 59.2,250.6 62.1,250.5 65.1,250.4 68,250.3 70.9,250.3 73.8,250.2 76.7,250.1 79.6,250 82.5,249.9 85.5,249.8 88.4,249.7 91.3,249.6 94.2,249.5 97.1,249.5 100,249.4 103,249.3 105.9,249.2 108.8,249.1 111.7,249 114.6,248.9 117.5,248.8 120.4,248.8 123.4,248.7 126.3,248.6 129.2,248.5 132.1,248.4 135,248.3 137.9,248.2 139.4,248.2 140.8,247.2 142.3,246.2 143.8,243 145.2,236.6 146.7,230.1 148.1,223.8 149.6,217.4 151.1,211.2 152.5,205.1 154,199.2 155.4,193.5 156.9,199.6 158.3,205.8 159.8,211.8 161.3,217.6 162.7,223.2 164.2,228.6 165.6,234 167.1,239.1 168.5,242.8 170,246.5 171.5,250.1 172.9,251.4 174.4,252.7 175.8,254 177.3,254.1 178.7,254.1 181.7,254.1 184.6,254.1 187.5,254.1 190.4,254.1 193.3,254.1 196.2,254.1 199.2,254.1 202.1,254.1 205,254.1 207.9,254.1 210.8,254.1 213.7,254.1 216.6,254.1 219.6,254.1 222.5,254.1 225.4,254.1 228.3,254.1" stroke="#f06060" stroke-width="0.95" />
<polyline points="53.4,254 56.3,251.2 56.9,250.7 59.2,250.6 62.1,250.5 65.1,250.4 68,250.3 70.9,250.3 73.8,250.2 76.7,250.1 79.6,250 82.5,249.9 85.5,249.8 88.4,249.7 91.3,249.6 94.2,249.5 97.1,249.5 100,249.4 103,249.3 105.9,249.2 108.8,249.1 111.7,249 114.6,248.9 117.5,248.8 120.4,248.8 123.4,248.7 126.3,248.6 129.2,248.5 132.1,248.4 135,248.3 137.9,248.2 140.8,248.1 142.3,248.1 143.8,247.2 145.2,246.2 146.7,243.2 148.1,237.1 149.6,231.1 151.1,225 152.5,219.1 154,213.2 155.4,207.4 156.9,201.9 158.3,196.6 159.8,202.4 161.3,208.3 162.7,214.1 164.2,219.6 165.6,224.9 167.1,230 168.5,235.1 170,239.9 171.5,243.4 172.9,246.9 174.4,250.4 175.8,251.6 177.3,252.8 178.7,254 180.2,254.1 181.7,254.1 184.6,254.1 187.5,254.1 190.4,254.1 193.3,254.1 196.2,254.1 199.2,254.1 202.1,254.1 205,254.1 207.9,254.1 210.8,254.1 213.7,254.1 216.6,254.1 219.6,254.1 222.5,254.1 225.4,254.1 228.3,254.1" stroke="#4848b0" stroke-width="0.95" />
<polyline points="53.4,254 56.3,251.2 56.9,250.7 59.2,250.6 62.1,250.5 65.1,250.4 68,250.3 70.9,250.3 73.8,250.2 76.7,250.1 79.6,250 82.5,249.9 85.5,249.8 88.4,249.7 91.3,249.6 94.2,249.5 97.1,249.5 100,249.4 103,249.3 105.9,249.2 108.8,249.1 111.7,249 114.6,248.9 117.5,248.8 120.4,248.8 123.4,248.7 126.3,248.6 129.2,248.5 132.1,248.4 135,248.3 137.9,248.2 140.8,248.1 142,248.1 143.5,248.1 144.9,247.2 146.4,246.2 147.8,243.3 149.3,237.5 150.8,231.6 152.2,225.8 153.7,220.1 155.1,214.4 156.6,208.9 158,203.5 159.5,198.5 161,204.1 162.4,209.8 163.9,215.4 165.3,220.8 166.8,225.9 168.3,230.9 169.7,235.8 171.2,240.4 172.6,243.8 174.1,247.2 175.5,250.5 177,251.7 178.5,252.8 179.9,254 181.4,254.1 182.8,254.1 184.6,254.1 187.5,254.1 190.4,254.1 193.3,254.1 196.2,254.1 199.2,254.1 202.1,254.1 205,254.1 207.9,254.1 210.8,254.1 213.7,254.1 216.6,254.1 219.6,254.1 222.5,254.1 225.4,254.1 228.3,254.1" stroke="#28288f" stroke-width="0.95" />
<line x1="53.4" y1="253.1" x2="228.3" y2="253.1" stroke="#c4c4c4" stroke-width="1.1"/>
<line x1="53.4" y1="253.8" x2="228.3" y2="253.8" stroke="#c4c4c4" stroke-width="1.1"/>
<line x1="53.4" y1="254.6" x2="228.3" y2="254.6" stroke="#c4c4c4" stroke-width="1.1"/>
<line x1="53.4" y1="255.4" x2="228.3" y2="255.4" stroke="#c4c4c4" stroke-width="1.1"/>
<rect x="45.3" y="179.5" width="191.1" height="77.3" fill="none" stroke="#333" stroke-width="0.8"/>
<path d="M47.6,256.3v1.5M47.6,179.2v1.3M59.2,256.3v1.5M59.2,179.2v1.3M65.1,256.3v1.5M65.1,179.2v1.3M70.9,256.3v1.5M70.9,179.2v1.3M76.7,256.3v1.5M76.7,179.2v1.3M88.4,256.3v1.5M88.4,179.2v1.3M94.2,256.3v1.5M94.2,179.2v1.3M100,256.3v1.5M100,179.2v1.3M105.9,256.3v1.5M105.9,179.2v1.3M117.5,256.3v1.5M117.5,179.2v1.3M123.4,256.3v1.5M123.4,179.2v1.3M129.2,256.3v1.5M129.2,179.2v1.3M135,256.3v1.5M135,179.2v1.3M146.7,256.3v1.5M146.7,179.2v1.3M152.5,256.3v1.5M152.5,179.2v1.3M158.3,256.3v1.5M158.3,179.2v1.3M164.2,256.3v1.5M164.2,179.2v1.3M175.8,256.3v1.5M175.8,179.2v1.3M181.7,256.3v1.5M181.7,179.2v1.3M187.5,256.3v1.5M187.5,179.2v1.3M193.3,256.3v1.5M193.3,179.2v1.3M205,256.3v1.5M205,179.2v1.3M210.8,256.3v1.5M210.8,179.2v1.3M216.6,256.3v1.5M216.6,179.2v1.3M222.5,256.3v1.5M222.5,179.2v1.3M234.1,256.3v1.5M234.1,179.2v1.3M53.4,255.8v2.4M53.4,178.7v2.2M82.5,255.8v2.4M82.5,178.7v2.2M111.7,255.8v2.4M111.7,178.7v2.2M140.8,255.8v2.4M140.8,178.7v2.2M170,255.8v2.4M170,178.7v2.2M199.2,255.8v2.4M199.2,178.7v2.2M228.3,255.8v2.4M228.3,178.7v2.2M44.699999999999996,252.1h1.4M235.6,252.1h1.5M44.699999999999996,249.5h1.4M235.6,249.5h1.5M44.699999999999996,247h1.4M235.6,247h1.5M44.699999999999996,244.5h1.4M235.6,244.5h1.5M44.699999999999996,239.4h1.4M235.6,239.4h1.5M44.699999999999996,236.9h1.4M235.6,236.9h1.5M44.699999999999996,234.4h1.4M235.6,234.4h1.5M44.699999999999996,231.8h1.4M235.6,231.8h1.5M44.699999999999996,226.8h1.4M235.6,226.8h1.5M44.699999999999996,224.3h1.4M235.6,224.3h1.5M44.699999999999996,221.7h1.4M235.6,221.7h1.5M44.699999999999996,219.2h1.4M235.6,219.2h1.5M44.699999999999996,214.2h1.4M235.6,214.2h1.5M44.699999999999996,211.6h1.4M235.6,211.6h1.5M44.699999999999996,209.1h1.4M235.6,209.1h1.5M44.699999999999996,206.6h1.4M235.6,206.6h1.5M44.699999999999996,201.5h1.4M235.6,201.5h1.5M44.699999999999996,199h1.4M235.6,199h1.5M44.699999999999996,196.5h1.4M235.6,196.5h1.5M44.699999999999996,193.9h1.4M235.6,193.9h1.5M44.699999999999996,188.9h1.4M235.6,188.9h1.5M44.699999999999996,186.3h1.4M235.6,186.3h1.5M44.699999999999996,183.8h1.4M235.6,183.8h1.5M44.699999999999996,181.3h1.4M235.6,181.3h1.5M43.9,254.6h2.4M235.4,254.6h2.4M43.9,242h2.4M235.4,242h2.4M43.9,229.3h2.4M235.4,229.3h2.4M43.9,216.7h2.4M235.4,216.7h2.4M43.9,204h2.4M235.4,204h2.4M43.9,191.4h2.4M235.4,191.4h2.4" stroke="#333" stroke-width="0.7"/>
<text x="53.4" y="263.8" font-size="4.3" text-anchor="middle" fill="#222" stroke="#222" stroke-width="0.18">65</text>
<text x="82.5" y="263.8" font-size="4.3" text-anchor="middle" fill="#222" stroke="#222" stroke-width="0.18">70</text>
<text x="111.7" y="263.8" font-size="4.3" text-anchor="middle" fill="#222" stroke="#222" stroke-width="0.18">75</text>
<text x="140.8" y="263.8" font-size="4.3" text-anchor="middle" fill="#222" stroke="#222" stroke-width="0.18">80</text>
<text x="170" y="263.8" font-size="4.3" text-anchor="middle" fill="#222" stroke="#222" stroke-width="0.18">85</text>
<text x="199.2" y="263.8" font-size="4.3" text-anchor="middle" fill="#222" stroke="#222" stroke-width="0.18">90</text>
<text x="228.3" y="263.8" font-size="4.3" text-anchor="middle" fill="#222" stroke="#222" stroke-width="0.18">95</text>
<text x="42.1" y="256.2" font-size="4.3" text-anchor="end" fill="#222" stroke="#222" stroke-width="0.18">0</text>
<text x="42.1" y="243.6" font-size="4.3" text-anchor="end" fill="#222" stroke="#222" stroke-width="0.18">100</text>
<text x="42.1" y="230.9" font-size="4.3" text-anchor="end" fill="#222" stroke="#222" stroke-width="0.18">200</text>
<text x="42.1" y="218.3" font-size="4.3" text-anchor="end" fill="#222" stroke="#222" stroke-width="0.18">300</text>
<text x="42.1" y="205.6" font-size="4.3" text-anchor="end" fill="#222" stroke="#222" stroke-width="0.18">400</text>
<text x="42.1" y="193" font-size="4.3" text-anchor="end" fill="#222" stroke="#222" stroke-width="0.18">500</text>
<text x="133" y="175.2" font-size="4.7" text-anchor="middle" font-weight="bold" fill="#111" stroke="#111" stroke-width="0.12">Melt Peak</text>
<text x="140.8" y="271.6" font-size="4.8" text-anchor="middle" font-weight="bold" fill="#111" stroke="#111" stroke-width="0.12">Temperature, Celsius</text>
<text transform="translate(30.9,216.2) rotate(-90)" font-size="4.4" font-weight="bold" text-anchor="middle" fill="#222" stroke="#222" stroke-width="0.15" textLength="22" lengthAdjust="spacingAndGlyphs">-d(RFU)/dT</text>
<line x1="276.8" y1="235.2" x2="451.7" y2="235.2" stroke="#a0d8a0" stroke-width="1.3"/>
<polyline points="276.8,253.6 279.7,250.3 280.3,249.6 282.6,249.6 285.5,249.5 288.5,249.4 291.4,249.3 294.3,249.2 297.2,249.1 300.1,249 303,249 305.9,248.9 308.9,248.8 311.8,248.7 314.7,248.6 317.6,248.5 320.5,248.4 323.4,248.3 326.4,248.3 329.3,248.2 332.2,248.1 335.1,248 338,247.9 340.9,247.8 343.8,247.7 346.8,247.6 349.7,247.5 352.6,247.5 355.5,247.4 358.4,247.3 361.3,247.2 363.7,247.1 365.1,247.1 366.6,246.1 368,245.1 369.5,241.9 371,235.6 372.4,229.3 373.9,222.9 375.3,216.7 376.8,210.5 378.2,204.5 379.7,198.8 381.2,193.3 382.6,199.4 384.1,205.6 385.5,211.7 387,217.5 388.4,223.1 389.9,228.5 391.4,233.8 392.8,238.9 394.3,242.5 395.7,246.2 397.2,249.8 398.6,251.1 400.1,252.3 401.6,253.6 403,253.7 404.5,253.7 405.1,253.7 408,253.7 410.9,253.7 413.8,253.7 416.7,253.7 419.6,253.7 422.6,253.7 425.5,253.7 428.4,253.7 431.3,253.7 434.2,253.7 437.1,253.7 440,253.7 443,253.7 445.9,253.7 448.8,253.7 451.7,253.7" stroke="#3c90e8" stroke-width="0.95" />
<polyline points="276.8,253.6 279.7,250.3 280.3,249.6 282.6,249.6 285.5,249.5 288.5,249.4 291.4,249.3 294.3,249.2 297.2,249.1 300.1,249 303,249 305.9,248.9 308.9,248.8 311.8,248.7 314.7,248.6 317.6,248.5 320.5,248.4 323.4,248.3 326.4,248.3 329.3,248.2 332.2,248.1 335.1,248 338,247.9 340.9,247.8 343.8,247.7 346.8,247.6 349.7,247.5 352.6,247.5 355.5,247.4 358.4,247.3 361.3,247.2 363.1,247.1 364.5,247.1 366,246.1 367.5,245.1 368.9,241.8 370.4,235.3 371.8,228.9 373.3,222.4 374.7,216 376.2,209.7 377.7,203.6 379.1,197.7 380.6,192 382,198.3 383.5,204.6 384.9,210.8 386.4,216.7 387.9,222.4 389.3,227.9 390.8,233.3 392.2,238.5 393.7,242.3 395.1,246 396.6,249.7 398.1,251 399.5,252.3 401,253.6 402.4,253.7 403.9,253.7 405.1,253.7 408,253.7 410.9,253.7 413.8,253.7 416.7,253.7 419.6,253.7 422.6,253.7 425.5,253.7 428.4,253.7 431.3,253.7 434.2,253.7 437.1,253.7 440,253.7 443,253.7 445.9,253.7 448.8,253.7 451.7,253.7" stroke="#78b4f0" stroke-width="0.95" />
<polyline points="276.8,253.6 279.7,250.3 280.3,249.6 282.6,249.6 285.5,249.5 288.5,249.4 291.4,249.3 294.3,249.2 297.2,249.1 300.1,249 303,249 305.9,248.9 308.9,248.8 311.8,248.7 314.7,248.6 317.6,248.5 320.5,248.4 323.4,248.3 326.4,248.3 329.3,248.2 332.2,248.1 335.1,248 338,247.9 340.9,247.8 343.8,247.7 346.8,247.6 349.7,247.5 352.6,247.5 355.5,247.4 358.4,247.3 361.3,247.2 361.9,247.2 363.4,247.1 364.8,246.1 366.3,245.1 367.7,241.8 369.2,235.1 370.7,228.5 372.1,221.9 373.6,215.4 375,208.9 376.5,202.6 378,196.6 379.4,190.8 380.9,197.1 382.3,203.6 383.8,209.9 385.2,215.9 386.7,221.7 388.2,227.4 389.6,232.9 391.1,238.2 392.5,242 394,245.8 395.4,249.6 396.9,250.9 398.4,252.3 399.8,253.6 401.3,253.7 402.7,253.7 405.1,253.7 408,253.7 410.9,253.7 413.8,253.7 416.7,253.7 419.6,253.7 422.6,253.7 425.5,253.7 428.4,253.7 431.3,253.7 434.2,253.7 437.1,253.7 440,253.7 443,253.7 445.9,253.7 448.8,253.7 451.7,253.7" stroke="#905868" stroke-width="0.95" />
<polyline points="276.8,253.6 279.7,250.3 280.3,249.6 282.6,249.6 285.5,249.5 288.5,249.4 291.4,249.3 294.3,249.2 297.2,249.1 300.1,249 303,249 305.9,248.9 308.9,248.8 311.8,248.7 314.7,248.6 317.6,248.5 320.5,248.4 323.4,248.3 326.4,248.3 329.3,248.2 332.2,248.1 335.1,248 338,247.9 340.9,247.8 343.8,247.7 346.8,247.6 349.7,247.5 352.6,247.5 355.5,247.4 358.4,247.3 360.8,247.2 362.2,247.2 363.7,246.1 365.1,245 366.6,241.7 368,234.9 369.5,228.1 371,221.4 372.4,214.7 373.9,208.1 375.3,201.7 376.8,195.5 378.2,189.5 379.7,196 381.2,202.6 382.6,209 384.1,215.1 385.5,221 387,226.8 388.4,232.4 389.9,237.9 391.4,241.8 392.8,245.6 394.3,249.5 395.7,250.9 397.2,252.2 398.6,253.6 400.1,253.7 401.6,253.7 402.1,253.7 405.1,253.7 408,253.7 410.9,253.7 413.8,253.7 416.7,253.7 419.6,253.7 422.6,253.7 425.5,253.7 428.4,253.7 431.3,253.7 434.2,253.7 437.1,253.7 440,253.7 443,253.7 445.9,253.7 448.8,253.7 451.7,253.7" stroke="#383050" stroke-width="0.95" />
<polyline points="276.8,253.6 279.7,250.3 280.3,249.6 282.6,249.6 285.5,249.5 288.5,249.4 291.4,249.3 294.3,249.2 297.2,249.1 300.1,249 303,249 305.9,248.9 308.9,248.8 311.8,248.7 314.7,248.6 317.6,248.5 320.5,248.4 323.4,248.3 326.4,248.3 329.3,248.2 332.2,248.1 335.1,248 338,247.9 340.9,247.8 343.8,247.7 346.8,247.6 349.7,247.5 352.6,247.5 355.5,247.4 358.4,247.3 360.2,247.2 361.6,247.2 363.1,246.1 364.5,245 366,241.5 367.5,234.5 368.9,227.5 370.4,220.6 371.8,213.7 373.3,206.9 374.7,200.2 376.2,193.8 377.7,187.6 379.1,194.3 380.6,201 382,207.6 383.5,213.9 384.9,220 386.4,225.9 387.9,231.8 389.3,237.4 390.8,241.4 392.2,245.4 393.7,249.4 395.1,250.8 396.6,252.2 398.1,253.6 399.5,253.7 401,253.7 402.1,253.7 405.1,253.7 408,253.7 410.9,253.7 413.8,253.7 416.7,253.7 419.6,253.7 422.6,253.7 425.5,253.7 428.4,253.7 431.3,253.7 434.2,253.7 437.1,253.7 440,253.7 443,253.7 445.9,253.7 448.8,253.7 451.7,253.7" stroke="#e02030" stroke-width="0.95" />
<polyline points="276.8,253.6 279.7,250.3 280.3,249.6 282.6,249.6 285.5,249.5 288.5,249.4 291.4,249.3 294.3,249.2 297.2,249.1 300.1,249 303,249 305.9,248.9 308.9,248.8 311.8,248.7 314.7,248.6 317.6,248.5 320.5,248.4 323.4,248.3 326.4,248.3 329.3,248.2 332.2,248.1 335.1,248 338,247.9 340.9,247.8 343.8,247.7 346.8,247.6 349.7,247.5 352.6,247.5 355.5,247.4 358.4,247.3 360.2,247.2 361.6,247.2 363.1,246.2 364.5,245 366,241.6 367.5,234.8 368.9,227.9 370.4,221.1 371.8,214.4 373.3,207.7 374.7,201.2 376.2,194.9 377.7,188.9 379.1,195.4 380.6,202 382,208.5 383.5,214.7 384.9,220.7 386.4,226.5 387.9,232.2 389.3,237.7 390.8,241.6 392.2,245.6 393.7,249.5 395.1,250.8 396.6,252.2 398.1,253.6 399.5,253.7 401,253.7 402.1,253.7 405.1,253.7 408,253.7 410.9,253.7 413.8,253.7 416.7,253.7 419.6,253.7 422.6,253.7 425.5,253.7 428.4,253.7 431.3,253.7 434.2,253.7 437.1,253.7 440,253.7 443,253.7 445.9,253.7 448.8,253.7 451.7,253.7" stroke="#f06070" stroke-width="0.95" />
<polyline points="276.8,253.6 279.7,250.3 280.3,249.6 282.6,249.6 285.5,249.5 288.5,249.4 291.4,249.3 294.3,249.2 297.2,249.1 300.1,249 303,249 305.9,248.9 308.9,248.8 311.8,248.7 314.7,248.6 317.6,248.5 320.5,248.4 323.4,248.3 326.4,248.3 329.3,248.2 332.2,248.1 335.1,248 338,247.9 340.9,247.8 343.8,247.7 346.8,247.6 349.7,247.5 352.6,247.5 355.5,247.4 358.4,247.3 359,247.3 360.5,247.2 361.9,246.1 363.4,245 364.8,241.3 366.3,234 367.7,226.8 369.2,219.5 370.7,212.4 372.1,205.3 373.6,198.3 375,191.6 376.5,185.1 378,192 379.4,199 380.9,205.8 382.3,212.3 383.8,218.7 385.2,224.8 386.7,230.9 388.2,236.7 389.6,240.9 391.1,245.1 392.5,249.2 394,250.7 395.4,252.1 396.9,253.6 398.4,253.7 399.8,253.7 402.1,253.7 405.1,253.7 408,253.7 410.9,253.7 413.8,253.7 416.7,253.7 419.6,253.7 422.6,253.7 425.5,253.7 428.4,253.7 431.3,253.7 434.2,253.7 437.1,253.7 440,253.7 443,253.7 445.9,253.7 448.8,253.7 451.7,253.7" stroke="#202020" stroke-width="0.95" />
<polyline points="276.8,253.6 279.7,250.3 280.3,249.6 282.6,249.6 285.5,249.5 288.5,249.4 291.4,249.3 294.3,249.2 297.2,249.1 300.1,249 303,249 305.9,248.9 308.9,248.8 311.8,248.7 314.7,248.6 317.6,248.5 320.5,248.4 323.4,248.3 326.4,248.3 329.3,248.2 332.2,248.1 335.1,248 338,247.9 340.9,247.8 343.8,247.7 346.8,247.6 349.7,247.5 352.6,247.5 355.5,247.4 358.4,247.3 359.9,247.2 361.3,246.1 362.8,244.9 364.2,241.2 365.7,233.7 367.2,226.2 368.6,218.7 370.1,211.3 371.5,204 373,196.9 374.5,189.9 375.9,183.2 377.4,190.3 378.8,197.4 380.3,204.4 381.7,211.1 383.2,217.6 384.7,224 386.1,230.2 387.6,236.2 389,240.5 390.5,244.8 391.9,249.1 393.4,250.6 394.9,252.1 396.3,253.6 397.8,253.7 399.2,253.7 402.1,253.7 405.1,253.7 408,253.7 410.9,253.7 413.8,253.7 416.7,253.7 419.6,253.7 422.6,253.7 425.5,253.7 428.4,253.7 431.3,253.7 434.2,253.7 437.1,253.7 440,253.7 443,253.7 445.9,253.7 448.8,253.7 451.7,253.7" stroke="#080808" stroke-width="0.95" />
<polyline points="276.8,252.4 279.7,252.5 282.6,252.5 285.5,252.5 288.5,252.5 291.4,252.5 294.3,252.5 297.2,252.5 300.1,252.5 303,252.5 305.9,252.5 308.9,252.5 311.8,252.6 314.7,252.6 317.6,252.6 320.5,252.6 323.4,252.7 326.4,252.7 329.3,252.7 332.2,252.8 335.1,252.8 338,252.9 340.9,253 343.8,253 346.8,253.1 349.7,253.2 352.6,253.3 355.5,253.4 358.4,253.5 361.3,253.6 364.2,253.7 367.2,253.8 370.1,253.9 373,254 375.9,254.1 378.8,254.2 381.7,254.3 384.7,254.4 387.6,254.4 390.5,254.5 393.4,254.6 396.3,254.6 399.2,254.7 402.1,254.7 405.1,254.7 408,254.8 410.9,254.8 413.8,254.8 416.7,254.8 419.6,254.9 422.6,254.9 425.5,254.9 428.4,254.9 431.3,254.9 434.2,254.9 437.1,254.9 440,254.9 443,254.9 445.9,254.9 448.8,254.9 451.7,254.9" stroke="#111" stroke-width="0.8" />
<path d="M276.1,251.7l1.5,1.5M276.1,253.2l1.5,-1.5M278.9,251.7l1.5,1.5M278.9,253.2l1.5,-1.5M281.9,251.7l1.5,1.5M281.9,253.2l1.5,-1.5M284.8,251.7l1.5,1.5M284.8,253.2l1.5,-1.5M287.8,251.7l1.5,1.5M287.8,253.2l1.5,-1.5M290.6,251.7l1.5,1.5M290.6,253.2l1.5,-1.5M293.6,251.7l1.5,1.5M293.6,253.2l1.5,-1.5M296.4,251.7l1.5,1.5M296.4,253.2l1.5,-1.5M299.4,251.7l1.5,1.5M299.4,253.2l1.5,-1.5M302.2,251.8l1.5,1.5M302.2,253.3l1.5,-1.5M305.1,251.8l1.5,1.5M305.1,253.3l1.5,-1.5M308.1,251.8l1.5,1.5M308.1,253.3l1.5,-1.5M311.1,251.8l1.5,1.5M311.1,253.3l1.5,-1.5M313.9,251.8l1.5,1.5M313.9,253.3l1.5,-1.5M316.9,251.8l1.5,1.5M316.9,253.3l1.5,-1.5M319.8,251.9l1.5,1.5M319.8,253.4l1.5,-1.5M322.6,251.9l1.5,1.5M322.6,253.4l1.5,-1.5M325.6,251.9l1.5,1.5M325.6,253.4l1.5,-1.5M328.6,252l1.5,1.5M328.6,253.5l1.5,-1.5M331.4,252l1.5,1.5M331.4,253.5l1.5,-1.5M334.4,252.1l1.5,1.5M334.4,253.6l1.5,-1.5M337.2,252.1l1.5,1.5M337.2,253.6l1.5,-1.5M340.1,252.2l1.5,1.5M340.1,253.7l1.5,-1.5M343.1,252.3l1.5,1.5M343.1,253.8l1.5,-1.5M346.1,252.4l1.5,1.5M346.1,253.9l1.5,-1.5M348.9,252.4l1.5,1.5M348.9,253.9l1.5,-1.5M351.9,252.5l1.5,1.5M351.9,254l1.5,-1.5M354.8,252.6l1.5,1.5M354.8,254.1l1.5,-1.5M357.6,252.7l1.5,1.5M357.6,254.2l1.5,-1.5M360.6,252.8l1.5,1.5M360.6,254.3l1.5,-1.5M363.4,252.9l1.5,1.5M363.4,254.4l1.5,-1.5M366.4,253l1.5,1.5M366.4,254.5l1.5,-1.5M369.4,253.2l1.5,1.5M369.4,254.7l1.5,-1.5M372.2,253.3l1.5,1.5M372.2,254.8l1.5,-1.5M375.1,253.4l1.5,1.5M375.1,254.9l1.5,-1.5M378.1,253.4l1.5,1.5M378.1,254.9l1.5,-1.5M380.9,253.5l1.5,1.5M380.9,255l1.5,-1.5M383.9,253.6l1.5,1.5M383.9,255.1l1.5,-1.5M386.9,253.7l1.5,1.5M386.9,255.2l1.5,-1.5M389.8,253.7l1.5,1.5M389.8,255.2l1.5,-1.5M392.6,253.8l1.5,1.5M392.6,255.3l1.5,-1.5M395.6,253.9l1.5,1.5M395.6,255.4l1.5,-1.5M398.4,253.9l1.5,1.5M398.4,255.4l1.5,-1.5M401.4,253.9l1.5,1.5M401.4,255.4l1.5,-1.5M404.4,254l1.5,1.5M404.4,255.5l1.5,-1.5M407.2,254l1.5,1.5M407.2,255.5l1.5,-1.5M410.1,254l1.5,1.5M410.1,255.5l1.5,-1.5M413.1,254.1l1.5,1.5M413.1,255.6l1.5,-1.5M415.9,254.1l1.5,1.5M415.9,255.6l1.5,-1.5M418.9,254.1l1.5,1.5M418.9,255.6l1.5,-1.5M421.9,254.1l1.5,1.5M421.9,255.6l1.5,-1.5M424.8,254.1l1.5,1.5M424.8,255.6l1.5,-1.5M427.6,254.1l1.5,1.5M427.6,255.6l1.5,-1.5M430.6,254.2l1.5,1.5M430.6,255.7l1.5,-1.5M433.4,254.2l1.5,1.5M433.4,255.7l1.5,-1.5M436.4,254.2l1.5,1.5M436.4,255.7l1.5,-1.5M439.2,254.2l1.5,1.5M439.2,255.7l1.5,-1.5M442.2,254.2l1.5,1.5M442.2,255.7l1.5,-1.5M445.1,254.2l1.5,1.5M445.1,255.7l1.5,-1.5M448.1,254.2l1.5,1.5M448.1,255.7l1.5,-1.5M450.9,254.2l1.5,1.5M450.9,255.7l1.5,-1.5" stroke="#111" stroke-width="0.4"/>
<polyline points="276.8,253.6 279.7,253.6 282.6,253.6 285.5,253.6 288.5,253.6 291.4,253.6 294.3,253.6 297.2,253.6 300.1,253.6 303,253.6 305.9,253.6 308.9,253.6 311.8,253.7 314.7,253.7 317.6,253.7 320.5,253.7 323.4,253.7 326.4,253.7 329.3,253.8 332.2,253.8 335.1,253.8 338,253.9 340.9,253.9 343.8,254 346.8,254 349.7,254.1 352.6,254.2 355.5,254.2 358.4,254.3 361.3,254.4 364.2,254.5 367.2,254.5 370.1,254.6 373,254.7 375.9,254.7 378.8,254.8 381.7,254.9 384.7,254.9 387.6,255 390.5,255 393.4,255.1 396.3,255.1 399.2,255.1 402.1,255.2 405.1,255.2 408,255.2 410.9,255.2 413.8,255.2 416.7,255.3 419.6,255.3 422.6,255.3 425.5,255.3 428.4,255.3 431.3,255.3 434.2,255.3 437.1,255.3 440,255.3 443,255.3 445.9,255.3 448.8,255.3 451.7,255.3" stroke="#111" stroke-width="0.8" />
<path d="M276.1,252.8h1.5v1.5h-1.5zM278.9,252.8h1.5v1.5h-1.5zM281.9,252.8h1.5v1.5h-1.5zM284.8,252.8h1.5v1.5h-1.5zM287.8,252.8h1.5v1.5h-1.5zM290.6,252.8h1.5v1.5h-1.5zM293.6,252.8h1.5v1.5h-1.5zM296.4,252.9h1.5v1.5h-1.5zM299.4,252.9h1.5v1.5h-1.5zM302.2,252.9h1.5v1.5h-1.5zM305.1,252.9h1.5v1.5h-1.5zM308.1,252.9h1.5v1.5h-1.5zM311.1,252.9h1.5v1.5h-1.5zM313.9,252.9h1.5v1.5h-1.5zM316.9,252.9h1.5v1.5h-1.5zM319.8,253h1.5v1.5h-1.5zM322.6,253h1.5v1.5h-1.5zM325.6,253h1.5v1.5h-1.5zM328.6,253h1.5v1.5h-1.5zM331.4,253.1h1.5v1.5h-1.5zM334.4,253.1h1.5v1.5h-1.5zM337.2,253.1h1.5v1.5h-1.5zM340.1,253.2h1.5v1.5h-1.5zM343.1,253.2h1.5v1.5h-1.5zM346.1,253.3h1.5v1.5h-1.5zM348.9,253.4h1.5v1.5h-1.5zM351.9,253.4h1.5v1.5h-1.5zM354.8,253.5h1.5v1.5h-1.5zM357.6,253.6h1.5v1.5h-1.5zM360.6,253.6h1.5v1.5h-1.5zM363.4,253.7h1.5v1.5h-1.5zM366.4,253.8h1.5v1.5h-1.5zM369.4,253.8h1.5v1.5h-1.5zM372.2,253.9h1.5v1.5h-1.5zM375.1,254h1.5v1.5h-1.5zM378.1,254.1h1.5v1.5h-1.5zM380.9,254.1h1.5v1.5h-1.5zM383.9,254.2h1.5v1.5h-1.5zM386.9,254.2h1.5v1.5h-1.5zM389.8,254.3h1.5v1.5h-1.5zM392.6,254.3h1.5v1.5h-1.5zM395.6,254.3h1.5v1.5h-1.5zM398.4,254.4h1.5v1.5h-1.5zM401.4,254.4h1.5v1.5h-1.5zM404.4,254.4h1.5v1.5h-1.5zM407.2,254.5h1.5v1.5h-1.5zM410.1,254.5h1.5v1.5h-1.5zM413.1,254.5h1.5v1.5h-1.5zM415.9,254.5h1.5v1.5h-1.5zM418.9,254.5h1.5v1.5h-1.5zM421.9,254.5h1.5v1.5h-1.5zM424.8,254.5h1.5v1.5h-1.5zM427.6,254.5h1.5v1.5h-1.5zM430.6,254.6h1.5v1.5h-1.5zM433.4,254.6h1.5v1.5h-1.5zM436.4,254.6h1.5v1.5h-1.5zM439.2,254.6h1.5v1.5h-1.5zM442.2,254.6h1.5v1.5h-1.5zM445.1,254.6h1.5v1.5h-1.5zM448.1,254.6h1.5v1.5h-1.5zM450.9,254.6h1.5v1.5h-1.5z" stroke="#111" stroke-width="0.4"/>
<polyline points="276.8,254.7 279.7,254.7 282.6,254.7 285.5,254.7 288.5,254.7 291.4,254.7 294.3,254.7 297.2,254.7 300.1,254.7 303,254.7 305.9,254.7 308.9,254.7 311.8,254.8 314.7,254.8 317.6,254.8 320.5,254.8 323.4,254.8 326.4,254.8 329.3,254.8 332.2,254.8 335.1,254.9 338,254.9 340.9,254.9 343.8,254.9 346.8,255 349.7,255 352.6,255 355.5,255.1 358.4,255.1 361.3,255.2 364.2,255.2 367.2,255.3 370.1,255.3 373,255.3 375.9,255.4 378.8,255.4 381.7,255.4 384.7,255.5 387.6,255.5 390.5,255.5 393.4,255.6 396.3,255.6 399.2,255.6 402.1,255.6 405.1,255.6 408,255.6 410.9,255.7 413.8,255.7 416.7,255.7 419.6,255.7 422.6,255.7 425.5,255.7 428.4,255.7 431.3,255.7 434.2,255.7 437.1,255.7 440,255.7 443,255.7 445.9,255.7 448.8,255.7 451.7,255.7" stroke="#111" stroke-width="0.8" />
<path d="M276.8,253.7l1,1l-1,1l-1,-1zM279.7,253.7l1,1l-1,1l-1,-1zM282.6,253.7l1,1l-1,1l-1,-1zM285.5,253.7l1,1l-1,1l-1,-1zM288.5,253.7l1,1l-1,1l-1,-1zM291.4,253.7l1,1l-1,1l-1,-1zM294.3,253.7l1,1l-1,1l-1,-1zM297.2,253.7l1,1l-1,1l-1,-1zM300.1,253.7l1,1l-1,1l-1,-1zM303,253.7l1,1l-1,1l-1,-1zM305.9,253.7l1,1l-1,1l-1,-1zM308.9,253.7l1,1l-1,1l-1,-1zM311.8,253.7l1,1l-1,1l-1,-1zM314.7,253.7l1,1l-1,1l-1,-1zM317.6,253.8l1,1l-1,1l-1,-1zM320.5,253.8l1,1l-1,1l-1,-1zM323.4,253.8l1,1l-1,1l-1,-1zM326.4,253.8l1,1l-1,1l-1,-1zM329.3,253.8l1,1l-1,1l-1,-1zM332.2,253.8l1,1l-1,1l-1,-1zM335.1,253.9l1,1l-1,1l-1,-1zM338,253.9l1,1l-1,1l-1,-1zM340.9,253.9l1,1l-1,1l-1,-1zM343.8,253.9l1,1l-1,1l-1,-1zM346.8,254l1,1l-1,1l-1,-1zM349.7,254l1,1l-1,1l-1,-1zM352.6,254l1,1l-1,1l-1,-1zM355.5,254.1l1,1l-1,1l-1,-1zM358.4,254.1l1,1l-1,1l-1,-1zM361.3,254.2l1,1l-1,1l-1,-1zM364.2,254.2l1,1l-1,1l-1,-1zM367.2,254.2l1,1l-1,1l-1,-1zM370.1,254.3l1,1l-1,1l-1,-1zM373,254.3l1,1l-1,1l-1,-1zM375.9,254.4l1,1l-1,1l-1,-1zM378.8,254.4l1,1l-1,1l-1,-1zM381.7,254.4l1,1l-1,1l-1,-1zM384.7,254.5l1,1l-1,1l-1,-1zM387.6,254.5l1,1l-1,1l-1,-1zM390.5,254.5l1,1l-1,1l-1,-1zM393.4,254.5l1,1l-1,1l-1,-1zM396.3,254.6l1,1l-1,1l-1,-1zM399.2,254.6l1,1l-1,1l-1,-1zM402.1,254.6l1,1l-1,1l-1,-1zM405.1,254.6l1,1l-1,1l-1,-1zM408,254.6l1,1l-1,1l-1,-1zM410.9,254.6l1,1l-1,1l-1,-1zM413.8,254.6l1,1l-1,1l-1,-1zM416.7,254.7l1,1l-1,1l-1,-1zM419.6,254.7l1,1l-1,1l-1,-1zM422.6,254.7l1,1l-1,1l-1,-1zM425.5,254.7l1,1l-1,1l-1,-1zM428.4,254.7l1,1l-1,1l-1,-1zM431.3,254.7l1,1l-1,1l-1,-1zM434.2,254.7l1,1l-1,1l-1,-1zM437.1,254.7l1,1l-1,1l-1,-1zM440,254.7l1,1l-1,1l-1,-1zM443,254.7l1,1l-1,1l-1,-1zM445.9,254.7l1,1l-1,1l-1,-1zM448.8,254.7l1,1l-1,1l-1,-1zM451.7,254.7l1,1l-1,1l-1,-1z" stroke="#111" stroke-width="0.4"/>
<polyline points="276.8,255.8 279.7,255.8 282.6,255.8 285.5,255.8 288.5,255.8 291.4,255.8 294.3,255.8 297.2,255.8 300.1,255.8 303,255.9 305.9,255.9 308.9,255.9 311.8,255.9 314.7,255.9 317.6,255.9 320.5,255.9 323.4,255.9 326.4,255.9 329.3,255.9 332.2,255.9 335.1,255.9 338,255.9 340.9,255.9 343.8,255.9 346.8,255.9 349.7,255.9 352.6,255.9 355.5,255.9 358.4,255.9 361.3,256 364.2,256 367.2,256 370.1,256 373,256 375.9,256 378.8,256 381.7,256 384.7,256 387.6,256 390.5,256 393.4,256.1 396.3,256.1 399.2,256.1 402.1,256.1 405.1,256.1 408,256.1 410.9,256.1 413.8,256.1 416.7,256.1 419.6,256.1 422.6,256.1 425.5,256.1 428.4,256.1 431.3,256.1 434.2,256.1 437.1,256.1 440,256.1 443,256.1 445.9,256.1 448.8,256.1 451.7,256.1" stroke="#111" stroke-width="0.8" />
<path d="M276.1,255.8a0.75,0.75 0 1 0 1.5,0a0.75,0.75 0 1 0 -1.5,0zM278.9,255.8a0.75,0.75 0 1 0 1.5,0a0.75,0.75 0 1 0 -1.5,0zM281.9,255.8a0.75,0.75 0 1 0 1.5,0a0.75,0.75 0 1 0 -1.5,0zM284.8,255.8a0.75,0.75 0 1 0 1.5,0a0.75,0.75 0 1 0 -1.5,0zM287.8,255.8a0.75,0.75 0 1 0 1.5,0a0.75,0.75 0 1 0 -1.5,0zM290.6,255.8a0.75,0.75 0 1 0 1.5,0a0.75,0.75 0 1 0 -1.5,0zM293.6,255.8a0.75,0.75 0 1 0 1.5,0a0.75,0.75 0 1 0 -1.5,0zM296.4,255.8a0.75,0.75 0 1 0 1.5,0a0.75,0.75 0 1 0 -1.5,0zM299.4,255.8a0.75,0.75 0 1 0 1.5,0a0.75,0.75 0 1 0 -1.5,0zM302.2,255.9a0.75,0.75 0 1 0 1.5,0a0.75,0.75 0 1 0 -1.5,0zM305.1,255.9a0.75,0.75 0 1 0 1.5,0a0.75,0.75 0 1 0 -1.5,0zM308.1,255.9a0.75,0.75 0 1 0 1.5,0a0.75,0.75 0 1 0 -1.5,0zM311.1,255.9a0.75,0.75 0 1 0 1.5,0a0.75,0.75 0 1 0 -1.5,0zM313.9,255.9a0.75,0.75 0 1 0 1.5,0a0.75,0.75 0 1 0 -1.5,0zM316.9,255.9a0.75,0.75 0 1 0 1.5,0a0.75,0.75 0 1 0 -1.5,0zM319.8,255.9a0.75,0.75 0 1 0 1.5,0a0.75,0.75 0 1 0 -1.5,0zM322.6,255.9a0.75,0.75 0 1 0 1.5,0a0.75,0.75 0 1 0 -1.5,0zM325.6,255.9a0.75,0.75 0 1 0 1.5,0a0.75,0.75 0 1 0 -1.5,0zM328.6,255.9a0.75,0.75 0 1 0 1.5,0a0.75,0.75 0 1 0 -1.5,0zM331.4,255.9a0.75,0.75 0 1 0 1.5,0a0.75,0.75 0 1 0 -1.5,0zM334.4,255.9a0.75,0.75 0 1 0 1.5,0a0.75,0.75 0 1 0 -1.5,0zM337.2,255.9a0.75,0.75 0 1 0 1.5,0a0.75,0.75 0 1 0 -1.5,0zM340.1,255.9a0.75,0.75 0 1 0 1.5,0a0.75,0.75 0 1 0 -1.5,0zM343.1,255.9a0.75,0.75 0 1 0 1.5,0a0.75,0.75 0 1 0 -1.5,0zM346.1,255.9a0.75,0.75 0 1 0 1.5,0a0.75,0.75 0 1 0 -1.5,0zM348.9,255.9a0.75,0.75 0 1 0 1.5,0a0.75,0.75 0 1 0 -1.5,0zM351.9,255.9a0.75,0.75 0 1 0 1.5,0a0.75,0.75 0 1 0 -1.5,0zM354.8,255.9a0.75,0.75 0 1 0 1.5,0a0.75,0.75 0 1 0 -1.5,0zM357.6,255.9a0.75,0.75 0 1 0 1.5,0a0.75,0.75 0 1 0 -1.5,0zM360.6,256a0.75,0.75 0 1 0 1.5,0a0.75,0.75 0 1 0 -1.5,0zM363.4,256a0.75,0.75 0 1 0 1.5,0a0.75,0.75 0 1 0 -1.5,0zM366.4,256a0.75,0.75 0 1 0 1.5,0a0.75,0.75 0 1 0 -1.5,0zM369.4,256a0.75,0.75 0 1 0 1.5,0a0.75,0.75 0 1 0 -1.5,0zM372.2,256a0.75,0.75 0 1 0 1.5,0a0.75,0.75 0 1 0 -1.5,0zM375.1,256a0.75,0.75 0 1 0 1.5,0a0.75,0.75 0 1 0 -1.5,0zM378.1,256a0.75,0.75 0 1 0 1.5,0a0.75,0.75 0 1 0 -1.5,0zM380.9,256a0.75,0.75 0 1 0 1.5,0a0.75,0.75 0 1 0 -1.5,0zM383.9,256a0.75,0.75 0 1 0 1.5,0a0.75,0.75 0 1 0 -1.5,0zM386.9,256a0.75,0.75 0 1 0 1.5,0a0.75,0.75 0 1 0 -1.5,0zM389.8,256a0.75,0.75 0 1 0 1.5,0a0.75,0.75 0 1 0 -1.5,0zM392.6,256.1a0.75,0.75 0 1 0 1.5,0a0.75,0.75 0 1 0 -1.5,0zM395.6,256.1a0.75,0.75 0 1 0 1.5,0a0.75,0.75 0 1 0 -1.5,0zM398.4,256.1a0.75,0.75 0 1 0 1.5,0a0.75,0.75 0 1 0 -1.5,0zM401.4,256.1a0.75,0.75 0 1 0 1.5,0a0.75,0.75 0 1 0 -1.5,0zM404.4,256.1a0.75,0.75 0 1 0 1.5,0a0.75,0.75 0 1 0 -1.5,0zM407.2,256.1a0.75,0.75 0 1 0 1.5,0a0.75,0.75 0 1 0 -1.5,0zM410.1,256.1a0.75,0.75 0 1 0 1.5,0a0.75,0.75 0 1 0 -1.5,0zM413.1,256.1a0.75,0.75 0 1 0 1.5,0a0.75,0.75 0 1 0 -1.5,0zM415.9,256.1a0.75,0.75 0 1 0 1.5,0a0.75,0.75 0 1 0 -1.5,0zM418.9,256.1a0.75,0.75 0 1 0 1.5,0a0.75,0.75 0 1 0 -1.5,0zM421.9,256.1a0.75,0.75 0 1 0 1.5,0a0.75,0.75 0 1 0 -1.5,0zM424.8,256.1a0.75,0.75 0 1 0 1.5,0a0.75,0.75 0 1 0 -1.5,0zM427.6,256.1a0.75,0.75 0 1 0 1.5,0a0.75,0.75 0 1 0 -1.5,0zM430.6,256.1a0.75,0.75 0 1 0 1.5,0a0.75,0.75 0 1 0 -1.5,0zM433.4,256.1a0.75,0.75 0 1 0 1.5,0a0.75,0.75 0 1 0 -1.5,0zM436.4,256.1a0.75,0.75 0 1 0 1.5,0a0.75,0.75 0 1 0 -1.5,0zM439.2,256.1a0.75,0.75 0 1 0 1.5,0a0.75,0.75 0 1 0 -1.5,0zM442.2,256.1a0.75,0.75 0 1 0 1.5,0a0.75,0.75 0 1 0 -1.5,0zM445.1,256.1a0.75,0.75 0 1 0 1.5,0a0.75,0.75 0 1 0 -1.5,0zM448.1,256.1a0.75,0.75 0 1 0 1.5,0a0.75,0.75 0 1 0 -1.5,0zM450.9,256.1a0.75,0.75 0 1 0 1.5,0a0.75,0.75 0 1 0 -1.5,0z" stroke="#111" stroke-width="0.4"/>
<polyline points="276.8,252.4 279.7,252.4 282.6,252.4 285.5,252.4 288.5,252.4 291.4,252.4 294.3,252.4 297.2,252.4 300.1,252.4 303,252.4 305.9,252.4 308.9,252.4 311.8,252.4 314.7,252.4 317.6,252.4 320.5,252.4 323.4,252.4 326.4,252.5 329.3,252.5 332.2,252.5 335.1,252.4 338,252.4 340.9,252.1 343.8,251.6 346.8,250.6 349.7,248.9 352.6,246.5 355.5,243.5 358.4,240.7 361.3,238.8 364.2,238.4 367.2,239.8 370.1,242.4 373,245.6 375.9,248.6 378.8,250.9 381.7,252.5 384.7,253.4 387.6,253.8 390.5,254 393.4,254.1 396.3,254.1 399.2,254.2 402.1,254.2 405.1,254.2 408,254.2 410.9,254.2 413.8,254.2 416.7,254.2 419.6,254.2 422.6,254.2 425.5,254.2 428.4,254.2 431.3,254.2 434.2,254.2 437.1,254.2 440,254.2 443,254.2 445.9,254.2 448.8,254.2 451.7,254.2" stroke="#444" stroke-width="0.7" stroke-dasharray="1.4,0.6"/>
<path d="M334.2,252.4a0.9,0.9 0 1 0 1.8,0a0.9,0.9 0 1 0 -1.8,0zM337.1,252.4a0.9,0.9 0 1 0 1.8,0a0.9,0.9 0 1 0 -1.8,0zM340,252.1a0.9,0.9 0 1 0 1.8,0a0.9,0.9 0 1 0 -1.8,0zM342.9,251.6a0.9,0.9 0 1 0 1.8,0a0.9,0.9 0 1 0 -1.8,0zM345.9,250.6a0.9,0.9 0 1 0 1.8,0a0.9,0.9 0 1 0 -1.8,0zM348.8,248.9a0.9,0.9 0 1 0 1.8,0a0.9,0.9 0 1 0 -1.8,0zM351.7,246.5a0.9,0.9 0 1 0 1.8,0a0.9,0.9 0 1 0 -1.8,0zM354.6,243.5a0.9,0.9 0 1 0 1.8,0a0.9,0.9 0 1 0 -1.8,0zM357.5,240.7a0.9,0.9 0 1 0 1.8,0a0.9,0.9 0 1 0 -1.8,0zM360.4,238.8a0.9,0.9 0 1 0 1.8,0a0.9,0.9 0 1 0 -1.8,0zM363.3,238.4a0.9,0.9 0 1 0 1.8,0a0.9,0.9 0 1 0 -1.8,0zM366.3,239.8a0.9,0.9 0 1 0 1.8,0a0.9,0.9 0 1 0 -1.8,0zM369.2,242.4a0.9,0.9 0 1 0 1.8,0a0.9,0.9 0 1 0 -1.8,0zM372.1,245.6a0.9,0.9 0 1 0 1.8,0a0.9,0.9 0 1 0 -1.8,0zM375,248.6a0.9,0.9 0 1 0 1.8,0a0.9,0.9 0 1 0 -1.8,0zM377.9,250.9a0.9,0.9 0 1 0 1.8,0a0.9,0.9 0 1 0 -1.8,0zM380.8,252.5a0.9,0.9 0 1 0 1.8,0a0.9,0.9 0 1 0 -1.8,0zM383.8,253.4a0.9,0.9 0 1 0 1.8,0a0.9,0.9 0 1 0 -1.8,0zM386.7,253.8a0.9,0.9 0 1 0 1.8,0a0.9,0.9 0 1 0 -1.8,0zM389.6,254a0.9,0.9 0 1 0 1.8,0a0.9,0.9 0 1 0 -1.8,0zM392.5,254.1a0.9,0.9 0 1 0 1.8,0a0.9,0.9 0 1 0 -1.8,0zM395.4,254.1a0.9,0.9 0 1 0 1.8,0a0.9,0.9 0 1 0 -1.8,0zM398.3,254.2a0.9,0.9 0 1 0 1.8,0a0.9,0.9 0 1 0 -1.8,0z" stroke="#1a1a1a" stroke-width="0.55"/>
<polyline points="276.8,252.4 279.7,252.4 282.6,252.4 285.5,252.4 288.5,252.4 291.4,252.4 294.3,252.4 297.2,252.4 300.1,252.4 303,252.4 305.9,252.4 308.9,252.4 311.8,252.4 314.7,252.4 317.6,252.4 320.5,252.4 323.4,252.4 326.4,252.4 329.3,252.4 332.2,252.4 335.1,252.4 338,252.4 340.9,252.4 343.8,252.4 346.8,252.4 349.7,252.4 352.6,252.3 355.5,252.1 358.4,251.5 361.3,250.1 364.2,247.2 367.2,242 370.1,234.3 373,224.5 375.9,214.7 378.8,207.4 381.7,205.3 384.7,209 387.6,217.4 390.5,227.8 393.4,237.5 396.3,244.9 399.2,249.7 402.1,252.2 405.1,253.5 408,254 410.9,254.1 413.8,254.2 416.7,254.2 419.6,254.2 422.6,254.2 425.5,254.2 428.4,254.2 431.3,254.2 434.2,254.2 437.1,254.2 440,254.2 443,254.2 445.9,254.2 448.8,254.2 451.7,254.2" stroke="#444" stroke-width="0.7" stroke-dasharray="1.4,0.6"/>
<path d="M357.5,251.5a0.9,0.9 0 1 0 1.8,0a0.9,0.9 0 1 0 -1.8,0zM360.4,250.1a0.9,0.9 0 1 0 1.8,0a0.9,0.9 0 1 0 -1.8,0zM363.3,247.2a0.9,0.9 0 1 0 1.8,0a0.9,0.9 0 1 0 -1.8,0zM366.3,242a0.9,0.9 0 1 0 1.8,0a0.9,0.9 0 1 0 -1.8,0zM369.2,234.3a0.9,0.9 0 1 0 1.8,0a0.9,0.9 0 1 0 -1.8,0zM372.1,224.5a0.9,0.9 0 1 0 1.8,0a0.9,0.9 0 1 0 -1.8,0zM375,214.7a0.9,0.9 0 1 0 1.8,0a0.9,0.9 0 1 0 -1.8,0zM377.9,207.4a0.9,0.9 0 1 0 1.8,0a0.9,0.9 0 1 0 -1.8,0zM380.8,205.3a0.9,0.9 0 1 0 1.8,0a0.9,0.9 0 1 0 -1.8,0zM383.8,209a0.9,0.9 0 1 0 1.8,0a0.9,0.9 0 1 0 -1.8,0zM386.7,217.4a0.9,0.9 0 1 0 1.8,0a0.9,0.9 0 1 0 -1.8,0zM389.6,227.8a0.9,0.9 0 1 0 1.8,0a0.9,0.9 0 1 0 -1.8,0zM392.5,237.5a0.9,0.9 0 1 0 1.8,0a0.9,0.9 0 1 0 -1.8,0zM395.4,244.9a0.9,0.9 0 1 0 1.8,0a0.9,0.9 0 1 0 -1.8,0zM398.3,249.7a0.9,0.9 0 1 0 1.8,0a0.9,0.9 0 1 0 -1.8,0zM401.2,252.2a0.9,0.9 0 1 0 1.8,0a0.9,0.9 0 1 0 -1.8,0zM404.2,253.5a0.9,0.9 0 1 0 1.8,0a0.9,0.9 0 1 0 -1.8,0zM407.1,254a0.9,0.9 0 1 0 1.8,0a0.9,0.9 0 1 0 -1.8,0zM410,254.1a0.9,0.9 0 1 0 1.8,0a0.9,0.9 0 1 0 -1.8,0z" stroke="#1a1a1a" stroke-width="0.55"/>
<rect x="268.4" y="179.4" width="191.2" height="77.4" fill="none" stroke="#333" stroke-width="0.8"/>
<path d="M271,256.3v1.5M271,179.1v1.3M282.6,256.3v1.5M282.6,179.1v1.3M288.5,256.3v1.5M288.5,179.1v1.3M294.3,256.3v1.5M294.3,179.1v1.3M300.1,256.3v1.5M300.1,179.1v1.3M311.8,256.3v1.5M311.8,179.1v1.3M317.6,256.3v1.5M317.6,179.1v1.3M323.4,256.3v1.5M323.4,179.1v1.3M329.3,256.3v1.5M329.3,179.1v1.3M340.9,256.3v1.5M340.9,179.1v1.3M346.8,256.3v1.5M346.8,179.1v1.3M352.6,256.3v1.5M352.6,179.1v1.3M358.4,256.3v1.5M358.4,179.1v1.3M370.1,256.3v1.5M370.1,179.1v1.3M375.9,256.3v1.5M375.9,179.1v1.3M381.7,256.3v1.5M381.7,179.1v1.3M387.6,256.3v1.5M387.6,179.1v1.3M399.2,256.3v1.5M399.2,179.1v1.3M405.1,256.3v1.5M405.1,179.1v1.3M410.9,256.3v1.5M410.9,179.1v1.3M416.7,256.3v1.5M416.7,179.1v1.3M428.4,256.3v1.5M428.4,179.1v1.3M434.2,256.3v1.5M434.2,179.1v1.3M440,256.3v1.5M440,179.1v1.3M445.9,256.3v1.5M445.9,179.1v1.3M457.5,256.3v1.5M457.5,179.1v1.3M276.8,255.8v2.4M276.8,178.6v2.2M305.9,255.8v2.4M305.9,178.6v2.2M335.1,255.8v2.4M335.1,178.6v2.2M364.2,255.8v2.4M364.2,178.6v2.2M393.4,255.8v2.4M393.4,178.6v2.2M422.6,255.8v2.4M422.6,178.6v2.2M451.7,255.8v2.4M451.7,178.6v2.2M267.79999999999995,256.7h1.4M458.8,256.7h1.5M267.79999999999995,251.7h1.4M458.8,251.7h1.5M267.79999999999995,249.1h1.4M458.8,249.1h1.5M267.79999999999995,246.6h1.4M458.8,246.6h1.5M267.79999999999995,244.1h1.4M458.8,244.1h1.5M267.79999999999995,239h1.4M458.8,239h1.5M267.79999999999995,236.5h1.4M458.8,236.5h1.5M267.79999999999995,234h1.4M458.8,234h1.5M267.79999999999995,231.4h1.4M458.8,231.4h1.5M267.79999999999995,226.4h1.4M458.8,226.4h1.5M267.79999999999995,223.9h1.4M458.8,223.9h1.5M267.79999999999995,221.3h1.4M458.8,221.3h1.5M267.79999999999995,218.8h1.4M458.8,218.8h1.5M267.79999999999995,213.8h1.4M458.8,213.8h1.5M267.79999999999995,211.2h1.4M458.8,211.2h1.5M267.79999999999995,208.7h1.4M458.8,208.7h1.5M267.79999999999995,206.2h1.4M458.8,206.2h1.5M267.79999999999995,201.1h1.4M458.8,201.1h1.5M267.79999999999995,198.6h1.4M458.8,198.6h1.5M267.79999999999995,196.1h1.4M458.8,196.1h1.5M267.79999999999995,193.5h1.4M458.8,193.5h1.5M267.79999999999995,188.5h1.4M458.8,188.5h1.5M267.79999999999995,185.9h1.4M458.8,185.9h1.5M267.79999999999995,183.4h1.4M458.8,183.4h1.5M267.79999999999995,180.9h1.4M458.8,180.9h1.5M267.0,254.2h2.4M458.6,254.2h2.4M267.0,241.6h2.4M458.6,241.6h2.4M267.0,228.9h2.4M458.6,228.9h2.4M267.0,216.3h2.4M458.6,216.3h2.4M267.0,203.6h2.4M458.6,203.6h2.4M267.0,191h2.4M458.6,191h2.4" stroke="#333" stroke-width="0.7"/>
<text x="276.8" y="263.8" font-size="4.3" text-anchor="middle" fill="#222" stroke="#222" stroke-width="0.18">65</text>
<text x="305.9" y="263.8" font-size="4.3" text-anchor="middle" fill="#222" stroke="#222" stroke-width="0.18">70</text>
<text x="335.1" y="263.8" font-size="4.3" text-anchor="middle" fill="#222" stroke="#222" stroke-width="0.18">75</text>
<text x="364.2" y="263.8" font-size="4.3" text-anchor="middle" fill="#222" stroke="#222" stroke-width="0.18">80</text>
<text x="393.4" y="263.8" font-size="4.3" text-anchor="middle" fill="#222" stroke="#222" stroke-width="0.18">85</text>
<text x="422.6" y="263.8" font-size="4.3" text-anchor="middle" fill="#222" stroke="#222" stroke-width="0.18">90</text>
<text x="451.7" y="263.8" font-size="4.3" text-anchor="middle" fill="#222" stroke="#222" stroke-width="0.18">95</text>
<text x="265.2" y="255.8" font-size="4.3" text-anchor="end" fill="#222" stroke="#222" stroke-width="0.18">0</text>
<text x="265.2" y="243.2" font-size="4.3" text-anchor="end" fill="#222" stroke="#222" stroke-width="0.18">100</text>
<text x="265.2" y="230.5" font-size="4.3" text-anchor="end" fill="#222" stroke="#222" stroke-width="0.18">200</text>
<text x="265.2" y="217.9" font-size="4.3" text-anchor="end" fill="#222" stroke="#222" stroke-width="0.18">300</text>
<text x="265.2" y="205.2" font-size="4.3" text-anchor="end" fill="#222" stroke="#222" stroke-width="0.18">400</text>
<text x="265.2" y="192.6" font-size="4.3" text-anchor="end" fill="#222" stroke="#222" stroke-width="0.18">500</text>
<text x="356" y="175.2" font-size="4.7" text-anchor="middle" font-weight="bold" fill="#111" stroke="#111" stroke-width="0.12">Melt Peak</text>
<text x="364.2" y="271.6" font-size="4.8" text-anchor="middle" font-weight="bold" fill="#111" stroke="#111" stroke-width="0.12">Temperature, Celsius</text>
<text transform="translate(253.9,216.2) rotate(-90)" font-size="4.4" font-weight="bold" text-anchor="middle" fill="#222" stroke="#222" stroke-width="0.15" textLength="22" lengthAdjust="spacingAndGlyphs">-d(RFU)/dT</text>
<line x1="499.1" y1="234.3" x2="673.7" y2="234.3" stroke="#74c074" stroke-width="0.8"/>
<polyline points="499.1,254.3 502,252.8 502.6,252.4 504.9,252.4 507.8,252.3 510.7,252.2 513.6,252.2 516.6,252.1 519.5,252 522.4,252 525.3,251.9 528.2,251.8 531.1,251.8 534,251.7 536.9,251.6 539.8,251.6 542.8,251.5 545.7,251.4 548.6,251.4 551.5,251.3 554.4,251.2 557.3,251.2 560.2,251.1 563.1,251 566,251 568.9,250.9 571.9,250.8 574.8,250.8 577.7,250.7 580.6,250.6 583.5,250.5 586.4,250.2 587.9,249.5 589.3,248.2 590.8,245 592.2,240.4 593.7,234 595.1,226.2 596.6,218 598,209.5 599.5,201.2 601,193.7 602.4,188.7 603.9,185.2 605.3,188.2 606.8,192.6 608.2,199.3 609.7,206.5 611.1,213.6 612.6,220.6 614,227.1 615.5,233.4 617,238.7 618.4,243.4 619.9,247.4 621.3,250 622.8,252 624.2,253.4 625.7,254 627.1,254.3 630.1,254.5 633,254.5 635.9,254.5 638.8,254.5 641.7,254.5 644.6,254.5 647.5,254.5 650.4,254.5 653.3,254.5 656.2,254.5 659.2,254.5 662.1,254.5 665,254.5 667.9,254.5 670.8,254.5 673.7,254.5" stroke="#40e030" stroke-width="0.95" />
<polyline points="499.1,254.3 502,252.6 502.6,252.3 504.9,252.2 507.8,252.2 510.7,252.1 513.6,252 516.6,252 519.5,251.9 522.4,251.8 525.3,251.8 528.2,251.7 531.1,251.6 534,251.6 536.9,251.5 539.8,251.4 542.8,251.4 545.7,251.3 548.6,251.2 551.5,251.2 554.4,251.1 557.3,251 560.2,251 563.1,250.9 566,250.8 568.9,250.8 571.9,250.7 574.8,250.6 577.7,250.6 580.6,250.5 583.5,250.4 585.2,250.1 586.7,249.4 588.1,248.1 589.6,245 591.1,240.5 592.5,234.2 594,226.6 595.4,218.5 596.9,210.2 598.3,202.1 599.8,194.8 601.2,189.8 602.7,186.5 604.2,189.4 605.6,193.8 607.1,200.4 608.5,207.4 610,214.4 611.4,221.3 612.9,227.7 614.3,233.8 615.8,239.1 617.2,243.6 618.7,247.5 620.2,250.1 621.6,252 623.1,253.4 624.5,254 626,254.3 627.1,254.4 630.1,254.5 633,254.5 635.9,254.5 638.8,254.5 641.7,254.5 644.6,254.5 647.5,254.5 650.4,254.5 653.3,254.5 656.2,254.5 659.2,254.5 662.1,254.5 665,254.5 667.9,254.5 670.8,254.5 673.7,254.5" stroke="#80e860" stroke-width="0.95" />
<polyline points="499.1,254.3 502,252.2 502.6,251.8 504.9,251.7 507.8,251.6 510.7,251.6 513.6,251.5 516.6,251.4 519.5,251.4 522.4,251.3 525.3,251.2 528.2,251.2 531.1,251.1 534,251 536.9,251 539.8,250.9 542.8,250.8 545.7,250.8 548.6,250.7 551.5,250.6 554.4,250.6 557.3,250.5 560.2,250.4 563.1,250.3 566,250.3 568.9,250.2 571.9,250.1 574.8,250.1 577.7,250 580.6,249.9 583.5,249.5 584.9,248.9 586.4,247.5 587.9,244.3 589.3,239.6 590.8,233.2 592.2,225.3 593.7,217.1 595.1,208.5 596.6,200.2 598,192.6 599.5,187.5 601,184.1 602.4,187.2 603.9,191.8 605.3,198.6 606.8,205.9 608.2,213.2 609.7,220.2 611.1,226.9 612.6,233.2 614,238.6 615.5,243.2 617,247.3 618.4,249.9 619.9,252 621.3,253.4 622.8,254 624.2,254.3 627.1,254.5 630.1,254.5 633,254.5 635.9,254.5 638.8,254.5 641.7,254.5 644.6,254.5 647.5,254.5 650.4,254.5 653.3,254.5 656.2,254.5 659.2,254.5 662.1,254.5 665,254.5 667.9,254.5 670.8,254.5 673.7,254.5" stroke="#f49840" stroke-width="0.95" />
<polyline points="499.1,254.3 502,252 502.6,251.5 504.9,251.4 507.8,251.4 510.7,251.3 513.6,251.2 516.6,251.2 519.5,251.1 522.4,251 525.3,251 528.2,250.9 531.1,250.8 534,250.8 536.9,250.7 539.8,250.6 542.8,250.6 545.7,250.5 548.6,250.4 551.5,250.3 554.4,250.3 557.3,250.2 560.2,250.1 563.1,250.1 566,250 568.9,249.9 571.9,249.9 574.8,249.8 577.7,249.7 580.6,249.7 583.5,249.6 585.8,249.2 587.3,248.6 588.7,247.4 590.2,244.3 591.6,239.9 593.1,233.9 594.5,226.5 596,218.7 597.5,210.7 598.9,202.9 600.4,195.8 601.8,191.1 603.3,188 604.7,190.9 606.2,195.4 607.6,201.8 609.1,208.7 610.6,215.6 612,222.3 613.5,228.5 614.9,234.5 616.4,239.5 617.8,243.9 619.3,247.7 620.7,250.2 622.2,252.1 623.6,253.4 625.1,254 626.6,254.3 627.1,254.4 630.1,254.5 633,254.5 635.9,254.5 638.8,254.5 641.7,254.5 644.6,254.5 647.5,254.5 650.4,254.5 653.3,254.5 656.2,254.5 659.2,254.5 662.1,254.5 665,254.5 667.9,254.5 670.8,254.5 673.7,254.5" stroke="#e07020" stroke-width="0.95" />
<polyline points="499.1,254.3 502,253.3 502.6,253.1 504.9,253.1 507.8,253 510.7,252.9 513.6,252.9 516.6,252.8 519.5,252.7 522.4,252.6 525.3,252.6 528.2,252.5 531.1,252.4 534,252.4 536.9,252.3 539.8,252.2 542.8,252.2 545.7,252.1 548.6,252 551.5,252 554.4,251.9 557.3,251.8 560.2,251.8 563.1,251.7 566,251.6 568.9,251.6 571.9,251.5 574.8,251.4 577.7,251.4 580.6,251.3 583.5,251.2 586.4,251.2 589.3,250.9 591.1,250.3 592.5,249.2 594,246.9 595.4,243.6 596.9,238.4 598.3,232.3 599.8,225.7 601.2,218.8 602.7,211.9 604.2,205.2 605.6,199.1 607.1,195.1 608.5,192.4 610,195 611.4,198.9 612.9,204.6 614.3,210.7 615.8,216.8 617.2,222.8 618.7,228.5 620.2,233.9 621.6,238.7 623.1,243.1 624.5,246.5 626,249.4 627.4,251.5 628.9,252.8 630.3,253.8 631.8,254.2 633,254.4 635.9,254.5 638.8,254.5 641.7,254.5 644.6,254.5 647.5,254.5 650.4,254.5 653.3,254.5 656.2,254.5 659.2,254.5 662.1,254.5 665,254.5 667.9,254.5 670.8,254.5 673.7,254.5" stroke="#f060b8" stroke-width="0.95" />
<polyline points="499.1,254.3 502,253 502.6,252.7 504.9,252.6 507.8,252.6 510.7,252.5 513.6,252.4 516.6,252.4 519.5,252.3 522.4,252.2 525.3,252.2 528.2,252.1 531.1,252 534,252 536.9,251.9 539.8,251.8 542.8,251.8 545.7,251.7 548.6,251.6 551.5,251.6 554.4,251.5 557.3,251.4 560.2,251.4 563.1,251.3 566,251.2 568.9,251.2 571.9,251.1 574.8,251 577.7,251 580.6,250.9 583.5,250.8 586.4,250.8 589.3,250.7 592.2,250.3 593.4,249.9 594.8,248.8 596.3,246.5 597.7,243.3 599.2,238.2 600.7,232.3 602.1,225.8 603.6,219.1 605,212.3 606.5,205.8 607.9,199.9 609.4,196 610.8,193.4 612.3,196 613.8,199.9 615.2,205.6 616.7,211.6 618.1,217.6 619.6,223.4 621,229.1 622.5,234.4 623.9,239 625.4,243.4 626.8,246.7 628.3,249.5 629.8,251.6 631.2,252.8 632.7,253.8 634.1,254.2 635.9,254.4 638.8,254.5 641.7,254.5 644.6,254.5 647.5,254.5 650.4,254.5 653.3,254.5 656.2,254.5 659.2,254.5 662.1,254.5 665,254.5 667.9,254.5 670.8,254.5 673.7,254.5" stroke="#e03098" stroke-width="0.95" />
<polyline points="499.1,254.3 502,251.4 502.6,250.8 504.9,250.8 507.8,250.7 510.7,250.6 513.6,250.6 516.6,250.5 519.5,250.4 522.4,250.3 525.3,250.3 528.2,250.2 531.1,250.1 534,250.1 536.9,250 539.8,249.9 542.8,249.9 545.7,249.8 548.6,249.7 551.5,249.7 554.4,249.6 557.3,249.5 560.2,249.5 563.1,249.4 566,249.3 568.9,249.3 571.9,249.2 574.8,249.1 577.7,249.1 580.6,249 583.5,248.9 586.4,248.8 587.6,248.5 589,247.9 590.5,246.7 591.9,243.7 593.4,239.4 594.8,233.5 596.3,226.3 597.7,218.7 599.2,210.8 600.7,203.2 602.1,196.4 603.6,191.8 605,188.8 606.5,191.9 607.9,196.3 609.4,202.7 610.8,209.6 612.3,216.4 613.8,222.9 615.2,229 616.7,234.9 618.1,239.8 619.6,244.1 621,247.9 622.5,250.3 623.9,252.2 625.4,253.4 626.8,254 628.3,254.3 630.1,254.5 633,254.5 635.9,254.5 638.8,254.5 641.7,254.5 644.6,254.5 647.5,254.5 650.4,254.5 653.3,254.5 656.2,254.5 659.2,254.5 662.1,254.5 665,254.5 667.9,254.5 670.8,254.5 673.7,254.5" stroke="#e03838" stroke-width="0.95" />
<polyline points="499.1,254.3 502,251.1 502.6,250.4 504.9,250.3 507.8,250.3 510.7,250.2 513.6,250.1 516.6,250.1 519.5,250 522.4,249.9 525.3,249.9 528.2,249.8 531.1,249.7 534,249.7 536.9,249.6 539.8,249.5 542.8,249.5 545.7,249.4 548.6,249.3 551.5,249.3 554.4,249.2 557.3,249.1 560.2,249.1 563.1,249 566,248.9 568.9,248.9 571.9,248.8 574.8,248.7 577.7,248.7 580.6,248.6 583.5,248.5 586.4,248.4 588.1,248.1 589.6,247.5 591.1,246.3 592.5,243.4 594,239.2 595.4,233.4 596.9,226.4 598.3,218.9 599.8,211.3 601.2,203.8 602.7,197.2 604.2,192.7 605.6,189.9 607.1,192.9 608.5,197.4 610,203.7 611.4,210.5 612.9,217.2 614.3,223.6 615.8,229.6 617.2,235.3 618.7,240.2 620.2,244.4 621.6,248 623.1,250.4 624.5,252.2 626,253.5 627.4,254 628.9,254.4 630.1,254.4 633,254.5 635.9,254.5 638.8,254.5 641.7,254.5 644.6,254.5 647.5,254.5 650.4,254.5 653.3,254.5 656.2,254.5 659.2,254.5 662.1,254.5 665,254.5 667.9,254.5 670.8,254.5 673.7,254.5" stroke="#c02828" stroke-width="0.95" />
<line x1="499.1" y1="254.3" x2="673.7" y2="254.3" stroke="#a4a4a4" stroke-width="1.1"/>
<line x1="499.1" y1="255.1" x2="673.7" y2="255.1" stroke="#a4a4a4" stroke-width="1.1"/>
<line x1="499.1" y1="255.9" x2="673.7" y2="255.9" stroke="#a4a4a4" stroke-width="1.1"/>
<line x1="499.1" y1="256.8" x2="673.7" y2="256.8" stroke="#a4a4a4" stroke-width="1.1"/>
<rect x="491.5" y="179.3" width="190.2" height="78.1" fill="none" stroke="#333" stroke-width="0.8"/>
<path d="M493.3,256.9v1.5M493.3,179.0v1.3M504.9,256.9v1.5M504.9,179.0v1.3M510.7,256.9v1.5M510.7,179.0v1.3M516.6,256.9v1.5M516.6,179.0v1.3M522.4,256.9v1.5M522.4,179.0v1.3M534,256.9v1.5M534,179.0v1.3M539.8,256.9v1.5M539.8,179.0v1.3M545.7,256.9v1.5M545.7,179.0v1.3M551.5,256.9v1.5M551.5,179.0v1.3M563.1,256.9v1.5M563.1,179.0v1.3M568.9,256.9v1.5M568.9,179.0v1.3M574.8,256.9v1.5M574.8,179.0v1.3M580.6,256.9v1.5M580.6,179.0v1.3M592.2,256.9v1.5M592.2,179.0v1.3M598,256.9v1.5M598,179.0v1.3M603.9,256.9v1.5M603.9,179.0v1.3M609.7,256.9v1.5M609.7,179.0v1.3M621.3,256.9v1.5M621.3,179.0v1.3M627.1,256.9v1.5M627.1,179.0v1.3M633,256.9v1.5M633,179.0v1.3M638.8,256.9v1.5M638.8,179.0v1.3M650.4,256.9v1.5M650.4,179.0v1.3M656.2,256.9v1.5M656.2,179.0v1.3M662.1,256.9v1.5M662.1,179.0v1.3M667.9,256.9v1.5M667.9,179.0v1.3M679.5,256.9v1.5M679.5,179.0v1.3M499.1,256.4v2.4M499.1,178.5v2.2M528.2,256.4v2.4M528.2,178.5v2.2M557.3,256.4v2.4M557.3,178.5v2.2M586.4,256.4v2.4M586.4,178.5v2.2M615.5,256.4v2.4M615.5,178.5v2.2M644.6,256.4v2.4M644.6,178.5v2.2M673.7,256.4v2.4M673.7,178.5v2.2M490.9,252.3h1.4M680.9000000000001,252.3h1.5M490.9,249.6h1.4M680.9000000000001,249.6h1.5M490.9,246.9h1.4M680.9000000000001,246.9h1.5M490.9,244.2h1.4M680.9000000000001,244.2h1.5M490.9,238.8h1.4M680.9000000000001,238.8h1.5M490.9,236.1h1.4M680.9000000000001,236.1h1.5M490.9,233.4h1.4M680.9000000000001,233.4h1.5M490.9,230.7h1.4M680.9000000000001,230.7h1.5M490.9,225.3h1.4M680.9000000000001,225.3h1.5M490.9,222.6h1.4M680.9000000000001,222.6h1.5M490.9,219.8h1.4M680.9000000000001,219.8h1.5M490.9,217.1h1.4M680.9000000000001,217.1h1.5M490.9,211.7h1.4M680.9000000000001,211.7h1.5M490.9,209h1.4M680.9000000000001,209h1.5M490.9,206.3h1.4M680.9000000000001,206.3h1.5M490.9,203.6h1.4M680.9000000000001,203.6h1.5M490.9,198.2h1.4M680.9000000000001,198.2h1.5M490.9,195.5h1.4M680.9000000000001,195.5h1.5M490.9,192.8h1.4M680.9000000000001,192.8h1.5M490.9,190.1h1.4M680.9000000000001,190.1h1.5M490.9,184.7h1.4M680.9000000000001,184.7h1.5M490.9,182h1.4M680.9000000000001,182h1.5M490.1,255h2.4M680.7,255h2.4M490.1,241.5h2.4M680.7,241.5h2.4M490.1,228h2.4M680.7,228h2.4M490.1,214.4h2.4M680.7,214.4h2.4M490.1,200.9h2.4M680.7,200.9h2.4M490.1,187.4h2.4M680.7,187.4h2.4" stroke="#333" stroke-width="0.7"/>
<text x="499.1" y="263.8" font-size="4.3" text-anchor="middle" fill="#222" stroke="#222" stroke-width="0.18">65</text>
<text x="528.2" y="263.8" font-size="4.3" text-anchor="middle" fill="#222" stroke="#222" stroke-width="0.18">70</text>
<text x="557.3" y="263.8" font-size="4.3" text-anchor="middle" fill="#222" stroke="#222" stroke-width="0.18">75</text>
<text x="586.4" y="263.8" font-size="4.3" text-anchor="middle" fill="#222" stroke="#222" stroke-width="0.18">80</text>
<text x="615.5" y="263.8" font-size="4.3" text-anchor="middle" fill="#222" stroke="#222" stroke-width="0.18">85</text>
<text x="644.6" y="263.8" font-size="4.3" text-anchor="middle" fill="#222" stroke="#222" stroke-width="0.18">90</text>
<text x="673.7" y="263.8" font-size="4.3" text-anchor="middle" fill="#222" stroke="#222" stroke-width="0.18">95</text>
<text x="488.3" y="256.6" font-size="4.3" text-anchor="end" fill="#222" stroke="#222" stroke-width="0.18">0</text>
<text x="488.3" y="243.1" font-size="4.3" text-anchor="end" fill="#222" stroke="#222" stroke-width="0.18">100</text>
<text x="488.3" y="229.6" font-size="4.3" text-anchor="end" fill="#222" stroke="#222" stroke-width="0.18">200</text>
<text x="488.3" y="216" font-size="4.3" text-anchor="end" fill="#222" stroke="#222" stroke-width="0.18">300</text>
<text x="488.3" y="202.5" font-size="4.3" text-anchor="end" fill="#222" stroke="#222" stroke-width="0.18">400</text>
<text x="488.3" y="189" font-size="4.3" text-anchor="end" fill="#222" stroke="#222" stroke-width="0.18">500</text>
<text x="578.5" y="175.2" font-size="4.7" text-anchor="middle" font-weight="bold" fill="#111" stroke="#111" stroke-width="0.12">Melt Peak</text>
<text x="586.4" y="271.6" font-size="4.8" text-anchor="middle" font-weight="bold" fill="#111" stroke="#111" stroke-width="0.12">Temperature, Celsius</text>
<text transform="translate(476.9,216.2) rotate(-90)" font-size="4.4" font-weight="bold" text-anchor="middle" fill="#222" stroke="#222" stroke-width="0.15" textLength="22" lengthAdjust="spacingAndGlyphs">-d(RFU)/dT</text>
</svg>
</body></html>
